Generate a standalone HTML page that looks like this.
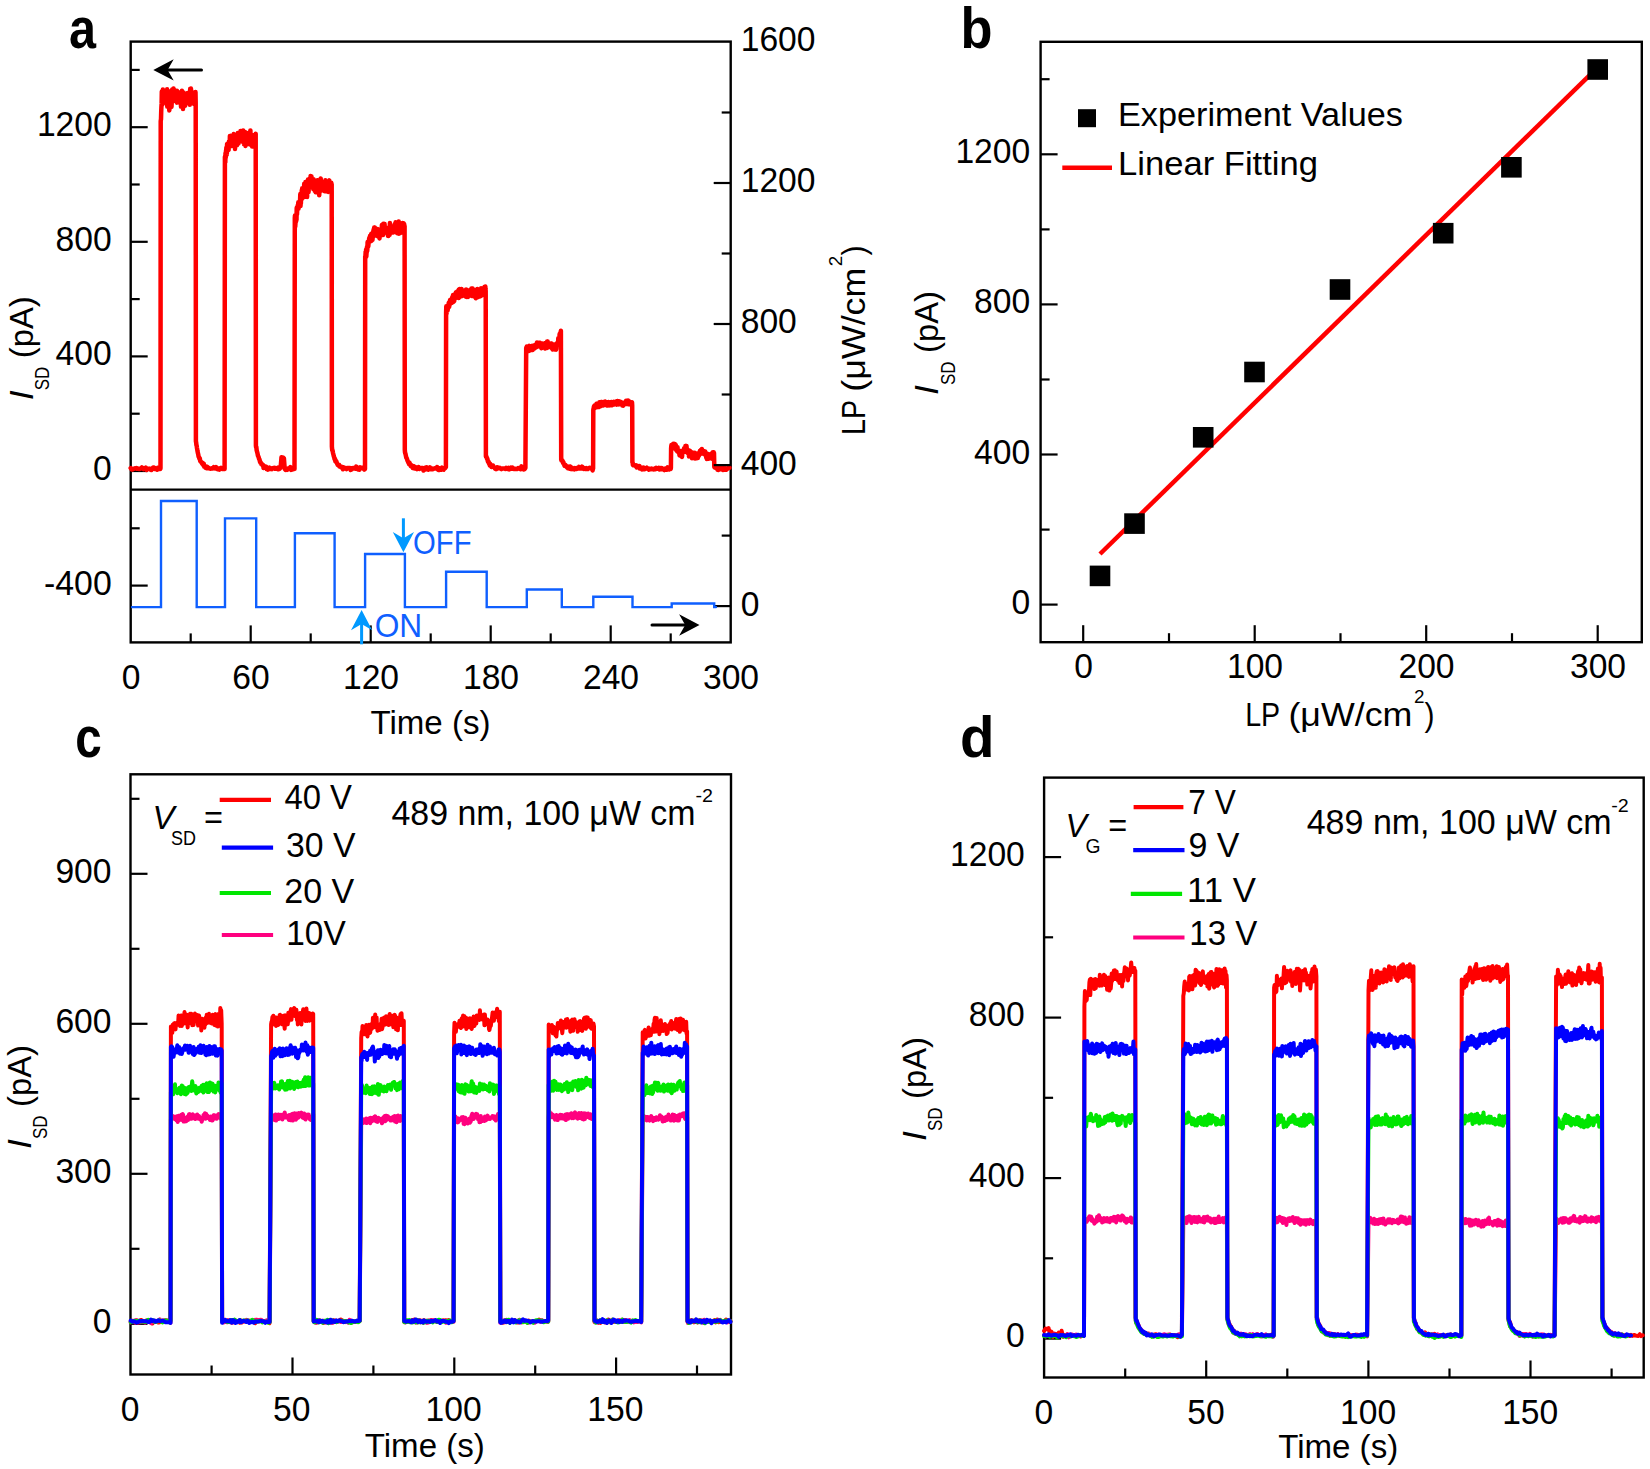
<!DOCTYPE html>
<html><head><meta charset="utf-8"><title>Figure</title>
<style>html,body{margin:0;padding:0;background:#fff}body{width:1650px;height:1469px;overflow:hidden}text{font-family:"Liberation Sans", sans-serif}</style>
</head><body>
<svg width="1650" height="1469" viewBox="0 0 1650 1469" font-family='"Liberation Sans", sans-serif' style="display:block">
<rect x="130.7" y="41.6" width="600.0" height="600.8" fill="none" stroke="#000" stroke-width="2.4"/>
<line x1="130.7" y1="489.6" x2="730.7" y2="489.6" stroke="#000" stroke-width="2.4" stroke-linecap="butt"/>
<line x1="130.7" y1="585.6" x2="147.7" y2="585.6" stroke="#000" stroke-width="2.2" stroke-linecap="butt"/>
<text x="111.7" y="594.6" font-size="35.5" text-anchor="end" textLength="67.7" lengthAdjust="spacingAndGlyphs">-400</text>
<line x1="130.7" y1="528.3" x2="139.7" y2="528.3" stroke="#000" stroke-width="2.2" stroke-linecap="butt"/>
<line x1="130.7" y1="471.0" x2="147.7" y2="471.0" stroke="#000" stroke-width="2.2" stroke-linecap="butt"/>
<text x="111.7" y="480.0" font-size="35.5" text-anchor="end" textLength="18.7" lengthAdjust="spacingAndGlyphs">0</text>
<line x1="130.7" y1="413.7" x2="139.7" y2="413.7" stroke="#000" stroke-width="2.2" stroke-linecap="butt"/>
<line x1="130.7" y1="356.4" x2="147.7" y2="356.4" stroke="#000" stroke-width="2.2" stroke-linecap="butt"/>
<text x="111.7" y="365.4" font-size="35.5" text-anchor="end" textLength="56.1" lengthAdjust="spacingAndGlyphs">400</text>
<line x1="130.7" y1="299.1" x2="139.7" y2="299.1" stroke="#000" stroke-width="2.2" stroke-linecap="butt"/>
<line x1="130.7" y1="241.8" x2="147.7" y2="241.8" stroke="#000" stroke-width="2.2" stroke-linecap="butt"/>
<text x="111.7" y="250.8" font-size="35.5" text-anchor="end" textLength="56.1" lengthAdjust="spacingAndGlyphs">800</text>
<line x1="130.7" y1="184.5" x2="139.7" y2="184.5" stroke="#000" stroke-width="2.2" stroke-linecap="butt"/>
<line x1="130.7" y1="127.2" x2="147.7" y2="127.2" stroke="#000" stroke-width="2.2" stroke-linecap="butt"/>
<text x="111.7" y="136.2" font-size="35.5" text-anchor="end" textLength="74.8" lengthAdjust="spacingAndGlyphs">1200</text>
<line x1="130.7" y1="69.9" x2="139.7" y2="69.9" stroke="#000" stroke-width="2.2" stroke-linecap="butt"/>
<line x1="730.7" y1="606.1" x2="713.7" y2="606.1" stroke="#000" stroke-width="2.2" stroke-linecap="butt"/>
<line x1="730.7" y1="535.6" x2="721.7" y2="535.6" stroke="#000" stroke-width="2.2" stroke-linecap="butt"/>
<line x1="730.7" y1="465.1" x2="713.7" y2="465.1" stroke="#000" stroke-width="2.2" stroke-linecap="butt"/>
<line x1="730.7" y1="394.5" x2="721.7" y2="394.5" stroke="#000" stroke-width="2.2" stroke-linecap="butt"/>
<line x1="730.7" y1="324.0" x2="713.7" y2="324.0" stroke="#000" stroke-width="2.2" stroke-linecap="butt"/>
<line x1="730.7" y1="253.5" x2="721.7" y2="253.5" stroke="#000" stroke-width="2.2" stroke-linecap="butt"/>
<line x1="730.7" y1="183.0" x2="713.7" y2="183.0" stroke="#000" stroke-width="2.2" stroke-linecap="butt"/>
<line x1="730.7" y1="112.5" x2="721.7" y2="112.5" stroke="#000" stroke-width="2.2" stroke-linecap="butt"/>
<text x="740.7" y="615.5" font-size="35.5" textLength="18.7" lengthAdjust="spacingAndGlyphs">0</text>
<text x="740.7" y="474.5" font-size="35.5" textLength="56.1" lengthAdjust="spacingAndGlyphs">400</text>
<text x="740.7" y="333.4" font-size="35.5" textLength="56.1" lengthAdjust="spacingAndGlyphs">800</text>
<text x="740.7" y="192.4" font-size="35.5" textLength="74.8" lengthAdjust="spacingAndGlyphs">1200</text>
<text x="740.7" y="51.3" font-size="35.5" textLength="74.8" lengthAdjust="spacingAndGlyphs">1600</text>
<text x="131.0" y="689" font-size="35.5" text-anchor="middle" textLength="18.7" lengthAdjust="spacingAndGlyphs">0</text>
<line x1="190.7" y1="642.4" x2="190.7" y2="633.4" stroke="#000" stroke-width="2.2" stroke-linecap="butt"/>
<line x1="250.7" y1="642.4" x2="250.7" y2="625.4" stroke="#000" stroke-width="2.2" stroke-linecap="butt"/>
<text x="251.0" y="689" font-size="35.5" text-anchor="middle" textLength="37.4" lengthAdjust="spacingAndGlyphs">60</text>
<line x1="310.7" y1="642.4" x2="310.7" y2="633.4" stroke="#000" stroke-width="2.2" stroke-linecap="butt"/>
<line x1="370.7" y1="642.4" x2="370.7" y2="625.4" stroke="#000" stroke-width="2.2" stroke-linecap="butt"/>
<text x="371.0" y="689" font-size="35.5" text-anchor="middle" textLength="56.1" lengthAdjust="spacingAndGlyphs">120</text>
<line x1="430.7" y1="642.4" x2="430.7" y2="633.4" stroke="#000" stroke-width="2.2" stroke-linecap="butt"/>
<line x1="490.7" y1="642.4" x2="490.7" y2="625.4" stroke="#000" stroke-width="2.2" stroke-linecap="butt"/>
<text x="491.0" y="689" font-size="35.5" text-anchor="middle" textLength="56.1" lengthAdjust="spacingAndGlyphs">180</text>
<line x1="550.7" y1="642.4" x2="550.7" y2="633.4" stroke="#000" stroke-width="2.2" stroke-linecap="butt"/>
<line x1="610.7" y1="642.4" x2="610.7" y2="625.4" stroke="#000" stroke-width="2.2" stroke-linecap="butt"/>
<text x="611.0" y="689" font-size="35.5" text-anchor="middle" textLength="56.1" lengthAdjust="spacingAndGlyphs">240</text>
<line x1="670.7" y1="642.4" x2="670.7" y2="633.4" stroke="#000" stroke-width="2.2" stroke-linecap="butt"/>
<text x="731.0" y="689" font-size="35.5" text-anchor="middle" textLength="56.1" lengthAdjust="spacingAndGlyphs">300</text>
<text x="370.5" y="733.5" font-size="33.5" textLength="120" lengthAdjust="spacingAndGlyphs">Time (s)</text>
<g transform="translate(33 399.3) rotate(-90)">
<text x="-1" y="0" font-size="33.5" textLength="10" lengthAdjust="spacingAndGlyphs" font-style="italic">I</text>
<text x="9" y="16.2" font-size="20" textLength="23.5" lengthAdjust="spacingAndGlyphs">SD</text>
<text x="41" y="0" font-size="33.5" textLength="62" lengthAdjust="spacingAndGlyphs">(pA)</text>
</g>
<g transform="translate(865 432.5) rotate(-90)">
<text x="-2.4" y="0" font-size="33.5" textLength="35" lengthAdjust="spacingAndGlyphs">LP</text>
<text x="40.8" y="0" font-size="33.5" textLength="124" lengthAdjust="spacingAndGlyphs">(μW/cm</text>
<text x="166.3" y="-22.7" font-size="18.5" textLength="10.5" lengthAdjust="spacingAndGlyphs">2</text>
<text x="177" y="0" font-size="33.5" textLength="10" lengthAdjust="spacingAndGlyphs">)</text>
</g>
<text x="69" y="48" font-size="57" textLength="27" lengthAdjust="spacingAndGlyphs" font-weight="bold">a</text>
<path d="M130.7,468.1 131.5,469.3 132.3,469.6 133.1,469.1 133.9,468.7 134.7,468.5 135.5,468.3 136.3,468.0 137.1,468.8 137.9,468.4 138.7,468.8 139.5,469.1 140.3,468.4 141.1,468.4 141.9,467.4 142.7,468.2 143.5,469.2 144.3,468.3 145.1,468.9 145.9,467.6 146.7,469.9 147.5,469.1 148.3,469.1 149.1,468.6 149.9,468.8 150.7,469.8 151.5,470.0 152.3,468.5 153.1,467.6 153.9,467.6 154.7,469.0 155.5,468.3 156.3,469.3 157.1,469.7 157.9,467.8 158.7,468.2 159.5,468.9 160.3,468.9 160.5,468.0 160.7,121.2 161.0,119.1 161.2,111.8 161.4,107.0 161.6,103.9 161.8,91.5 162.1,95.8 162.3,102.0 162.5,104.5 162.7,100.6 162.9,89.5 163.2,100.5 163.4,93.6 163.6,102.6 163.8,99.2 164.0,94.1 164.3,92.0 164.5,98.9 164.7,97.0 164.9,102.4 165.1,100.4 165.4,101.0 165.6,91.0 165.8,94.8 166.0,101.8 166.2,93.5 166.5,101.2 166.7,103.7 166.9,95.6 167.1,89.2 167.3,106.6 167.6,96.6 167.8,103.2 168.0,102.1 168.2,104.7 168.4,100.7 168.7,94.9 168.9,102.2 169.1,95.9 169.3,110.4 169.5,105.9 169.8,104.8 170.0,97.5 170.2,98.3 170.4,105.2 170.6,100.7 170.9,100.3 171.1,91.0 171.3,102.8 171.5,106.9 171.7,102.8 172.0,100.3 172.2,89.4 172.4,95.0 172.6,95.4 172.8,93.5 173.1,92.4 173.3,91.7 173.5,88.5 173.7,99.2 173.9,94.1 174.2,100.2 174.4,93.8 174.6,94.2 174.8,92.8 175.0,92.3 175.3,100.8 175.5,99.1 175.7,100.6 175.9,90.7 176.1,100.9 176.4,102.0 176.6,98.0 176.8,102.7 177.0,90.8 177.2,92.4 177.5,99.8 177.7,97.6 177.9,101.1 178.1,97.6 178.3,98.5 178.6,98.1 178.8,100.8 179.0,94.6 179.2,94.4 179.4,97.8 179.7,95.6 179.9,98.1 180.1,103.1 180.3,100.9 180.5,98.9 180.8,91.9 181.0,106.6 181.2,100.7 181.4,97.3 181.6,94.7 181.9,90.8 182.1,95.8 182.3,104.7 182.5,93.0 182.7,97.6 183.0,109.0 183.2,99.4 183.4,104.9 183.6,92.6 183.8,96.9 184.1,94.8 184.3,94.3 184.5,102.8 184.7,95.0 184.9,102.1 185.2,105.8 185.4,97.7 185.6,100.4 185.8,101.9 186.0,97.8 186.3,98.5 186.5,101.7 186.7,95.3 186.9,98.4 187.1,94.4 187.4,102.7 187.6,93.0 187.8,102.4 188.0,97.5 188.2,94.6 188.5,96.5 188.7,102.9 188.9,92.6 189.1,99.8 189.3,99.9 189.6,98.2 189.8,104.8 190.0,100.5 190.2,88.8 190.4,90.7 190.7,90.5 190.9,88.4 191.1,90.3 191.3,96.4 191.5,93.9 191.8,97.4 192.0,92.8 192.2,98.8 192.4,100.2 192.6,92.4 192.9,93.9 193.1,94.8 193.3,96.5 193.5,94.2 193.7,96.6 194.0,96.7 194.2,104.1 194.4,94.3 194.6,98.4 194.8,97.0 195.1,98.5 195.3,98.4 195.5,92.1 195.7,103.1 195.9,441.2 196.2,442.9 196.4,445.0 196.6,445.3 197.0,448.1 197.4,450.5 197.8,452.6 198.2,454.2 198.6,456.6 199.0,457.1 199.4,458.8 199.8,458.3 200.2,460.9 200.6,461.5 201.0,461.9 201.4,462.1 201.8,463.0 202.2,463.8 202.6,462.8 203.0,464.8 203.4,465.0 203.8,463.7 204.2,466.6 204.6,465.5 205.0,466.2 205.4,467.6 205.8,467.4 206.2,466.5 206.6,468.3 207.0,467.6 207.4,466.9 207.8,467.9 208.2,467.6 209.0,468.4 209.8,468.6 210.6,468.7 211.4,468.6 212.2,468.0 213.0,468.4 213.8,467.1 214.6,468.3 215.4,468.5 216.2,467.1 217.0,468.8 217.8,469.3 218.6,468.6 219.4,469.5 220.2,468.3 221.0,467.7 221.8,468.3 222.6,469.0 223.4,468.8 224.2,468.4 224.4,467.9 224.6,469.0 224.9,156.7 225.1,159.3 225.3,162.5 225.5,153.0 225.7,158.0 226.0,150.8 226.2,150.0 226.4,147.4 226.6,149.6 226.8,154.7 227.1,144.1 227.3,144.0 227.5,144.0 227.7,144.1 227.9,147.5 228.2,147.4 228.4,149.6 228.6,149.9 228.8,141.8 229.0,145.7 229.3,141.6 229.5,144.7 229.7,143.2 229.9,135.9 230.1,146.2 230.4,140.2 230.6,145.0 230.8,135.8 231.0,140.0 231.2,144.4 231.5,146.0 231.7,139.4 231.9,141.5 232.1,143.2 232.3,144.7 232.6,141.7 232.8,139.3 233.0,140.7 233.2,136.3 233.4,136.3 233.7,134.1 233.9,137.6 234.1,141.2 234.3,140.0 234.5,142.4 234.8,142.0 235.0,148.9 235.2,136.6 235.4,144.0 235.6,145.9 235.9,140.3 236.1,140.1 236.3,137.2 236.5,140.8 236.7,137.0 237.0,145.2 237.2,143.3 237.4,136.5 237.6,137.9 237.8,132.9 238.1,136.4 238.3,134.0 238.5,143.5 238.7,140.0 238.9,134.7 239.2,139.6 239.4,138.0 239.6,140.2 239.8,137.7 240.0,137.5 240.3,135.8 240.5,131.1 240.7,137.2 240.9,140.4 241.1,135.2 241.4,141.2 241.6,136.6 241.8,137.2 242.0,136.3 242.2,141.3 242.5,135.3 242.7,135.9 242.9,134.6 243.1,130.6 243.3,142.1 243.6,135.6 243.8,134.5 244.0,144.3 244.2,132.1 244.4,138.5 244.7,133.6 244.9,133.2 245.1,132.0 245.3,144.3 245.5,146.0 245.8,143.8 246.0,138.1 246.2,136.2 246.4,138.4 246.6,137.0 246.9,133.7 247.1,141.3 247.3,134.6 247.5,144.1 247.7,137.4 248.0,137.8 248.2,132.9 248.4,138.7 248.6,139.6 248.8,133.9 249.1,140.3 249.3,142.7 249.5,140.7 249.7,144.5 249.9,132.7 250.2,142.9 250.4,130.4 250.6,141.4 250.8,141.3 251.0,136.7 251.3,139.6 251.5,141.5 251.7,144.1 251.9,138.6 252.1,146.5 252.4,144.2 252.6,135.0 252.8,144.5 253.0,146.6 253.2,141.0 253.5,136.1 253.7,142.8 253.9,141.7 254.1,137.7 254.3,138.7 254.6,137.9 254.8,142.0 255.0,144.2 255.2,134.9 255.4,137.0 255.7,133.7 255.9,445.4 256.1,447.3 256.3,446.8 256.7,450.5 257.1,451.9 257.5,453.4 257.9,455.5 258.3,456.4 258.7,457.4 259.1,459.1 259.5,459.3 259.9,461.4 260.3,462.5 260.7,462.4 261.1,463.8 261.5,463.5 261.9,464.3 262.3,465.1 262.7,464.7 263.1,465.1 263.5,468.0 263.9,466.4 264.3,466.3 264.7,466.3 265.1,467.3 265.5,467.9 265.9,467.2 266.3,466.9 266.7,469.0 267.1,468.7 267.5,468.2 267.9,469.7 268.7,468.5 269.5,467.6 270.3,469.0 271.1,468.3 271.9,469.1 272.7,468.2 273.5,468.1 274.3,467.8 275.1,468.7 275.9,468.0 276.7,468.4 277.5,469.0 278.3,467.7 279.1,469.1 279.9,468.6 280.7,467.0 281.5,457.2 282.3,458.4 283.1,457.6 283.9,458.2 284.7,468.8 285.5,469.8 286.3,468.6 287.1,469.8 287.9,468.4 288.7,468.4 289.5,468.1 290.3,467.1 291.1,469.9 291.9,469.6 292.7,469.4 293.5,469.1 294.3,468.1 294.5,468.9 294.8,218.0 295.0,215.5 295.2,226.9 295.4,224.0 295.6,220.4 295.9,220.7 296.1,221.3 296.3,216.9 296.5,219.9 296.7,207.7 297.0,214.5 297.2,209.4 297.4,208.4 297.6,206.1 297.8,205.1 298.1,208.2 298.3,202.3 298.5,208.8 298.7,206.9 298.9,205.9 299.2,203.8 299.4,203.4 299.6,202.4 299.8,201.8 300.0,202.0 300.3,194.1 300.5,206.1 300.7,202.4 300.9,203.5 301.1,195.3 301.4,193.3 301.6,194.4 301.8,190.0 302.0,198.7 302.2,188.2 302.5,195.5 302.7,191.6 302.9,189.7 303.1,191.0 303.3,197.0 303.6,191.2 303.8,197.3 304.0,192.0 304.2,183.8 304.4,186.4 304.7,189.2 304.9,186.8 305.1,185.1 305.3,190.7 305.5,181.9 305.8,187.1 306.0,193.7 306.2,188.8 306.4,185.1 306.6,184.8 306.9,186.0 307.1,197.0 307.3,188.1 307.5,183.2 307.7,187.1 308.0,179.5 308.2,187.0 308.4,182.7 308.6,191.9 308.8,182.5 309.1,186.8 309.3,181.1 309.5,186.6 309.7,181.7 309.9,178.8 310.2,178.8 310.4,182.6 310.6,175.9 310.8,186.1 311.0,184.3 311.3,181.8 311.5,176.6 311.7,181.6 311.9,184.6 312.1,187.3 312.4,185.0 312.6,184.6 312.8,184.5 313.0,182.1 313.2,188.9 313.5,179.2 313.7,188.1 313.9,187.3 314.1,185.3 314.3,181.2 314.6,190.7 314.8,185.2 315.0,180.4 315.2,187.4 315.4,183.2 315.7,192.3 315.9,181.3 316.1,189.3 316.3,192.2 316.5,182.9 316.8,181.4 317.0,183.4 317.2,183.0 317.4,182.6 317.6,180.3 317.9,187.1 318.1,190.5 318.3,184.9 318.5,187.3 318.7,190.8 319.0,186.2 319.2,195.3 319.4,191.9 319.6,187.8 319.8,184.2 320.1,181.4 320.3,182.0 320.5,179.9 320.7,178.4 320.9,185.8 321.2,184.0 321.4,185.4 321.6,190.5 321.8,190.4 322.0,185.8 322.3,188.1 322.5,182.3 322.7,187.1 322.9,189.7 323.1,185.0 323.4,184.4 323.6,189.5 323.8,188.5 324.0,185.9 324.2,185.9 324.5,183.5 324.7,191.3 324.9,186.6 325.1,183.1 325.3,180.3 325.6,187.2 325.8,189.7 326.0,188.5 326.2,187.9 326.4,190.3 326.7,190.3 326.9,189.4 327.1,191.6 327.3,187.8 327.5,182.3 327.8,187.3 328.0,189.1 328.2,191.9 328.4,188.7 328.6,187.8 328.9,185.1 329.1,181.4 329.3,180.4 329.5,188.6 329.7,191.0 330.0,188.5 330.2,188.2 330.4,185.9 330.6,184.5 330.8,191.0 331.1,188.9 331.3,182.7 331.5,184.1 331.7,184.4 331.9,446.6 332.2,450.3 332.4,450.6 332.6,450.5 333.0,452.9 333.4,454.6 333.8,456.2 334.2,457.4 334.6,459.3 335.0,458.8 335.4,461.4 335.8,461.6 336.2,461.1 336.6,462.1 337.0,463.5 337.4,464.1 337.8,465.0 338.2,465.3 338.6,465.5 339.0,464.8 339.4,466.4 339.8,465.9 340.2,466.3 340.6,466.5 341.0,467.2 341.4,466.6 341.8,467.2 342.2,467.4 342.6,467.9 343.0,469.3 343.4,467.3 343.8,467.4 344.2,468.4 345.0,468.3 345.8,468.0 346.6,469.0 347.4,467.9 348.2,468.0 349.0,467.9 349.8,467.9 350.6,470.0 351.4,468.3 352.2,469.0 353.0,467.9 353.8,467.9 354.6,468.1 355.4,468.7 356.2,466.7 357.0,468.7 357.8,469.4 358.6,468.0 359.4,469.7 360.2,467.3 361.0,468.0 361.8,467.7 362.6,467.9 363.4,468.4 364.2,469.6 365.0,469.1 365.2,256.2 365.4,256.4 365.7,251.2 365.9,256.1 366.1,249.6 366.3,256.7 366.5,253.3 366.8,251.7 367.0,246.8 367.2,251.2 367.4,248.2 367.6,242.1 367.9,246.2 368.1,244.9 368.3,246.2 368.5,243.7 368.7,242.5 369.0,240.3 369.2,238.1 369.4,240.4 369.6,241.5 369.8,240.3 370.1,235.7 370.3,236.0 370.5,236.8 370.7,241.2 370.9,239.3 371.2,234.0 371.4,240.9 371.6,234.5 371.8,235.2 372.0,237.7 372.3,236.0 372.5,239.9 372.7,232.2 372.9,234.7 373.1,237.2 373.4,235.2 373.6,229.6 373.8,234.0 374.0,232.2 374.2,227.6 374.5,231.4 374.7,234.6 374.9,227.5 375.1,228.1 375.3,228.4 375.6,233.1 375.8,230.3 376.0,231.7 376.2,233.6 376.4,230.4 376.7,235.1 376.9,235.7 377.1,233.6 377.3,231.0 377.5,230.5 377.8,230.0 378.0,229.1 378.2,236.5 378.4,235.2 378.6,236.2 378.9,234.1 379.1,235.7 379.3,236.1 379.5,238.4 379.7,235.0 380.0,230.3 380.2,233.9 380.4,231.7 380.6,234.6 380.8,231.3 381.1,231.4 381.3,234.6 381.5,230.7 381.7,230.3 381.9,224.9 382.2,233.2 382.4,225.3 382.6,226.6 382.8,226.3 383.0,235.1 383.3,223.8 383.5,231.4 383.7,227.9 383.9,229.1 384.1,225.6 384.4,226.7 384.6,224.0 384.8,232.2 385.0,228.0 385.2,228.5 385.5,229.4 385.7,231.2 385.9,230.4 386.1,231.9 386.3,227.8 386.6,232.9 386.8,231.7 387.0,228.7 387.2,233.5 387.4,229.5 387.7,229.9 387.9,235.7 388.1,231.6 388.3,236.1 388.5,230.7 388.8,234.4 389.0,231.9 389.2,233.2 389.4,231.3 389.6,235.0 389.9,223.1 390.1,229.3 390.3,228.2 390.5,231.3 390.7,226.5 391.0,228.4 391.2,230.2 391.4,226.8 391.6,227.2 391.8,229.4 392.1,227.0 392.3,229.4 392.5,230.6 392.7,232.6 392.9,231.4 393.2,226.4 393.4,232.5 393.6,228.9 393.8,230.5 394.0,230.3 394.3,230.8 394.5,227.9 394.7,224.2 394.9,226.3 395.1,231.7 395.4,229.2 395.6,222.3 395.8,231.9 396.0,226.1 396.2,230.3 396.5,226.2 396.7,229.0 396.9,229.6 397.1,227.4 397.3,233.2 397.6,225.1 397.8,224.2 398.0,229.7 398.2,228.8 398.4,226.2 398.7,221.5 398.9,233.8 399.1,232.0 399.3,228.4 399.5,227.0 399.8,223.3 400.0,230.1 400.2,233.1 400.4,229.4 400.6,230.5 400.9,232.1 401.1,227.6 401.3,230.6 401.5,228.4 401.7,230.8 402.0,229.4 402.2,232.6 402.4,230.7 402.6,223.1 402.8,230.3 403.1,231.6 403.3,229.9 403.5,223.3 403.7,225.5 403.9,226.1 404.2,224.1 404.4,226.8 404.6,225.9 404.8,449.8 405.0,452.2 405.3,453.4 405.5,453.9 405.9,455.9 406.3,457.7 406.7,458.2 407.1,459.3 407.5,460.7 407.9,461.4 408.3,462.6 408.7,462.6 409.1,464.3 409.5,462.7 409.9,464.4 410.3,464.2 410.7,466.1 411.1,465.4 411.5,466.0 411.9,465.5 412.3,465.9 412.7,467.9 413.1,466.1 413.5,468.2 413.9,466.3 414.3,467.5 414.7,468.4 415.1,467.2 415.5,467.8 415.9,468.6 416.3,468.5 416.7,467.7 417.1,469.1 417.9,468.9 418.7,467.0 419.5,469.0 420.3,468.2 421.1,468.2 421.9,467.9 422.7,468.0 423.5,470.5 424.3,469.1 425.1,467.9 425.9,469.3 426.7,467.4 427.5,468.5 428.3,469.6 429.1,468.3 429.9,467.3 430.7,469.2 431.5,468.3 432.3,469.3 433.1,469.1 433.9,468.6 434.7,468.3 435.5,468.5 436.3,468.6 437.1,467.0 437.9,469.5 438.7,470.0 439.5,468.3 440.3,468.6 441.1,469.7 441.9,467.5 442.7,469.2 443.5,469.7 444.3,468.4 445.1,468.2 445.9,467.0 446.1,312.8 446.3,306.3 446.5,313.9 446.8,309.8 447.0,309.8 447.2,306.2 447.4,306.3 447.6,310.6 447.9,307.7 448.1,306.4 448.3,306.3 448.5,305.4 448.7,303.2 449.0,302.5 449.2,306.9 449.4,303.7 449.6,301.9 449.8,304.5 450.1,300.0 450.3,300.9 450.5,301.2 450.7,301.3 450.9,299.8 451.2,299.4 451.4,299.9 451.6,303.0 451.8,299.7 452.0,297.8 452.3,301.1 452.5,296.7 452.7,298.2 452.9,297.9 453.1,295.0 453.4,301.9 453.6,295.4 453.8,297.5 454.0,301.2 454.2,300.9 454.5,298.5 454.7,296.8 454.9,297.2 455.1,298.3 455.3,294.0 455.6,296.7 455.8,292.6 456.0,297.7 456.2,293.2 456.4,295.8 456.7,293.0 456.9,291.8 457.1,294.2 457.3,296.6 457.5,292.9 457.8,294.8 458.0,291.8 458.2,290.6 458.4,295.4 458.6,298.1 458.9,289.4 459.1,289.9 459.3,291.4 459.5,295.3 459.7,289.1 460.0,295.6 460.2,296.7 460.4,292.2 460.6,292.1 460.8,290.9 461.1,295.7 461.3,293.6 461.5,288.9 461.7,294.6 461.9,294.9 462.2,291.7 462.4,291.0 462.6,296.0 462.8,290.5 463.0,293.4 463.3,293.4 463.5,294.6 463.7,292.2 463.9,292.4 464.1,295.5 464.4,292.8 464.6,294.8 464.8,292.4 465.0,291.3 465.2,293.2 465.5,290.3 465.7,295.8 465.9,296.7 466.1,289.6 466.3,295.9 466.6,296.9 466.8,295.0 467.0,294.6 467.2,294.3 467.4,291.2 467.7,294.2 467.9,296.9 468.1,295.4 468.3,290.5 468.5,294.5 468.8,293.0 469.0,291.2 469.2,290.6 469.4,292.7 469.6,291.4 469.9,293.9 470.1,293.0 470.3,291.1 470.5,295.3 470.7,294.2 471.0,293.0 471.2,294.2 471.4,288.6 471.6,288.6 471.8,296.0 472.1,292.0 472.3,289.6 472.5,288.4 472.7,289.8 472.9,289.8 473.2,293.9 473.4,289.6 473.6,290.4 473.8,292.8 474.0,296.5 474.3,294.9 474.5,292.7 474.7,291.9 474.9,296.9 475.1,293.4 475.4,290.6 475.6,297.4 475.8,298.2 476.0,297.8 476.2,293.4 476.5,295.7 476.7,292.1 476.9,295.1 477.1,294.9 477.3,289.1 477.6,297.2 477.8,295.1 478.0,293.6 478.2,296.6 478.4,295.1 478.7,293.9 478.9,293.1 479.1,293.7 479.3,290.7 479.5,292.6 479.8,296.6 480.0,291.5 480.2,292.2 480.4,294.4 480.6,293.8 480.9,295.9 481.1,288.3 481.3,294.7 481.5,295.3 481.7,290.8 482.0,290.7 482.2,289.4 482.4,289.9 482.6,293.2 482.8,291.4 483.1,291.5 483.3,289.4 483.5,288.8 483.7,292.5 483.9,288.1 484.2,295.3 484.4,292.5 484.6,286.8 484.8,292.7 485.0,290.4 485.3,286.4 485.5,289.1 485.7,290.9 485.9,456.4 486.1,456.3 486.4,456.6 486.6,457.0 487.0,458.6 487.4,458.9 487.8,461.2 488.2,462.1 488.6,461.5 489.0,463.6 489.4,463.7 489.8,465.4 490.2,463.8 490.6,464.5 491.0,466.0 491.4,467.0 491.8,465.9 492.2,466.1 492.6,465.7 493.0,465.5 493.4,466.8 493.8,467.3 494.2,467.5 494.6,467.7 495.0,468.6 495.4,468.4 495.8,467.9 496.2,469.1 496.6,469.0 497.0,467.2 497.4,468.6 497.8,467.6 498.2,467.5 499.0,468.3 499.8,467.8 500.6,468.6 501.4,469.1 502.2,468.6 503.0,468.5 503.8,468.5 504.6,468.6 505.4,469.0 506.2,467.9 507.0,468.8 507.8,469.0 508.6,468.0 509.4,469.4 510.2,468.7 511.0,467.6 511.8,468.6 512.6,467.7 513.4,468.9 514.2,469.1 515.0,468.8 515.8,469.1 516.6,468.9 517.4,469.0 518.2,468.1 519.0,468.4 519.8,468.8 520.6,469.2 521.4,466.4 522.2,468.8 523.0,467.7 523.8,469.5 524.6,469.2 525.4,467.8 526.2,348.2 526.4,347.4 526.6,348.8 526.8,346.5 527.1,350.3 527.3,350.1 527.5,349.0 527.7,349.2 527.9,346.4 528.2,347.6 528.4,350.2 528.6,348.6 528.8,351.1 529.0,347.3 529.3,345.9 529.5,350.4 529.7,349.0 529.9,349.7 530.1,349.2 530.4,346.2 530.6,346.4 530.8,348.7 531.0,348.0 531.2,348.7 531.5,349.7 531.7,347.8 531.9,350.1 532.1,346.8 532.3,345.9 532.6,349.9 532.8,348.0 533.0,349.5 533.2,345.8 533.4,347.7 533.7,346.5 533.9,346.5 534.1,346.7 534.3,348.5 534.5,345.6 534.8,347.8 535.0,345.0 535.2,346.6 535.4,346.7 535.6,345.8 535.9,347.5 536.1,345.2 536.3,345.7 536.5,343.8 536.7,344.6 537.0,342.4 537.2,346.4 537.4,346.6 537.6,343.7 537.8,345.2 538.1,346.1 538.3,344.1 538.5,346.2 538.7,342.8 538.9,344.5 539.2,344.4 539.4,346.4 539.6,343.6 539.8,342.7 540.0,343.9 540.3,343.4 540.5,346.6 540.7,343.6 540.9,343.7 541.1,346.3 541.4,348.2 541.6,345.3 541.8,346.6 542.0,346.8 542.2,343.6 542.5,344.0 542.7,345.4 542.9,344.5 543.1,345.2 543.3,346.8 543.6,347.3 543.8,347.0 544.0,345.2 544.2,345.9 544.4,346.9 544.7,347.6 544.9,348.0 545.1,348.4 545.3,343.1 545.5,347.2 545.8,347.4 546.0,345.9 546.2,347.6 546.4,345.8 546.6,344.2 546.9,348.1 547.1,341.6 547.3,345.2 547.5,347.5 547.7,341.6 548.0,346.3 548.2,343.1 548.4,344.1 548.6,345.9 548.8,345.2 549.1,346.5 549.3,346.6 549.5,346.5 549.7,345.8 549.9,345.4 550.2,344.9 550.4,346.6 550.6,346.9 550.8,343.6 551.0,347.7 551.3,345.0 551.5,345.3 551.7,343.6 551.9,348.4 552.1,344.3 552.4,348.6 552.6,349.5 552.8,346.0 553.0,348.8 553.2,346.6 553.5,346.7 553.7,349.1 553.9,345.5 554.1,348.2 554.3,344.6 554.6,349.4 554.8,349.0 555.0,347.0 555.2,349.0 555.4,347.5 555.7,345.4 555.9,346.2 556.1,349.7 556.3,348.5 556.5,344.6 556.8,343.4 557.0,344.1 557.2,343.6 557.4,344.8 557.6,344.4 557.9,344.0 558.1,343.1 558.3,338.2 558.5,340.2 558.7,341.8 559.0,338.1 559.2,338.5 559.4,339.6 559.6,334.1 559.8,334.2 560.1,335.9 560.3,332.8 560.5,333.4 560.7,332.2 560.9,330.7 561.2,459.4 561.4,460.4 561.6,459.3 561.8,460.4 562.2,460.6 562.6,460.8 563.0,462.8 563.4,462.3 563.8,464.0 564.2,464.3 564.6,465.8 565.0,465.4 565.4,464.8 565.8,465.8 566.2,466.7 566.6,466.6 567.0,467.4 567.4,467.5 567.8,468.2 568.2,466.6 568.6,466.7 569.0,467.7 569.4,468.7 569.8,468.0 570.2,466.5 570.6,468.9 571.0,468.4 571.4,468.5 571.8,467.6 572.2,469.1 572.6,468.1 573.0,468.9 573.4,468.6 574.2,469.3 575.0,468.1 575.8,468.8 576.6,469.0 577.4,467.8 578.2,468.3 579.0,466.9 579.8,468.3 580.6,468.6 581.4,468.6 582.2,466.7 583.0,467.7 583.8,468.9 584.6,468.4 585.4,469.0 586.2,468.2 587.0,469.0 587.8,469.0 588.6,468.3 589.4,467.7 590.2,468.0 591.0,468.1 591.8,468.6 592.6,470.4 592.8,468.8 593.1,468.8 593.3,410.1 593.5,408.7 593.7,408.5 593.9,406.7 594.2,406.1 594.4,408.3 594.6,405.6 594.8,407.0 595.0,407.6 595.3,406.3 595.5,406.5 595.7,405.9 595.9,407.1 596.1,404.8 596.4,403.8 596.6,407.3 596.8,407.2 597.0,404.8 597.2,406.7 597.5,405.4 597.7,403.4 597.9,405.4 598.1,404.0 598.3,404.3 598.6,406.9 598.8,406.1 599.0,407.0 599.2,405.1 599.4,402.3 599.7,405.8 599.9,406.3 600.1,406.1 600.3,405.4 600.5,406.2 600.8,403.0 601.0,403.1 601.2,402.1 601.4,403.8 601.6,401.9 601.9,402.4 602.1,404.2 602.3,403.7 602.5,404.4 602.7,403.7 603.0,402.8 603.2,405.6 603.4,403.9 603.6,401.9 603.8,403.9 604.1,404.1 604.3,403.8 604.5,404.3 604.7,402.0 604.9,403.4 605.2,401.4 605.4,403.8 605.6,402.2 605.8,401.9 606.0,404.8 606.3,402.7 606.5,404.9 606.7,405.4 606.9,403.6 607.1,405.6 607.4,404.1 607.6,403.5 607.8,403.1 608.0,402.3 608.2,405.4 608.5,402.1 608.7,404.8 608.9,403.4 609.1,403.9 609.3,403.2 609.6,404.9 609.8,405.3 610.0,402.7 610.2,403.7 610.4,404.4 610.7,405.2 610.9,405.0 611.1,403.1 611.3,401.9 611.5,403.2 611.8,403.4 612.0,403.5 612.2,405.2 612.4,403.9 612.6,404.0 612.9,402.5 613.1,403.9 613.3,403.0 613.5,402.2 613.7,402.4 614.0,401.8 614.2,404.5 614.4,402.5 614.6,403.8 614.8,404.2 615.1,403.2 615.3,401.9 615.5,402.1 615.7,404.1 615.9,403.9 616.2,401.5 616.4,401.3 616.6,404.7 616.8,404.7 617.0,401.9 617.3,402.7 617.5,401.1 617.7,403.8 617.9,403.2 618.1,402.9 618.4,403.9 618.6,402.4 618.8,404.4 619.0,401.3 619.2,402.9 619.5,402.8 619.7,402.8 619.9,402.1 620.1,402.0 620.3,403.4 620.6,402.2 620.8,403.3 621.0,402.0 621.2,402.8 621.4,402.5 621.7,402.5 621.9,403.7 622.1,403.6 622.3,405.5 622.5,403.7 622.8,405.3 623.0,404.4 623.2,405.8 623.4,404.3 623.6,402.8 623.9,403.9 624.1,402.7 624.3,404.4 624.5,402.7 624.7,402.9 625.0,403.1 625.2,404.1 625.4,403.7 625.6,402.6 625.8,404.1 626.1,400.7 626.3,403.6 626.5,403.8 626.7,403.2 626.9,404.0 627.2,401.4 627.4,401.1 627.6,401.5 627.8,402.9 628.0,400.5 628.3,404.3 628.5,402.9 628.7,404.0 628.9,404.2 629.1,401.3 629.4,402.5 629.6,402.7 629.8,403.7 630.0,402.6 630.2,403.3 630.5,403.6 630.7,402.5 630.9,404.8 631.1,404.4 631.3,403.1 631.6,404.8 631.8,403.5 632.0,402.2 632.2,405.2 632.4,462.5 632.7,462.6 632.9,465.1 633.1,465.2 633.5,464.9 633.9,464.9 634.3,465.4 634.7,465.6 635.1,465.6 635.5,465.7 635.9,465.4 636.3,466.8 636.7,467.5 637.1,467.3 637.5,465.8 637.9,466.9 638.3,467.1 638.7,466.7 639.1,466.9 639.5,466.1 639.9,468.6 640.3,467.9 640.7,467.5 641.1,467.5 641.5,468.5 641.9,469.4 642.3,468.5 642.7,468.8 643.1,468.4 643.5,467.6 643.9,467.9 644.3,469.3 645.1,469.0 645.9,468.3 646.7,467.7 647.5,468.6 648.3,468.4 649.1,469.7 649.9,468.9 650.7,469.2 651.5,468.5 652.3,468.8 653.1,469.3 653.9,469.4 654.7,468.5 655.5,469.1 656.3,467.8 657.1,468.5 657.9,468.8 658.7,468.0 659.5,469.5 660.3,468.0 661.1,469.2 661.9,468.1 662.7,469.2 663.5,469.4 664.3,470.0 665.1,468.6 665.9,468.3 666.7,469.7 667.5,467.4 668.3,468.7 669.1,469.5 669.9,467.2 670.7,469.0 670.9,467.6 671.1,448.4 671.4,445.1 671.6,447.4 671.8,449.3 672.0,445.1 672.2,444.9 672.5,447.0 672.7,444.7 672.9,445.7 673.1,446.2 673.3,443.7 673.6,444.5 673.8,447.3 674.0,445.9 674.2,444.0 674.4,445.3 674.7,444.0 674.9,444.0 675.1,445.8 675.3,447.2 675.5,447.1 675.8,445.1 676.0,446.6 676.2,450.0 676.4,450.5 676.6,449.2 676.9,447.4 677.1,451.2 677.3,451.5 677.5,447.2 677.7,451.7 678.0,451.1 678.2,451.9 678.4,452.3 678.6,450.5 678.8,451.7 679.1,452.8 679.3,453.2 679.5,455.4 679.7,450.7 679.9,454.9 680.2,453.8 680.4,452.2 680.6,454.9 680.8,452.9 681.0,453.4 681.3,452.6 681.5,454.4 681.7,453.3 681.9,457.0 682.1,456.1 682.4,452.4 682.6,451.0 682.8,450.7 683.0,450.4 683.2,452.3 683.5,450.8 683.7,451.7 683.9,450.5 684.1,448.2 684.3,451.3 684.6,450.3 684.8,448.5 685.0,451.2 685.2,451.1 685.4,446.1 685.7,452.0 685.9,446.4 686.1,446.1 686.3,449.8 686.5,446.0 686.8,449.9 687.0,448.8 687.2,450.9 687.4,450.8 687.6,451.4 687.9,453.0 688.1,450.4 688.3,452.6 688.5,450.4 688.7,451.9 689.0,456.5 689.2,452.2 689.4,451.4 689.6,450.6 689.8,451.7 690.1,453.8 690.3,451.2 690.5,454.3 690.7,455.1 690.9,454.9 691.2,455.4 691.4,453.1 691.6,456.7 691.8,452.3 692.0,458.2 692.3,454.4 692.5,455.8 692.7,456.6 692.9,457.0 693.1,453.6 693.4,456.7 693.6,455.6 693.8,455.9 694.0,455.5 694.2,458.0 694.5,456.0 694.7,452.8 694.9,458.4 695.1,458.5 695.3,454.2 695.6,455.1 695.8,454.9 696.0,456.5 696.2,453.6 696.4,456.3 696.7,458.2 696.9,456.0 697.1,456.1 697.3,455.8 697.5,453.6 697.8,458.1 698.0,453.6 698.2,453.8 698.4,453.2 698.6,453.7 698.9,455.7 699.1,454.7 699.3,454.9 699.5,453.6 699.7,452.4 700.0,450.7 700.2,454.1 700.4,451.0 700.6,451.0 700.8,450.1 701.1,450.5 701.3,450.1 701.5,449.9 701.7,451.8 701.9,448.9 702.2,450.2 702.4,451.1 702.6,452.3 702.8,453.4 703.0,452.9 703.3,452.7 703.5,453.1 703.7,450.9 703.9,453.6 704.1,454.1 704.4,454.1 704.6,454.5 704.8,453.1 705.0,453.8 705.2,451.4 705.5,453.1 705.7,452.6 705.9,452.7 706.1,455.0 706.3,457.8 706.6,457.4 706.8,458.9 707.0,454.0 707.2,457.3 707.4,453.8 707.7,456.7 707.9,455.4 708.1,454.7 708.3,457.9 708.5,458.1 708.8,458.6 709.0,454.2 709.2,456.5 709.4,458.5 709.6,457.7 709.9,458.2 710.1,457.2 710.3,455.4 710.5,455.7 710.7,454.8 711.0,454.4 711.2,456.3 711.4,456.4 711.6,454.1 711.8,458.7 712.1,453.2 712.3,453.0 712.5,452.5 712.7,456.1 712.9,454.3 713.2,452.5 713.4,454.8 713.6,452.3 713.8,455.4 714.0,452.7 714.3,466.7 714.5,467.3 714.7,466.7 715.1,467.6 715.5,467.4 715.9,467.9 716.3,468.3 716.7,467.8 717.1,467.4 717.5,469.7 717.9,468.9 718.3,469.9 718.7,469.1 719.1,469.3 719.5,468.8 719.9,468.7 720.3,467.8 720.7,467.6 721.1,469.2 721.5,468.9 721.9,468.1 722.3,469.1 722.7,468.9 723.1,470.0 723.5,468.1 723.9,468.5 724.3,469.4 724.7,469.7 725.1,469.5 725.5,468.4 725.9,469.1 726.3,469.6 727.1,469.0 727.9,468.1 728.7,467.8 729.5,467.8" fill="none" stroke="#FF0000" stroke-width="4.5" stroke-linejoin="round" stroke-linecap="round"/>
<line x1="730.7" y1="465.1" x2="713.7" y2="465.1" stroke="#000" stroke-width="2.2" stroke-linecap="butt"/>
<path d="M132.0,607.1 161.0,607.1 161.0,501.0 196.7,501.0 196.7,607.1 225.0,607.1 225.0,518.4 256.2,518.4 256.2,607.1 294.9,607.1 294.9,533.3 334.6,533.3 334.6,607.1 365.1,607.1 365.1,554.0 404.9,554.0 404.9,607.1 446.1,607.1 446.1,571.8 486.7,571.8 486.7,607.1 526.8,607.1 526.8,589.5 561.8,589.5 561.8,607.1 593.3,607.1 593.3,596.7 632.5,596.7 632.5,607.1 671.7,607.1 671.7,603.5 714.2,603.5 714.2,607.1 716.0,607.1" fill="none" stroke="#0F5FFF" stroke-width="2.4" stroke-linejoin="miter" stroke-linecap="round"/>
<line x1="165.3" y1="69.9" x2="201.5" y2="69.9" stroke="#000" stroke-width="3" stroke-linecap="round"/>
<polygon points="153.3,69.9 173.70000000000002,59.2 167.60000000000002,69.9 173.70000000000002,80.60000000000001" fill="#000"/>
<line x1="687.5" y1="625" x2="652" y2="625" stroke="#000" stroke-width="3" stroke-linecap="round"/>
<polygon points="699.5,625 679.1,614.3 685.2,625 679.1,635.7" fill="#000"/>
<line x1="403.4" y1="540.3" x2="403.4" y2="518.3" stroke="#0099FF" stroke-width="3" stroke-linecap="butt"/>
<polygon points="403.4,552.3 392.79999999999995,532.0 403.4,538.3 414.0,532.0" fill="#0099FF"/>
<line x1="361.6" y1="622" x2="361.6" y2="644.3" stroke="#0099FF" stroke-width="3" stroke-linecap="butt"/>
<polygon points="361.6,610 351.0,630.3 361.6,624 372.20000000000005,630.3" fill="#0099FF"/>
<text x="413" y="553.8" font-size="33.5" textLength="58.5" lengthAdjust="spacingAndGlyphs" fill="#0F5FFF">OFF</text>
<text x="374.7" y="637.4" font-size="33.5" textLength="47.5" lengthAdjust="spacingAndGlyphs" fill="#0F5FFF">ON</text>
<rect x="1040.6" y="41.8" width="601.2" height="600.4" fill="none" stroke="#000" stroke-width="2.4"/>
<line x1="1040.6" y1="604.6" x2="1057.6" y2="604.6" stroke="#000" stroke-width="2.2" stroke-linecap="butt"/>
<text x="1030.2" y="613.6" font-size="35.5" text-anchor="end" textLength="18.7" lengthAdjust="spacingAndGlyphs">0</text>
<line x1="1040.6" y1="529.6" x2="1049.6" y2="529.6" stroke="#000" stroke-width="2.2" stroke-linecap="butt"/>
<line x1="1040.6" y1="454.5" x2="1057.6" y2="454.5" stroke="#000" stroke-width="2.2" stroke-linecap="butt"/>
<text x="1030.2" y="463.5" font-size="35.5" text-anchor="end" textLength="56.1" lengthAdjust="spacingAndGlyphs">400</text>
<line x1="1040.6" y1="379.5" x2="1049.6" y2="379.5" stroke="#000" stroke-width="2.2" stroke-linecap="butt"/>
<line x1="1040.6" y1="304.4" x2="1057.6" y2="304.4" stroke="#000" stroke-width="2.2" stroke-linecap="butt"/>
<text x="1030.2" y="313.4" font-size="35.5" text-anchor="end" textLength="56.1" lengthAdjust="spacingAndGlyphs">800</text>
<line x1="1040.6" y1="229.4" x2="1049.6" y2="229.4" stroke="#000" stroke-width="2.2" stroke-linecap="butt"/>
<line x1="1040.6" y1="154.3" x2="1057.6" y2="154.3" stroke="#000" stroke-width="2.2" stroke-linecap="butt"/>
<text x="1030.2" y="163.3" font-size="35.5" text-anchor="end" textLength="74.8" lengthAdjust="spacingAndGlyphs">1200</text>
<line x1="1040.6" y1="79.2" x2="1049.6" y2="79.2" stroke="#000" stroke-width="2.2" stroke-linecap="butt"/>
<line x1="1083.2" y1="642.2" x2="1083.2" y2="625.2" stroke="#000" stroke-width="2.2" stroke-linecap="butt"/>
<text x="1083.5" y="678.3" font-size="35.5" text-anchor="middle" textLength="18.7" lengthAdjust="spacingAndGlyphs">0</text>
<line x1="1169.0" y1="642.2" x2="1169.0" y2="633.2" stroke="#000" stroke-width="2.2" stroke-linecap="butt"/>
<line x1="1254.7" y1="642.2" x2="1254.7" y2="625.2" stroke="#000" stroke-width="2.2" stroke-linecap="butt"/>
<text x="1255.0" y="678.3" font-size="35.5" text-anchor="middle" textLength="56.1" lengthAdjust="spacingAndGlyphs">100</text>
<line x1="1340.5" y1="642.2" x2="1340.5" y2="633.2" stroke="#000" stroke-width="2.2" stroke-linecap="butt"/>
<line x1="1426.2" y1="642.2" x2="1426.2" y2="625.2" stroke="#000" stroke-width="2.2" stroke-linecap="butt"/>
<text x="1426.5" y="678.3" font-size="35.5" text-anchor="middle" textLength="56.1" lengthAdjust="spacingAndGlyphs">200</text>
<line x1="1512.0" y1="642.2" x2="1512.0" y2="633.2" stroke="#000" stroke-width="2.2" stroke-linecap="butt"/>
<line x1="1597.7" y1="642.2" x2="1597.7" y2="625.2" stroke="#000" stroke-width="2.2" stroke-linecap="butt"/>
<text x="1598.0" y="678.3" font-size="35.5" text-anchor="middle" textLength="56.1" lengthAdjust="spacingAndGlyphs">300</text>
<g transform="translate(1247.6 725.6)">
<text x="-2.4" y="0" font-size="33.5" textLength="35" lengthAdjust="spacingAndGlyphs">LP</text>
<text x="40.8" y="0" font-size="33.5" textLength="124" lengthAdjust="spacingAndGlyphs">(μW/cm</text>
<text x="166.3" y="-22.7" font-size="18.5" textLength="10.5" lengthAdjust="spacingAndGlyphs">2</text>
<text x="177" y="0" font-size="33.5" textLength="10" lengthAdjust="spacingAndGlyphs">)</text>
</g>
<g transform="translate(938.3 394) rotate(-90)">
<text x="-1" y="0" font-size="33.5" textLength="10" lengthAdjust="spacingAndGlyphs" font-style="italic">I</text>
<text x="9" y="16.2" font-size="20" textLength="23.5" lengthAdjust="spacingAndGlyphs">SD</text>
<text x="41" y="0" font-size="33.5" textLength="62" lengthAdjust="spacingAndGlyphs">(pA)</text>
</g>
<text x="960.5" y="48" font-size="58" textLength="32" lengthAdjust="spacingAndGlyphs" font-weight="bold">b</text>
<line x1="1100" y1="554" x2="1597.7" y2="67.3" stroke="#FF0000" stroke-width="4.5" stroke-linecap="butt"/>
<rect x="1089.7" y="565.6" width="20.6" height="20.6" fill="#000"/>
<rect x="1124.2" y="513.3000000000001" width="20.6" height="20.6" fill="#000"/>
<rect x="1192.9" y="427.0" width="20.6" height="20.6" fill="#000"/>
<rect x="1244.2" y="361.7" width="20.6" height="20.6" fill="#000"/>
<rect x="1329.7" y="279.2" width="20.6" height="20.6" fill="#000"/>
<rect x="1432.9" y="222.89999999999998" width="20.6" height="20.6" fill="#000"/>
<rect x="1501.1000000000001" y="157.0" width="20.6" height="20.6" fill="#000"/>
<rect x="1587.4" y="59.2" width="20.6" height="20.6" fill="#000"/>
<rect x="1078" y="109.2" width="18" height="18" fill="#000"/>
<line x1="1062.3" y1="167.7" x2="1112" y2="167.7" stroke="#FF0000" stroke-width="4.5" stroke-linecap="butt"/>
<text x="1118" y="126" font-size="33.5" textLength="285" lengthAdjust="spacingAndGlyphs">Experiment Values</text>
<text x="1118" y="175.3" font-size="33.5" textLength="200" lengthAdjust="spacingAndGlyphs">Linear Fitting</text>
<rect x="130.5" y="774.3" width="600.5" height="600.2" fill="none" stroke="#000" stroke-width="2.4"/>
<line x1="130.5" y1="1323.8" x2="147.5" y2="1323.8" stroke="#000" stroke-width="2.2" stroke-linecap="butt"/>
<text x="111.5" y="1332.6" font-size="35.5" text-anchor="end" textLength="18.7" lengthAdjust="spacingAndGlyphs">0</text>
<line x1="130.5" y1="1248.8" x2="139.5" y2="1248.8" stroke="#000" stroke-width="2.2" stroke-linecap="butt"/>
<line x1="130.5" y1="1173.8" x2="147.5" y2="1173.8" stroke="#000" stroke-width="2.2" stroke-linecap="butt"/>
<text x="111.5" y="1182.6" font-size="35.5" text-anchor="end" textLength="56.1" lengthAdjust="spacingAndGlyphs">300</text>
<line x1="130.5" y1="1098.8" x2="139.5" y2="1098.8" stroke="#000" stroke-width="2.2" stroke-linecap="butt"/>
<line x1="130.5" y1="1023.8" x2="147.5" y2="1023.8" stroke="#000" stroke-width="2.2" stroke-linecap="butt"/>
<text x="111.5" y="1032.6" font-size="35.5" text-anchor="end" textLength="56.1" lengthAdjust="spacingAndGlyphs">600</text>
<line x1="130.5" y1="948.8" x2="139.5" y2="948.8" stroke="#000" stroke-width="2.2" stroke-linecap="butt"/>
<line x1="130.5" y1="873.8" x2="147.5" y2="873.8" stroke="#000" stroke-width="2.2" stroke-linecap="butt"/>
<text x="111.5" y="882.6" font-size="35.5" text-anchor="end" textLength="56.1" lengthAdjust="spacingAndGlyphs">900</text>
<line x1="130.5" y1="798.8" x2="139.5" y2="798.8" stroke="#000" stroke-width="2.2" stroke-linecap="butt"/>
<text x="130.0" y="1420.5" font-size="35.5" text-anchor="middle" textLength="18.7" lengthAdjust="spacingAndGlyphs">0</text>
<line x1="211.6" y1="1374.5" x2="211.6" y2="1365.5" stroke="#000" stroke-width="2.2" stroke-linecap="butt"/>
<line x1="292.5" y1="1374.5" x2="292.5" y2="1357.5" stroke="#000" stroke-width="2.2" stroke-linecap="butt"/>
<text x="291.8" y="1420.5" font-size="35.5" text-anchor="middle" textLength="37.4" lengthAdjust="spacingAndGlyphs">50</text>
<line x1="373.4" y1="1374.5" x2="373.4" y2="1365.5" stroke="#000" stroke-width="2.2" stroke-linecap="butt"/>
<line x1="454.3" y1="1374.5" x2="454.3" y2="1357.5" stroke="#000" stroke-width="2.2" stroke-linecap="butt"/>
<text x="453.6" y="1420.5" font-size="35.5" text-anchor="middle" textLength="56.1" lengthAdjust="spacingAndGlyphs">100</text>
<line x1="535.2" y1="1374.5" x2="535.2" y2="1365.5" stroke="#000" stroke-width="2.2" stroke-linecap="butt"/>
<line x1="616.1" y1="1374.5" x2="616.1" y2="1357.5" stroke="#000" stroke-width="2.2" stroke-linecap="butt"/>
<text x="615.4" y="1420.5" font-size="35.5" text-anchor="middle" textLength="56.1" lengthAdjust="spacingAndGlyphs">150</text>
<line x1="697.0" y1="1374.5" x2="697.0" y2="1365.5" stroke="#000" stroke-width="2.2" stroke-linecap="butt"/>
<text x="364.8" y="1456.5" font-size="33.5" textLength="120" lengthAdjust="spacingAndGlyphs">Time (s)</text>
<g transform="translate(31 1148) rotate(-90)">
<text x="-1" y="0" font-size="33.5" textLength="10" lengthAdjust="spacingAndGlyphs" font-style="italic">I</text>
<text x="9" y="16.2" font-size="20" textLength="23.5" lengthAdjust="spacingAndGlyphs">SD</text>
<text x="41" y="0" font-size="33.5" textLength="62" lengthAdjust="spacingAndGlyphs">(pA)</text>
</g>
<text x="75.3" y="757" font-size="58" textLength="26.5" lengthAdjust="spacingAndGlyphs" font-weight="bold">c</text>
<path d="M130.7,1321.4 132.2,1321.5 133.6,1321.3 135.1,1320.6 136.5,1321.9 138.0,1322.7 139.4,1321.0 140.9,1319.9 142.3,1320.5 143.8,1322.2 145.3,1321.0 146.7,1320.5 148.2,1320.7 149.6,1320.0 151.1,1320.7 152.5,1323.5 154.0,1320.9 155.5,1321.9 156.9,1322.0 158.4,1322.6 159.8,1322.3 161.3,1321.6 162.7,1320.5 164.2,1320.5 165.6,1320.8 167.1,1320.4 168.6,1321.6 170.0,1322.0 170.5,1319.9 170.9,1026.4 171.4,1032.0 171.8,1030.1 172.3,1032.9 172.7,1024.8 173.2,1027.6 173.6,1025.2 174.1,1023.4 174.5,1023.2 175.0,1028.6 175.5,1029.4 175.9,1024.9 176.4,1023.8 176.8,1024.9 177.3,1022.5 177.7,1024.8 178.2,1021.8 178.6,1015.4 179.1,1019.0 179.5,1022.2 180.0,1025.9 180.4,1022.0 180.9,1016.7 181.3,1015.5 181.8,1025.9 182.2,1017.2 182.7,1024.3 183.2,1016.5 183.6,1022.7 184.1,1017.5 184.5,1012.1 185.0,1022.3 185.4,1023.3 185.9,1020.0 186.3,1020.0 186.8,1014.7 187.2,1021.9 187.7,1027.5 188.1,1017.0 188.6,1019.1 189.0,1021.4 189.5,1016.7 190.0,1013.8 190.4,1022.5 190.9,1023.2 191.3,1013.7 191.8,1017.8 192.2,1025.2 192.7,1015.9 193.1,1015.7 193.6,1025.1 194.0,1021.7 194.5,1019.1 194.9,1013.6 195.4,1019.0 195.8,1019.5 196.3,1016.0 196.7,1020.2 197.2,1014.9 197.7,1019.4 198.1,1025.5 198.6,1019.0 199.0,1015.4 199.5,1017.7 199.9,1022.1 200.4,1024.2 200.8,1020.1 201.3,1030.4 201.7,1019.6 202.2,1018.8 202.6,1022.1 203.1,1020.8 203.5,1021.0 204.0,1022.7 204.4,1027.7 204.9,1022.7 205.4,1024.4 205.8,1017.6 206.3,1021.6 206.7,1014.8 207.2,1023.0 207.6,1017.7 208.1,1015.8 208.5,1018.1 209.0,1013.8 209.4,1019.9 209.9,1022.7 210.3,1022.4 210.8,1018.9 211.2,1018.0 211.7,1023.6 212.2,1018.5 212.6,1014.7 213.1,1022.7 213.5,1016.0 214.0,1017.8 214.4,1024.9 214.9,1014.7 215.3,1014.2 215.8,1016.7 216.2,1025.7 216.7,1022.5 217.1,1019.9 217.6,1014.3 218.0,1026.6 218.5,1019.7 218.9,1016.2 219.4,1019.5 219.9,1021.9 220.3,1008.0 220.8,1014.2 221.2,1010.3 221.7,1023.7 222.1,1319.7 222.6,1320.0 223.0,1321.2 223.8,1320.9 224.5,1321.1 225.2,1321.0 225.9,1320.5 226.7,1322.0 227.4,1322.3 228.1,1320.4 228.8,1321.0 229.6,1321.6 230.3,1321.7 231.0,1322.3 231.8,1321.4 232.5,1322.5 233.2,1321.1 233.9,1321.0 234.7,1321.7 235.4,1320.5 236.1,1320.7 236.9,1321.1 237.6,1321.8 238.3,1321.7 239.0,1322.0 239.8,1322.7 240.5,1321.2 241.2,1320.7 242.0,1322.4 243.4,1321.0 244.9,1321.5 246.3,1321.2 247.8,1320.7 249.2,1320.6 250.7,1321.8 252.1,1320.7 253.6,1321.6 255.1,1323.2 256.5,1319.7 258.0,1321.3 259.4,1321.5 260.9,1320.3 262.3,1320.9 263.8,1321.7 265.3,1321.1 266.7,1321.0 268.2,1321.4 269.6,1323.1 271.1,1024.3 271.5,1021.9 272.0,1020.9 272.4,1016.9 272.9,1018.0 273.3,1015.7 273.8,1024.3 274.2,1019.8 274.7,1024.7 275.2,1023.1 275.6,1017.5 276.1,1025.9 276.5,1017.7 277.0,1021.2 277.4,1024.3 277.9,1020.8 278.3,1024.9 278.8,1017.2 279.2,1018.8 279.7,1015.0 280.1,1014.8 280.6,1020.5 281.0,1020.4 281.5,1022.0 282.0,1024.2 282.4,1022.7 282.9,1017.9 283.3,1015.7 283.8,1021.4 284.2,1024.5 284.7,1028.7 285.1,1015.2 285.6,1017.4 286.0,1018.2 286.5,1017.3 286.9,1024.5 287.4,1017.5 287.8,1024.2 288.3,1012.8 288.7,1021.3 289.2,1018.0 289.7,1018.7 290.1,1014.6 290.6,1011.4 291.0,1009.1 291.5,1019.7 291.9,1011.9 292.4,1009.3 292.8,1012.8 293.3,1014.5 293.7,1009.1 294.2,1008.0 294.6,1016.0 295.1,1013.4 295.5,1016.3 296.0,1013.5 296.4,1009.8 296.9,1019.9 297.4,1013.0 297.8,1024.4 298.3,1018.8 298.7,1016.7 299.2,1015.7 299.6,1020.7 300.1,1013.1 300.5,1015.0 301.0,1015.1 301.4,1024.5 301.9,1015.4 302.3,1018.3 302.8,1011.7 303.2,1009.2 303.7,1019.5 304.1,1010.5 304.6,1018.9 305.1,1015.6 305.5,1020.9 306.0,1015.9 306.4,1008.4 306.9,1015.1 307.3,1020.9 307.8,1012.7 308.2,1017.3 308.7,1019.4 309.1,1013.1 309.6,1020.7 310.0,1013.6 310.5,1016.1 310.9,1018.6 311.4,1015.5 311.9,1015.5 312.3,1013.6 312.8,1013.5 313.2,1014.0 313.7,1320.7 314.1,1321.9 314.6,1321.8 315.3,1322.4 316.0,1321.8 316.8,1322.6 317.5,1320.6 318.2,1321.4 318.9,1320.6 319.7,1320.3 320.4,1321.0 321.1,1321.1 321.9,1321.2 322.6,1321.6 323.3,1322.9 324.0,1321.2 324.8,1321.8 325.5,1322.1 326.2,1321.7 326.9,1321.3 327.7,1320.8 328.4,1322.1 329.1,1322.3 329.9,1320.5 330.6,1320.9 331.3,1320.7 332.0,1321.5 332.8,1322.4 333.5,1320.3 335.0,1320.4 336.4,1321.8 337.9,1321.0 339.3,1320.5 340.8,1319.5 342.2,1320.4 343.7,1320.9 345.1,1321.5 346.6,1321.6 348.1,1321.4 349.5,1321.8 351.0,1320.8 352.4,1321.2 353.9,1321.5 355.3,1322.1 356.8,1321.2 358.3,1321.5 359.7,1321.0 361.2,1038.1 361.6,1031.8 362.1,1035.0 362.5,1026.0 363.0,1030.9 363.4,1027.7 363.9,1030.9 364.3,1032.6 364.8,1034.3 365.2,1027.2 365.7,1033.6 366.2,1025.0 366.6,1032.0 367.1,1033.6 367.5,1036.4 368.0,1032.5 368.4,1032.3 368.9,1024.8 369.3,1025.7 369.8,1033.1 370.2,1032.6 370.7,1026.8 371.1,1025.1 371.6,1029.1 372.0,1023.4 372.5,1027.3 372.9,1017.8 373.4,1025.2 373.9,1027.4 374.3,1022.8 374.8,1024.1 375.2,1014.5 375.7,1019.5 376.1,1018.0 376.6,1017.5 377.0,1026.4 377.5,1030.8 377.9,1027.6 378.4,1025.7 378.8,1028.5 379.3,1026.9 379.7,1029.9 380.2,1028.5 380.6,1023.7 381.1,1029.2 381.6,1018.7 382.0,1029.3 382.5,1027.3 382.9,1020.0 383.4,1018.3 383.8,1019.4 384.3,1017.5 384.7,1024.8 385.2,1022.9 385.6,1024.5 386.1,1016.3 386.5,1023.8 387.0,1017.2 387.4,1019.3 387.9,1022.0 388.4,1017.8 388.8,1025.1 389.3,1016.2 389.7,1013.9 390.2,1020.0 390.6,1021.7 391.1,1018.9 391.5,1020.7 392.0,1024.8 392.4,1015.8 392.9,1022.0 393.3,1027.2 393.8,1020.8 394.2,1025.6 394.7,1014.7 395.1,1016.1 395.6,1017.2 396.1,1029.3 396.5,1017.4 397.0,1024.1 397.4,1021.0 397.9,1030.3 398.3,1018.8 398.8,1020.7 399.2,1023.6 399.7,1025.1 400.1,1016.6 400.6,1014.0 401.0,1025.1 401.5,1013.2 401.9,1021.5 402.4,1023.6 402.8,1020.2 403.3,1023.0 403.8,1020.8 404.2,1321.6 404.7,1322.2 405.1,1320.3 405.8,1320.6 406.6,1321.2 407.3,1321.2 408.0,1321.2 408.8,1321.3 409.5,1320.8 410.2,1320.9 410.9,1321.4 411.7,1321.9 412.4,1320.1 413.1,1321.6 413.9,1321.8 414.6,1319.6 415.3,1321.2 416.0,1321.4 416.8,1322.3 417.5,1322.1 418.2,1320.3 418.9,1321.5 419.7,1320.4 420.4,1322.1 421.1,1320.7 421.9,1321.2 422.6,1321.6 423.3,1322.6 424.0,1320.3 425.5,1321.1 427.0,1321.3 428.4,1320.6 429.9,1322.0 431.3,1320.2 432.8,1320.6 434.2,1320.8 435.7,1320.8 437.1,1321.7 438.6,1321.3 440.1,1320.9 441.5,1321.6 443.0,1320.2 444.4,1320.6 445.9,1320.2 447.3,1322.3 448.8,1320.1 450.3,1321.6 451.7,1321.8 453.2,1321.4 453.6,1320.2 454.1,1032.2 454.5,1022.7 455.0,1032.4 455.4,1026.0 455.9,1031.8 456.3,1026.0 456.8,1025.5 457.2,1024.5 457.7,1025.0 458.2,1025.4 458.6,1026.6 459.1,1024.1 459.5,1020.7 460.0,1022.6 460.4,1027.3 460.9,1027.9 461.3,1024.8 461.8,1018.2 462.2,1025.1 462.7,1026.7 463.1,1015.4 463.6,1017.1 464.0,1023.1 464.5,1016.2 464.9,1020.3 465.4,1025.7 465.9,1017.7 466.3,1029.0 466.8,1018.2 467.2,1022.7 467.7,1021.4 468.1,1026.1 468.6,1027.3 469.0,1020.3 469.5,1025.0 469.9,1018.2 470.4,1022.8 470.8,1019.8 471.3,1028.1 471.7,1028.9 472.2,1026.4 472.6,1018.6 473.1,1024.9 473.6,1016.5 474.0,1021.3 474.5,1025.9 474.9,1021.8 475.4,1022.9 475.8,1017.3 476.3,1023.6 476.7,1015.6 477.2,1018.8 477.6,1018.2 478.1,1019.0 478.5,1015.4 479.0,1016.7 479.4,1020.0 479.9,1010.3 480.3,1014.4 480.8,1018.9 481.3,1018.3 481.7,1015.0 482.2,1019.5 482.6,1018.3 483.1,1018.1 483.5,1017.1 484.0,1014.4 484.4,1025.3 484.9,1014.6 485.3,1020.3 485.8,1021.0 486.2,1020.0 486.7,1020.7 487.1,1024.4 487.6,1019.4 488.1,1021.5 488.5,1021.3 489.0,1029.2 489.4,1030.0 489.9,1027.7 490.3,1025.0 490.8,1025.9 491.2,1022.9 491.7,1019.9 492.1,1016.8 492.6,1012.5 493.0,1018.7 493.5,1015.8 493.9,1020.8 494.4,1016.2 494.8,1012.4 495.3,1014.2 495.8,1017.1 496.2,1012.7 496.7,1011.7 497.1,1008.8 497.6,1013.1 498.0,1013.4 498.5,1017.7 498.9,1021.3 499.4,1016.2 499.8,1011.7 500.3,1320.6 500.7,1320.6 501.2,1321.7 501.9,1322.3 502.6,1322.7 503.4,1321.6 504.1,1321.5 504.8,1322.3 505.6,1320.5 506.3,1319.9 507.0,1321.9 507.7,1320.8 508.5,1321.4 509.2,1320.9 509.9,1321.2 510.7,1321.4 511.4,1320.6 512.1,1320.8 512.8,1321.6 513.6,1320.9 514.3,1321.7 515.0,1321.3 515.8,1320.8 516.5,1321.0 517.2,1322.4 517.9,1320.9 518.7,1322.2 519.4,1321.1 520.1,1320.8 521.6,1322.4 523.0,1322.1 524.5,1320.7 525.9,1321.1 527.4,1322.8 528.9,1320.6 530.3,1321.7 531.8,1322.2 533.2,1321.1 534.7,1321.8 536.1,1321.3 537.6,1321.1 539.1,1319.5 540.5,1320.6 542.0,1321.1 543.4,1321.2 544.9,1321.0 546.3,1320.9 547.8,1321.8 548.2,1320.9 548.7,1024.6 549.1,1032.2 549.6,1025.8 550.1,1026.3 550.5,1028.8 551.0,1030.5 551.4,1028.5 551.9,1025.0 552.3,1026.7 552.8,1033.3 553.2,1033.4 553.7,1026.7 554.1,1028.3 554.6,1030.4 555.0,1028.6 555.5,1035.3 555.9,1034.2 556.4,1036.5 556.8,1031.2 557.3,1029.4 557.8,1022.9 558.2,1028.8 558.7,1023.5 559.1,1025.8 559.6,1027.3 560.0,1026.5 560.5,1022.9 560.9,1020.4 561.4,1026.0 561.8,1029.0 562.3,1033.2 562.7,1028.6 563.2,1025.4 563.6,1027.8 564.1,1021.7 564.6,1026.3 565.0,1027.0 565.5,1025.8 565.9,1019.6 566.4,1027.7 566.8,1025.3 567.3,1019.1 567.7,1023.0 568.2,1022.7 568.6,1021.8 569.1,1027.4 569.5,1023.6 570.0,1028.0 570.4,1031.8 570.9,1030.6 571.3,1020.4 571.8,1022.0 572.3,1019.6 572.7,1030.4 573.2,1030.7 573.6,1023.3 574.1,1026.0 574.5,1019.2 575.0,1027.1 575.4,1025.7 575.9,1022.1 576.3,1025.9 576.8,1023.2 577.2,1023.9 577.7,1031.8 578.1,1023.4 578.6,1026.6 579.0,1030.3 579.5,1021.4 580.0,1021.0 580.4,1029.1 580.9,1025.3 581.3,1026.8 581.8,1029.7 582.2,1030.9 582.7,1027.3 583.1,1021.7 583.6,1021.7 584.0,1018.6 584.5,1017.8 584.9,1022.1 585.4,1027.4 585.8,1028.8 586.3,1017.2 586.7,1027.4 587.2,1025.8 587.7,1017.5 588.1,1023.4 588.6,1023.3 589.0,1022.9 589.5,1026.5 589.9,1020.0 590.4,1027.7 590.8,1020.3 591.3,1027.2 591.7,1028.8 592.2,1025.1 592.6,1024.0 593.1,1028.5 593.5,1023.5 594.0,1026.4 594.5,1321.4 594.9,1322.2 595.4,1321.1 596.1,1320.7 596.8,1320.6 597.5,1321.7 598.3,1322.0 599.0,1321.5 599.7,1322.1 600.5,1322.9 601.2,1321.1 601.9,1321.0 602.6,1320.8 603.4,1322.0 604.1,1321.4 604.8,1322.2 605.6,1322.4 606.3,1321.0 607.0,1322.7 607.7,1321.6 608.5,1319.6 609.2,1320.4 609.9,1320.8 610.6,1320.9 611.4,1321.5 612.1,1321.8 612.8,1319.8 613.6,1321.5 615.0,1321.8 616.5,1320.8 617.9,1321.4 619.4,1320.4 620.8,1321.8 622.3,1321.9 623.8,1321.6 625.2,1320.1 626.7,1320.6 628.1,1321.1 629.6,1321.2 631.0,1321.1 632.5,1322.0 633.9,1320.9 635.4,1321.7 636.9,1321.1 638.3,1321.3 639.8,1321.1 641.2,1321.6 642.7,1032.2 643.1,1035.9 643.6,1035.0 644.0,1037.1 644.5,1030.6 644.9,1029.9 645.4,1038.6 645.9,1037.5 646.3,1036.2 646.8,1030.7 647.2,1032.2 647.7,1035.0 648.1,1031.7 648.6,1027.5 649.0,1035.8 649.5,1033.1 649.9,1032.0 650.4,1029.4 650.8,1035.3 651.3,1030.7 651.7,1032.3 652.2,1032.1 652.7,1028.4 653.1,1030.2 653.6,1023.7 654.0,1031.8 654.5,1020.1 654.9,1017.8 655.4,1019.6 655.8,1027.7 656.3,1031.4 656.7,1018.1 657.2,1028.5 657.6,1030.7 658.1,1031.1 658.5,1025.0 659.0,1024.2 659.4,1034.2 659.9,1027.5 660.4,1031.7 660.8,1020.2 661.3,1026.9 661.7,1026.3 662.2,1029.5 662.6,1026.2 663.1,1031.0 663.5,1027.9 664.0,1027.1 664.4,1026.6 664.9,1024.0 665.3,1027.2 665.8,1028.6 666.2,1025.3 666.7,1034.1 667.1,1029.1 667.6,1033.1 668.1,1028.3 668.5,1025.5 669.0,1028.8 669.4,1026.5 669.9,1024.0 670.3,1023.1 670.8,1023.6 671.2,1021.0 671.7,1029.4 672.1,1028.7 672.6,1024.9 673.0,1025.0 673.5,1025.7 673.9,1022.9 674.4,1024.6 674.8,1023.1 675.3,1028.7 675.8,1021.7 676.2,1019.0 676.7,1024.2 677.1,1020.6 677.6,1030.0 678.0,1023.7 678.5,1024.8 678.9,1019.1 679.4,1023.4 679.8,1031.8 680.3,1024.7 680.7,1018.6 681.2,1029.9 681.6,1023.7 682.1,1028.7 682.6,1026.3 683.0,1019.7 683.5,1023.4 683.9,1029.5 684.4,1026.4 684.8,1030.6 685.3,1027.4 685.7,1028.5 686.2,1021.8 686.6,1033.8 687.1,1031.2 687.5,1321.0 688.0,1322.8 688.4,1322.3 688.9,1322.0 689.6,1320.6 690.4,1320.6 691.1,1320.2 691.8,1322.0 692.5,1320.7 693.3,1321.1 694.0,1322.3 694.7,1320.9 695.4,1321.3 696.2,1321.8 696.9,1322.1 697.6,1322.5 698.4,1320.9 699.1,1321.0 699.8,1321.5 700.5,1321.6 701.3,1321.8 702.0,1320.7 702.7,1321.2 703.5,1322.6 704.2,1321.2 704.9,1321.0 705.6,1321.8 706.4,1321.7 707.1,1321.8 708.6,1320.8 710.0,1321.6 711.5,1321.3 712.9,1321.2 714.4,1320.2 715.8,1322.4 717.3,1319.6 718.7,1322.2 720.2,1321.5 721.7,1321.9 723.1,1321.2 724.6,1320.9 726.0,1319.6 727.5,1320.4 728.9,1321.8 730.4,1321.1" fill="none" stroke="#FF0000" stroke-width="4.0" stroke-linejoin="round" stroke-linecap="round"/>
<path d="M130.7,1322.4 132.2,1320.8 133.6,1320.7 135.1,1322.6 136.5,1320.0 138.0,1322.2 139.4,1322.2 140.9,1322.0 142.3,1321.4 143.8,1321.4 145.3,1322.6 146.7,1321.3 148.2,1321.0 149.6,1321.9 151.1,1323.1 152.5,1322.2 154.0,1321.9 155.5,1320.8 156.9,1321.7 158.4,1321.0 159.8,1319.3 161.3,1321.4 162.7,1321.5 164.2,1320.7 165.6,1320.4 167.1,1320.4 168.6,1321.3 170.0,1322.3 170.5,1322.8 170.9,1119.5 171.4,1118.5 171.8,1115.9 172.3,1116.4 172.7,1117.2 173.2,1116.2 173.6,1117.5 174.1,1116.6 174.5,1119.0 175.0,1118.6 175.5,1117.2 175.9,1117.9 176.4,1120.3 176.8,1116.3 177.3,1118.6 177.7,1122.1 178.2,1119.6 178.6,1115.7 179.1,1120.2 179.5,1115.8 180.0,1115.8 180.4,1116.9 180.9,1116.5 181.3,1114.8 181.8,1120.0 182.2,1117.7 182.7,1114.0 183.2,1115.2 183.6,1121.5 184.1,1118.6 184.5,1117.7 185.0,1121.6 185.4,1120.6 185.9,1120.2 186.3,1121.2 186.8,1118.8 187.2,1119.1 187.7,1116.4 188.1,1119.9 188.6,1115.6 189.0,1114.2 189.5,1114.1 190.0,1118.7 190.4,1116.6 190.9,1118.7 191.3,1118.8 191.8,1116.7 192.2,1115.4 192.7,1114.4 193.1,1115.0 193.6,1118.3 194.0,1117.0 194.5,1115.3 194.9,1115.5 195.4,1119.1 195.8,1118.6 196.3,1117.5 196.7,1118.3 197.2,1114.5 197.7,1116.9 198.1,1116.4 198.6,1118.8 199.0,1116.0 199.5,1118.4 199.9,1118.3 200.4,1119.4 200.8,1118.5 201.3,1118.0 201.7,1121.7 202.2,1119.8 202.6,1119.3 203.1,1117.5 203.5,1115.0 204.0,1114.9 204.4,1117.2 204.9,1113.2 205.4,1118.8 205.8,1117.5 206.3,1114.1 206.7,1116.9 207.2,1117.9 207.6,1115.8 208.1,1117.6 208.5,1116.6 209.0,1117.7 209.4,1118.3 209.9,1119.9 210.3,1117.5 210.8,1116.5 211.2,1117.6 211.7,1120.4 212.2,1120.4 212.6,1120.4 213.1,1117.4 213.5,1115.3 214.0,1116.2 214.4,1115.3 214.9,1118.5 215.3,1117.9 215.8,1117.0 216.2,1115.8 216.7,1118.8 217.1,1115.3 217.6,1116.4 218.0,1114.8 218.5,1114.1 218.9,1117.5 219.4,1116.6 219.9,1114.4 220.3,1117.4 220.8,1118.9 221.2,1113.4 221.7,1117.5 222.1,1321.8 222.6,1320.3 223.0,1320.6 223.8,1322.5 224.5,1319.8 225.2,1321.1 225.9,1321.9 226.7,1321.1 227.4,1321.2 228.1,1320.7 228.8,1320.7 229.6,1320.4 230.3,1322.2 231.0,1321.1 231.8,1321.8 232.5,1322.5 233.2,1321.9 233.9,1322.1 234.7,1321.0 235.4,1321.5 236.1,1321.0 236.9,1321.4 237.6,1321.2 238.3,1320.9 239.0,1321.9 239.8,1321.4 240.5,1321.4 241.2,1321.7 242.0,1322.1 243.4,1321.1 244.9,1320.8 246.3,1319.9 247.8,1321.2 249.2,1321.1 250.7,1322.1 252.1,1321.4 253.6,1320.4 255.1,1319.8 256.5,1320.9 258.0,1320.1 259.4,1320.0 260.9,1319.7 262.3,1320.7 263.8,1321.7 265.3,1321.1 266.7,1320.4 268.2,1321.7 269.6,1321.3 271.1,1116.3 271.5,1117.8 272.0,1115.4 272.4,1117.7 272.9,1115.6 273.3,1115.3 273.8,1115.5 274.2,1119.9 274.7,1116.0 275.2,1115.8 275.6,1114.5 276.1,1120.6 276.5,1118.3 277.0,1117.3 277.4,1117.2 277.9,1118.0 278.3,1114.4 278.8,1119.0 279.2,1116.4 279.7,1115.1 280.1,1114.7 280.6,1115.0 281.0,1118.5 281.5,1118.7 282.0,1114.7 282.4,1119.4 282.9,1115.2 283.3,1117.9 283.8,1115.0 284.2,1116.6 284.7,1112.4 285.1,1115.0 285.6,1117.6 286.0,1117.0 286.5,1115.7 286.9,1116.4 287.4,1116.5 287.8,1117.6 288.3,1115.7 288.7,1119.9 289.2,1114.9 289.7,1115.8 290.1,1119.0 290.6,1120.1 291.0,1116.1 291.5,1116.8 291.9,1114.0 292.4,1113.8 292.8,1120.6 293.3,1117.7 293.7,1116.3 294.2,1117.5 294.6,1113.2 295.1,1116.2 295.5,1115.5 296.0,1119.7 296.4,1113.5 296.9,1117.6 297.4,1114.7 297.8,1116.6 298.3,1117.6 298.7,1113.0 299.2,1113.3 299.6,1115.8 300.1,1116.0 300.5,1115.4 301.0,1114.5 301.4,1112.6 301.9,1115.0 302.3,1117.4 302.8,1116.9 303.2,1115.8 303.7,1118.2 304.1,1113.5 304.6,1114.5 305.1,1116.1 305.5,1119.6 306.0,1116.4 306.4,1116.9 306.9,1116.6 307.3,1114.6 307.8,1117.0 308.2,1115.7 308.7,1114.5 309.1,1117.7 309.6,1118.9 310.0,1116.6 310.5,1118.3 310.9,1119.9 311.4,1117.1 311.9,1116.5 312.3,1118.1 312.8,1115.9 313.2,1113.9 313.7,1321.2 314.1,1321.5 314.6,1321.9 315.3,1321.4 316.0,1322.6 316.8,1320.2 317.5,1322.1 318.2,1321.1 318.9,1321.0 319.7,1321.4 320.4,1321.3 321.1,1321.9 321.9,1321.6 322.6,1320.7 323.3,1320.8 324.0,1322.3 324.8,1321.4 325.5,1322.6 326.2,1321.4 326.9,1321.3 327.7,1322.3 328.4,1320.2 329.1,1322.3 329.9,1320.4 330.6,1322.6 331.3,1320.8 332.0,1322.8 332.8,1321.7 333.5,1322.3 335.0,1321.1 336.4,1321.9 337.9,1321.5 339.3,1321.2 340.8,1322.1 342.2,1321.8 343.7,1321.2 345.1,1322.1 346.6,1321.0 348.1,1322.7 349.5,1319.8 351.0,1320.5 352.4,1322.4 353.9,1321.9 355.3,1321.6 356.8,1320.9 358.3,1320.8 359.7,1320.5 361.2,1123.3 361.6,1118.2 362.1,1120.5 362.5,1121.5 363.0,1123.1 363.4,1119.4 363.9,1122.3 364.3,1120.3 364.8,1122.4 365.2,1121.7 365.7,1119.2 366.2,1118.5 366.6,1123.1 367.1,1119.5 367.5,1120.6 368.0,1120.1 368.4,1120.4 368.9,1118.8 369.3,1118.3 369.8,1120.3 370.2,1123.3 370.7,1117.7 371.1,1119.4 371.6,1121.4 372.0,1121.2 372.5,1118.6 372.9,1117.9 373.4,1120.5 373.9,1118.6 374.3,1116.8 374.8,1117.3 375.2,1116.3 375.7,1119.9 376.1,1121.4 376.6,1121.5 377.0,1119.2 377.5,1121.9 377.9,1118.9 378.4,1117.8 378.8,1120.7 379.3,1119.3 379.7,1119.3 380.2,1119.6 380.6,1120.9 381.1,1118.9 381.6,1121.0 382.0,1123.3 382.5,1121.9 382.9,1121.3 383.4,1117.3 383.8,1121.3 384.3,1118.0 384.7,1116.1 385.2,1121.2 385.6,1117.2 386.1,1115.7 386.5,1116.7 387.0,1119.7 387.4,1119.2 387.9,1116.1 388.4,1118.9 388.8,1118.7 389.3,1118.0 389.7,1118.6 390.2,1117.9 390.6,1120.6 391.1,1120.6 391.5,1118.9 392.0,1119.8 392.4,1118.7 392.9,1116.9 393.3,1116.8 393.8,1120.4 394.2,1117.3 394.7,1116.1 395.1,1121.6 395.6,1116.3 396.1,1119.9 396.5,1122.2 397.0,1118.9 397.4,1115.8 397.9,1115.6 398.3,1119.4 398.8,1120.6 399.2,1119.6 399.7,1117.3 400.1,1120.9 400.6,1115.9 401.0,1119.1 401.5,1116.5 401.9,1117.0 402.4,1116.9 402.8,1119.5 403.3,1116.9 403.8,1120.0 404.2,1320.6 404.7,1322.0 405.1,1321.2 405.8,1322.3 406.6,1320.6 407.3,1320.9 408.0,1321.6 408.8,1322.1 409.5,1321.9 410.2,1321.3 410.9,1321.9 411.7,1322.2 412.4,1321.0 413.1,1321.1 413.9,1320.6 414.6,1320.7 415.3,1322.3 416.0,1321.3 416.8,1322.1 417.5,1322.4 418.2,1321.3 418.9,1321.6 419.7,1321.1 420.4,1321.7 421.1,1320.9 421.9,1321.5 422.6,1321.2 423.3,1320.6 424.0,1320.1 425.5,1321.7 427.0,1322.9 428.4,1322.6 429.9,1320.4 431.3,1320.0 432.8,1320.7 434.2,1320.2 435.7,1321.6 437.1,1321.8 438.6,1320.4 440.1,1320.8 441.5,1320.9 443.0,1320.9 444.4,1321.4 445.9,1322.6 447.3,1320.5 448.8,1321.1 450.3,1321.9 451.7,1321.7 453.2,1320.7 453.6,1321.8 454.1,1119.8 454.5,1118.2 455.0,1119.5 455.4,1116.5 455.9,1122.1 456.3,1120.6 456.8,1117.9 457.2,1120.7 457.7,1122.4 458.2,1122.2 458.6,1118.5 459.1,1121.1 459.5,1119.0 460.0,1119.2 460.4,1119.8 460.9,1119.5 461.3,1119.0 461.8,1117.3 462.2,1118.0 462.7,1120.3 463.1,1117.1 463.6,1123.8 464.0,1122.8 464.5,1124.2 464.9,1122.3 465.4,1117.7 465.9,1118.5 466.3,1120.7 466.8,1122.9 467.2,1122.7 467.7,1123.5 468.1,1121.4 468.6,1121.8 469.0,1121.3 469.5,1118.5 469.9,1122.8 470.4,1122.0 470.8,1121.4 471.3,1116.1 471.7,1116.3 472.2,1113.7 472.6,1114.6 473.1,1115.0 473.6,1119.0 474.0,1114.6 474.5,1117.0 474.9,1115.1 475.4,1116.7 475.8,1115.6 476.3,1113.9 476.7,1117.7 477.2,1114.3 477.6,1115.2 478.1,1119.4 478.5,1117.7 479.0,1116.6 479.4,1122.2 479.9,1121.8 480.3,1122.0 480.8,1115.9 481.3,1120.8 481.7,1120.0 482.2,1118.1 482.6,1121.1 483.1,1120.4 483.5,1119.4 484.0,1119.7 484.4,1121.0 484.9,1116.5 485.3,1117.9 485.8,1120.4 486.2,1117.5 486.7,1118.5 487.1,1116.6 487.6,1115.7 488.1,1118.9 488.5,1116.9 489.0,1118.1 489.4,1118.9 489.9,1119.0 490.3,1117.5 490.8,1117.6 491.2,1117.6 491.7,1117.2 492.1,1117.7 492.6,1116.1 493.0,1116.9 493.5,1116.3 493.9,1116.5 494.4,1119.0 494.8,1116.4 495.3,1119.1 495.8,1120.5 496.2,1118.3 496.7,1116.7 497.1,1116.9 497.6,1116.5 498.0,1114.1 498.5,1116.6 498.9,1113.8 499.4,1117.8 499.8,1114.9 500.3,1322.8 500.7,1321.8 501.2,1321.6 501.9,1321.6 502.6,1321.0 503.4,1320.5 504.1,1321.9 504.8,1320.4 505.6,1321.7 506.3,1322.1 507.0,1320.8 507.7,1320.7 508.5,1320.8 509.2,1322.1 509.9,1320.3 510.7,1321.0 511.4,1321.9 512.1,1321.3 512.8,1321.2 513.6,1321.3 514.3,1321.7 515.0,1320.1 515.8,1321.7 516.5,1321.0 517.2,1321.4 517.9,1321.1 518.7,1322.5 519.4,1319.8 520.1,1320.2 521.6,1321.3 523.0,1320.5 524.5,1321.2 525.9,1320.7 527.4,1321.4 528.9,1322.5 530.3,1321.7 531.8,1321.7 533.2,1321.8 534.7,1322.8 536.1,1321.5 537.6,1320.9 539.1,1321.0 540.5,1321.9 542.0,1320.1 543.4,1321.5 544.9,1321.0 546.3,1321.5 547.8,1321.9 548.2,1321.2 548.7,1117.5 549.1,1112.6 549.6,1111.9 550.1,1116.9 550.5,1114.1 551.0,1113.2 551.4,1115.6 551.9,1117.2 552.3,1117.1 552.8,1114.8 553.2,1117.3 553.7,1115.8 554.1,1116.9 554.6,1118.3 555.0,1119.7 555.5,1115.5 555.9,1118.3 556.4,1115.0 556.8,1115.5 557.3,1120.0 557.8,1120.1 558.2,1118.5 558.7,1115.4 559.1,1118.2 559.6,1117.6 560.0,1116.6 560.5,1114.9 560.9,1118.5 561.4,1114.9 561.8,1115.0 562.3,1116.2 562.7,1118.4 563.2,1115.5 563.6,1118.7 564.1,1116.0 564.6,1118.0 565.0,1117.3 565.5,1114.5 565.9,1120.1 566.4,1117.4 566.8,1116.0 567.3,1114.1 567.7,1115.1 568.2,1118.7 568.6,1115.7 569.1,1114.2 569.5,1116.6 570.0,1114.7 570.4,1116.7 570.9,1115.9 571.3,1113.2 571.8,1118.3 572.3,1114.2 572.7,1116.6 573.2,1116.2 573.6,1118.1 574.1,1115.6 574.5,1113.0 575.0,1112.4 575.4,1114.6 575.9,1113.8 576.3,1117.8 576.8,1115.7 577.2,1117.1 577.7,1118.6 578.1,1118.0 578.6,1116.9 579.0,1112.9 579.5,1114.4 580.0,1117.9 580.4,1115.7 580.9,1116.2 581.3,1113.1 581.8,1116.4 582.2,1118.9 582.7,1117.2 583.1,1114.2 583.6,1119.5 584.0,1113.3 584.5,1116.1 584.9,1119.1 585.4,1113.5 585.8,1114.3 586.3,1117.1 586.7,1116.8 587.2,1116.4 587.7,1116.8 588.1,1113.5 588.6,1114.3 589.0,1116.3 589.5,1118.0 589.9,1117.0 590.4,1114.3 590.8,1118.5 591.3,1115.5 591.7,1119.1 592.2,1116.3 592.6,1116.9 593.1,1117.2 593.5,1115.2 594.0,1114.6 594.5,1322.0 594.9,1321.0 595.4,1321.9 596.1,1321.6 596.8,1320.5 597.5,1320.8 598.3,1322.9 599.0,1322.1 599.7,1320.8 600.5,1322.0 601.2,1320.7 601.9,1320.5 602.6,1320.5 603.4,1320.0 604.1,1322.2 604.8,1322.0 605.6,1321.7 606.3,1321.6 607.0,1320.6 607.7,1321.0 608.5,1321.9 609.2,1321.6 609.9,1322.2 610.6,1321.6 611.4,1322.3 612.1,1319.9 612.8,1320.7 613.6,1321.5 615.0,1321.4 616.5,1320.7 617.9,1321.3 619.4,1320.4 620.8,1321.2 622.3,1319.6 623.8,1320.8 625.2,1322.1 626.7,1322.0 628.1,1321.7 629.6,1320.0 631.0,1321.5 632.5,1320.6 633.9,1322.3 635.4,1320.9 636.9,1322.1 638.3,1321.6 639.8,1321.3 641.2,1322.3 642.7,1119.9 643.1,1116.6 643.6,1115.8 644.0,1117.7 644.5,1116.6 644.9,1117.4 645.4,1119.7 645.9,1118.5 646.3,1117.0 646.8,1120.4 647.2,1120.3 647.7,1117.0 648.1,1120.0 648.6,1118.7 649.0,1120.1 649.5,1120.6 649.9,1117.1 650.4,1118.2 650.8,1117.7 651.3,1116.1 651.7,1119.5 652.2,1117.6 652.7,1119.9 653.1,1121.2 653.6,1117.9 654.0,1120.2 654.5,1119.8 654.9,1118.7 655.4,1117.8 655.8,1120.1 656.3,1117.2 656.7,1118.5 657.2,1118.0 657.6,1119.0 658.1,1117.5 658.5,1119.7 659.0,1119.2 659.4,1117.3 659.9,1115.3 660.4,1118.3 660.8,1117.1 661.3,1116.4 661.7,1118.3 662.2,1117.9 662.6,1121.4 663.1,1121.4 663.5,1119.9 664.0,1121.0 664.4,1117.6 664.9,1121.0 665.3,1117.9 665.8,1118.9 666.2,1119.9 666.7,1116.5 667.1,1120.0 667.6,1116.2 668.1,1117.9 668.5,1114.6 669.0,1116.7 669.4,1119.2 669.9,1117.8 670.3,1117.2 670.8,1120.6 671.2,1119.5 671.7,1120.2 672.1,1119.9 672.6,1114.6 673.0,1119.4 673.5,1116.6 673.9,1120.8 674.4,1115.1 674.8,1115.7 675.3,1118.2 675.8,1119.9 676.2,1117.9 676.7,1116.1 677.1,1118.7 677.6,1120.5 678.0,1118.6 678.5,1115.3 678.9,1120.4 679.4,1117.0 679.8,1114.6 680.3,1115.5 680.7,1115.7 681.2,1115.8 681.6,1114.3 682.1,1116.1 682.6,1114.7 683.0,1113.5 683.5,1115.3 683.9,1113.2 684.4,1113.4 684.8,1117.7 685.3,1119.0 685.7,1117.1 686.2,1116.7 686.6,1117.8 687.1,1117.1 687.5,1321.4 688.0,1322.8 688.4,1321.3 688.9,1320.2 689.6,1321.2 690.4,1321.7 691.1,1321.2 691.8,1321.7 692.5,1320.9 693.3,1321.1 694.0,1321.5 694.7,1320.7 695.4,1320.0 696.2,1321.0 696.9,1320.3 697.6,1320.7 698.4,1321.4 699.1,1321.2 699.8,1320.2 700.5,1321.0 701.3,1320.6 702.0,1322.4 702.7,1320.7 703.5,1322.5 704.2,1319.8 704.9,1321.0 705.6,1320.6 706.4,1321.8 707.1,1321.3 708.6,1322.1 710.0,1322.0 711.5,1321.1 712.9,1321.5 714.4,1321.5 715.8,1321.4 717.3,1320.3 718.7,1320.5 720.2,1319.9 721.7,1321.4 723.1,1321.7 724.6,1321.1 726.0,1320.7 727.5,1322.3 728.9,1320.8 730.4,1321.5" fill="none" stroke="#FF007F" stroke-width="4.0" stroke-linejoin="round" stroke-linecap="round"/>
<path d="M130.7,1322.1 132.2,1321.7 133.6,1321.1 135.1,1320.8 136.5,1321.3 138.0,1320.8 139.4,1320.7 140.9,1321.6 142.3,1321.2 143.8,1321.6 145.3,1322.1 146.7,1320.5 148.2,1319.9 149.6,1321.4 151.1,1319.9 152.5,1320.0 154.0,1321.7 155.5,1321.5 156.9,1321.7 158.4,1320.5 159.8,1320.2 161.3,1321.6 162.7,1322.4 164.2,1321.2 165.6,1320.3 167.1,1320.9 168.6,1321.2 170.0,1322.5 170.5,1320.8 170.9,1092.4 171.4,1090.9 171.8,1087.7 172.3,1088.8 172.7,1090.2 173.2,1094.3 173.6,1089.9 174.1,1090.2 174.5,1090.7 175.0,1084.3 175.5,1091.6 175.9,1088.6 176.4,1090.2 176.8,1090.2 177.3,1093.3 177.7,1090.2 178.2,1089.9 178.6,1090.8 179.1,1091.2 179.5,1087.7 180.0,1092.3 180.4,1091.2 180.9,1094.2 181.3,1092.7 181.8,1085.6 182.2,1087.8 182.7,1086.2 183.2,1090.4 183.6,1089.6 184.1,1088.4 184.5,1093.9 185.0,1088.1 185.4,1089.6 185.9,1094.5 186.3,1088.5 186.8,1089.3 187.2,1093.2 187.7,1092.6 188.1,1087.4 188.6,1087.1 189.0,1088.2 189.5,1087.1 190.0,1086.6 190.4,1089.0 190.9,1087.3 191.3,1091.0 191.8,1085.1 192.2,1081.3 192.7,1085.0 193.1,1089.3 193.6,1087.4 194.0,1090.5 194.5,1089.5 194.9,1086.4 195.4,1086.0 195.8,1089.9 196.3,1093.6 196.7,1091.6 197.2,1091.1 197.7,1091.6 198.1,1092.2 198.6,1087.9 199.0,1089.1 199.5,1087.7 199.9,1090.8 200.4,1090.1 200.8,1087.4 201.3,1089.6 201.7,1085.8 202.2,1091.4 202.6,1088.8 203.1,1084.8 203.5,1092.6 204.0,1090.7 204.4,1089.9 204.9,1087.0 205.4,1084.4 205.8,1087.6 206.3,1089.3 206.7,1083.2 207.2,1090.8 207.6,1092.0 208.1,1090.2 208.5,1091.4 209.0,1092.0 209.4,1083.2 209.9,1082.5 210.3,1086.6 210.8,1086.9 211.2,1090.0 211.7,1084.8 212.2,1086.0 212.6,1083.6 213.1,1085.7 213.5,1091.5 214.0,1086.2 214.4,1088.4 214.9,1087.8 215.3,1092.4 215.8,1085.7 216.2,1086.1 216.7,1088.5 217.1,1087.0 217.6,1087.8 218.0,1089.1 218.5,1082.5 218.9,1085.0 219.4,1090.7 219.9,1086.6 220.3,1090.1 220.8,1092.8 221.2,1091.0 221.7,1083.4 222.1,1320.9 222.6,1321.4 223.0,1321.1 223.8,1320.8 224.5,1320.9 225.2,1321.1 225.9,1320.7 226.7,1321.7 227.4,1322.0 228.1,1322.0 228.8,1321.3 229.6,1321.9 230.3,1321.2 231.0,1321.4 231.8,1320.2 232.5,1322.0 233.2,1320.4 233.9,1320.8 234.7,1319.6 235.4,1321.8 236.1,1320.9 236.9,1321.7 237.6,1321.6 238.3,1321.1 239.0,1320.6 239.8,1320.2 240.5,1321.5 241.2,1321.8 242.0,1321.2 243.4,1320.4 244.9,1320.8 246.3,1320.8 247.8,1320.6 249.2,1321.2 250.7,1320.8 252.1,1319.7 253.6,1320.8 255.1,1321.7 256.5,1321.5 258.0,1321.4 259.4,1321.0 260.9,1320.8 262.3,1322.4 263.8,1321.8 265.3,1321.6 266.7,1322.0 268.2,1322.8 269.6,1322.2 271.1,1090.0 271.5,1085.3 272.0,1085.4 272.4,1085.7 272.9,1083.1 273.3,1088.4 273.8,1087.1 274.2,1082.8 274.7,1085.0 275.2,1088.4 275.6,1087.0 276.1,1086.2 276.5,1087.3 277.0,1087.9 277.4,1087.6 277.9,1085.3 278.3,1085.6 278.8,1087.1 279.2,1089.5 279.7,1084.9 280.1,1087.0 280.6,1086.9 281.0,1081.6 281.5,1081.9 282.0,1081.4 282.4,1087.4 282.9,1085.9 283.3,1083.7 283.8,1085.5 284.2,1086.7 284.7,1086.2 285.1,1089.7 285.6,1083.9 286.0,1083.8 286.5,1086.7 286.9,1089.4 287.4,1084.1 287.8,1080.9 288.3,1081.3 288.7,1083.6 289.2,1084.3 289.7,1080.7 290.1,1088.5 290.6,1087.9 291.0,1082.5 291.5,1081.5 291.9,1083.3 292.4,1085.4 292.8,1086.9 293.3,1082.3 293.7,1084.8 294.2,1088.9 294.6,1083.2 295.1,1083.1 295.5,1083.1 296.0,1082.0 296.4,1083.8 296.9,1086.8 297.4,1081.6 297.8,1085.5 298.3,1087.3 298.7,1083.5 299.2,1082.8 299.6,1083.0 300.1,1086.2 300.5,1085.8 301.0,1086.6 301.4,1083.1 301.9,1085.7 302.3,1082.3 302.8,1084.1 303.2,1086.1 303.7,1079.8 304.1,1084.5 304.6,1080.3 305.1,1077.3 305.5,1086.1 306.0,1085.1 306.4,1082.1 306.9,1079.6 307.3,1080.6 307.8,1082.6 308.2,1077.2 308.7,1085.6 309.1,1081.0 309.6,1080.2 310.0,1085.6 310.5,1077.7 310.9,1083.0 311.4,1084.7 311.9,1082.9 312.3,1081.6 312.8,1084.8 313.2,1083.6 313.7,1321.4 314.1,1322.1 314.6,1321.6 315.3,1322.2 316.0,1320.9 316.8,1319.8 317.5,1321.0 318.2,1321.4 318.9,1322.3 319.7,1321.8 320.4,1320.8 321.1,1321.2 321.9,1321.5 322.6,1322.7 323.3,1322.2 324.0,1321.0 324.8,1322.1 325.5,1320.7 326.2,1321.2 326.9,1322.1 327.7,1319.9 328.4,1323.2 329.1,1321.6 329.9,1322.4 330.6,1321.6 331.3,1320.9 332.0,1320.3 332.8,1321.0 333.5,1321.5 335.0,1321.1 336.4,1322.2 337.9,1321.4 339.3,1320.7 340.8,1321.1 342.2,1320.8 343.7,1321.7 345.1,1320.9 346.6,1321.4 348.1,1322.0 349.5,1322.5 351.0,1323.1 352.4,1322.0 353.9,1321.7 355.3,1321.2 356.8,1321.9 358.3,1322.2 359.7,1321.1 361.2,1088.1 361.6,1084.4 362.1,1085.7 362.5,1088.5 363.0,1091.7 363.4,1092.7 363.9,1089.8 364.3,1091.7 364.8,1088.2 365.2,1088.7 365.7,1093.2 366.2,1091.0 366.6,1085.4 367.1,1089.9 367.5,1088.4 368.0,1089.5 368.4,1087.8 368.9,1092.1 369.3,1088.5 369.8,1094.0 370.2,1088.0 370.7,1088.0 371.1,1091.1 371.6,1088.3 372.0,1094.2 372.5,1086.4 372.9,1090.2 373.4,1090.0 373.9,1093.0 374.3,1086.3 374.8,1090.0 375.2,1092.3 375.7,1092.5 376.1,1088.4 376.6,1093.4 377.0,1089.7 377.5,1092.9 377.9,1083.9 378.4,1089.4 378.8,1094.8 379.3,1086.9 379.7,1090.5 380.2,1087.5 380.6,1085.1 381.1,1090.8 381.6,1087.8 382.0,1088.5 382.5,1088.2 382.9,1090.0 383.4,1087.6 383.8,1091.5 384.3,1086.6 384.7,1088.0 385.2,1091.0 385.6,1088.2 386.1,1088.1 386.5,1091.2 387.0,1088.4 387.4,1089.0 387.9,1084.9 388.4,1085.4 388.8,1087.7 389.3,1087.5 389.7,1087.8 390.2,1084.6 390.6,1087.3 391.1,1089.8 391.5,1084.4 392.0,1086.2 392.4,1086.0 392.9,1082.6 393.3,1082.3 393.8,1083.2 394.2,1082.0 394.7,1083.6 395.1,1083.6 395.6,1088.5 396.1,1085.7 396.5,1087.9 397.0,1090.1 397.4,1088.4 397.9,1086.6 398.3,1083.7 398.8,1089.3 399.2,1088.2 399.7,1087.9 400.1,1082.6 400.6,1087.8 401.0,1086.5 401.5,1087.3 401.9,1083.6 402.4,1088.5 402.8,1080.9 403.3,1082.3 403.8,1085.5 404.2,1322.0 404.7,1321.0 405.1,1322.3 405.8,1320.2 406.6,1321.3 407.3,1321.9 408.0,1320.2 408.8,1320.6 409.5,1320.2 410.2,1322.3 410.9,1321.8 411.7,1321.4 412.4,1322.5 413.1,1321.2 413.9,1321.2 414.6,1321.5 415.3,1321.4 416.0,1322.4 416.8,1320.8 417.5,1320.2 418.2,1322.3 418.9,1322.2 419.7,1321.3 420.4,1322.2 421.1,1322.0 421.9,1321.6 422.6,1322.3 423.3,1322.6 424.0,1320.6 425.5,1322.1 427.0,1320.7 428.4,1321.9 429.9,1320.8 431.3,1321.7 432.8,1322.4 434.2,1320.9 435.7,1321.4 437.1,1321.9 438.6,1319.7 440.1,1320.0 441.5,1322.2 443.0,1321.4 444.4,1321.6 445.9,1322.0 447.3,1320.9 448.8,1320.7 450.3,1320.5 451.7,1322.2 453.2,1320.9 453.6,1320.4 454.1,1091.2 454.5,1086.3 455.0,1086.9 455.4,1088.1 455.9,1085.4 456.3,1084.3 456.8,1088.8 457.2,1086.6 457.7,1084.6 458.2,1084.7 458.6,1091.1 459.1,1087.1 459.5,1088.6 460.0,1092.2 460.4,1087.8 460.9,1090.2 461.3,1092.6 461.8,1085.1 462.2,1087.4 462.7,1092.7 463.1,1089.2 463.6,1089.4 464.0,1088.4 464.5,1093.8 464.9,1091.4 465.4,1084.3 465.9,1086.4 466.3,1088.3 466.8,1084.9 467.2,1089.2 467.7,1088.5 468.1,1087.6 468.6,1091.6 469.0,1088.9 469.5,1086.0 469.9,1087.8 470.4,1089.7 470.8,1091.2 471.3,1083.8 471.7,1081.2 472.2,1089.6 472.6,1087.0 473.1,1083.6 473.6,1086.3 474.0,1092.4 474.5,1092.4 474.9,1087.2 475.4,1087.6 475.8,1087.1 476.3,1092.9 476.7,1090.3 477.2,1087.6 477.6,1089.6 478.1,1089.2 478.5,1087.6 479.0,1089.6 479.4,1090.9 479.9,1083.6 480.3,1084.0 480.8,1086.8 481.3,1088.7 481.7,1085.1 482.2,1084.4 482.6,1085.9 483.1,1089.5 483.5,1087.3 484.0,1084.5 484.4,1086.2 484.9,1089.1 485.3,1085.8 485.8,1085.7 486.2,1086.7 486.7,1089.2 487.1,1088.0 487.6,1090.1 488.1,1086.8 488.5,1086.3 489.0,1088.9 489.4,1091.5 489.9,1083.2 490.3,1086.6 490.8,1088.9 491.2,1088.4 491.7,1084.4 492.1,1086.0 492.6,1086.3 493.0,1084.6 493.5,1084.8 493.9,1093.9 494.4,1092.1 494.8,1089.1 495.3,1087.0 495.8,1087.1 496.2,1085.4 496.7,1085.5 497.1,1085.7 497.6,1088.6 498.0,1091.6 498.5,1085.8 498.9,1094.0 499.4,1085.5 499.8,1086.5 500.3,1321.3 500.7,1320.6 501.2,1321.4 501.9,1321.6 502.6,1321.1 503.4,1321.1 504.1,1321.1 504.8,1321.0 505.6,1320.5 506.3,1320.2 507.0,1322.1 507.7,1321.9 508.5,1319.7 509.2,1321.6 509.9,1322.9 510.7,1321.4 511.4,1321.0 512.1,1320.4 512.8,1321.0 513.6,1320.9 514.3,1321.1 515.0,1320.5 515.8,1322.5 516.5,1321.3 517.2,1321.1 517.9,1321.1 518.7,1320.4 519.4,1322.2 520.1,1320.3 521.6,1320.7 523.0,1322.2 524.5,1321.4 525.9,1321.3 527.4,1322.9 528.9,1321.3 530.3,1321.7 531.8,1321.7 533.2,1322.8 534.7,1321.1 536.1,1320.3 537.6,1320.3 539.1,1320.4 540.5,1321.0 542.0,1320.6 543.4,1322.3 544.9,1321.7 546.3,1321.4 547.8,1321.3 548.2,1321.7 548.7,1084.8 549.1,1091.6 549.6,1087.9 550.1,1091.3 550.5,1088.3 551.0,1088.3 551.4,1084.8 551.9,1081.7 552.3,1084.8 552.8,1083.8 553.2,1090.7 553.7,1086.6 554.1,1080.8 554.6,1087.6 555.0,1085.0 555.5,1081.8 555.9,1084.9 556.4,1089.3 556.8,1089.8 557.3,1088.7 557.8,1086.7 558.2,1084.2 558.7,1087.5 559.1,1089.9 559.6,1089.2 560.0,1084.4 560.5,1084.6 560.9,1086.4 561.4,1090.1 561.8,1091.1 562.3,1090.4 562.7,1088.1 563.2,1088.6 563.6,1089.6 564.1,1085.1 564.6,1084.0 565.0,1086.7 565.5,1084.4 565.9,1087.6 566.4,1084.1 566.8,1082.2 567.3,1089.8 567.7,1084.3 568.2,1092.0 568.6,1091.0 569.1,1085.4 569.5,1086.7 570.0,1088.0 570.4,1083.6 570.9,1084.0 571.3,1087.5 571.8,1088.0 572.3,1090.1 572.7,1085.7 573.2,1081.5 573.6,1082.7 574.1,1085.1 574.5,1081.5 575.0,1084.8 575.4,1081.0 575.9,1085.0 576.3,1086.7 576.8,1082.9 577.2,1083.1 577.7,1084.4 578.1,1090.3 578.6,1080.1 579.0,1086.1 579.5,1086.0 580.0,1085.5 580.4,1082.8 580.9,1081.9 581.3,1088.7 581.8,1079.7 582.2,1083.5 582.7,1087.2 583.1,1080.7 583.6,1087.7 584.0,1080.8 584.5,1082.7 584.9,1085.0 585.4,1083.3 585.8,1085.3 586.3,1077.7 586.7,1084.5 587.2,1083.8 587.7,1079.6 588.1,1081.5 588.6,1080.1 589.0,1081.6 589.5,1080.1 589.9,1083.6 590.4,1085.9 590.8,1080.2 591.3,1084.5 591.7,1082.1 592.2,1082.8 592.6,1087.1 593.1,1084.2 593.5,1083.3 594.0,1084.2 594.5,1320.8 594.9,1321.5 595.4,1320.9 596.1,1322.7 596.8,1321.3 597.5,1320.7 598.3,1321.3 599.0,1322.1 599.7,1321.2 600.5,1320.1 601.2,1320.6 601.9,1320.4 602.6,1322.0 603.4,1321.3 604.1,1321.7 604.8,1321.4 605.6,1322.0 606.3,1321.8 607.0,1320.3 607.7,1322.2 608.5,1320.8 609.2,1321.4 609.9,1321.7 610.6,1320.8 611.4,1321.2 612.1,1320.3 612.8,1319.7 613.6,1320.8 615.0,1321.6 616.5,1321.7 617.9,1322.5 619.4,1321.2 620.8,1321.8 622.3,1319.7 623.8,1321.7 625.2,1321.8 626.7,1322.0 628.1,1321.4 629.6,1321.7 631.0,1322.6 632.5,1320.5 633.9,1320.9 635.4,1320.1 636.9,1320.8 638.3,1321.3 639.8,1320.6 641.2,1321.3 642.7,1092.1 643.1,1096.0 643.6,1091.7 644.0,1094.9 644.5,1095.0 644.9,1086.9 645.4,1092.5 645.9,1091.7 646.3,1085.2 646.8,1088.2 647.2,1093.1 647.7,1092.0 648.1,1088.9 648.6,1093.0 649.0,1087.9 649.5,1089.0 649.9,1093.4 650.4,1093.1 650.8,1086.4 651.3,1089.0 651.7,1088.9 652.2,1094.1 652.7,1085.8 653.1,1092.7 653.6,1085.9 654.0,1085.8 654.5,1088.9 654.9,1082.6 655.4,1087.5 655.8,1089.1 656.3,1082.7 656.7,1086.7 657.2,1087.1 657.6,1090.8 658.1,1082.8 658.5,1084.1 659.0,1090.5 659.4,1087.4 659.9,1087.8 660.4,1088.3 660.8,1090.7 661.3,1088.2 661.7,1089.8 662.2,1086.3 662.6,1087.3 663.1,1090.0 663.5,1084.5 664.0,1091.5 664.4,1090.4 664.9,1087.7 665.3,1087.9 665.8,1086.7 666.2,1089.6 666.7,1088.5 667.1,1085.2 667.6,1090.7 668.1,1084.4 668.5,1085.4 669.0,1085.8 669.4,1087.1 669.9,1089.1 670.3,1091.8 670.8,1088.0 671.2,1084.4 671.7,1093.2 672.1,1091.6 672.6,1090.9 673.0,1087.5 673.5,1084.8 673.9,1084.9 674.4,1090.8 674.8,1086.2 675.3,1089.3 675.8,1087.7 676.2,1086.8 676.7,1089.6 677.1,1086.8 677.6,1086.1 678.0,1083.2 678.5,1082.3 678.9,1085.6 679.4,1082.7 679.8,1081.0 680.3,1086.5 680.7,1085.3 681.2,1085.4 681.6,1089.2 682.1,1086.3 682.6,1085.2 683.0,1091.1 683.5,1089.6 683.9,1085.7 684.4,1082.4 684.8,1087.0 685.3,1088.9 685.7,1090.8 686.2,1085.6 686.6,1091.9 687.1,1085.2 687.5,1320.0 688.0,1321.7 688.4,1321.9 688.9,1323.0 689.6,1320.7 690.4,1321.0 691.1,1322.2 691.8,1320.9 692.5,1321.5 693.3,1321.2 694.0,1320.6 694.7,1320.9 695.4,1321.4 696.2,1321.6 696.9,1320.6 697.6,1322.1 698.4,1321.1 699.1,1320.6 699.8,1320.3 700.5,1322.4 701.3,1320.9 702.0,1321.5 702.7,1321.5 703.5,1320.7 704.2,1321.1 704.9,1323.3 705.6,1320.8 706.4,1322.1 707.1,1320.9 708.6,1321.7 710.0,1321.9 711.5,1321.3 712.9,1320.9 714.4,1322.0 715.8,1320.4 717.3,1321.7 718.7,1321.0 720.2,1320.0 721.7,1321.6 723.1,1321.1 724.6,1320.8 726.0,1320.7 727.5,1320.6 728.9,1321.2 730.4,1321.3" fill="none" stroke="#00E600" stroke-width="4.0" stroke-linejoin="round" stroke-linecap="round"/>
<path d="M130.7,1320.6 132.2,1321.8 133.6,1321.2 135.1,1321.7 136.5,1322.5 138.0,1322.3 139.4,1321.1 140.9,1321.3 142.3,1320.9 143.8,1321.2 145.3,1321.2 146.7,1321.1 148.2,1322.1 149.6,1321.9 151.1,1319.6 152.5,1321.0 154.0,1320.3 155.5,1321.7 156.9,1321.2 158.4,1320.2 159.8,1321.0 161.3,1320.9 162.7,1320.6 164.2,1321.3 165.6,1322.2 167.1,1322.3 168.6,1322.3 170.0,1322.4 170.5,1322.9 170.9,1047.0 171.4,1046.4 171.8,1052.5 172.3,1047.1 172.7,1050.8 173.2,1052.9 173.6,1056.8 174.1,1053.0 174.5,1052.6 175.0,1051.4 175.5,1049.2 175.9,1052.6 176.4,1050.3 176.8,1048.9 177.3,1045.3 177.7,1046.5 178.2,1048.9 178.6,1052.7 179.1,1047.0 179.5,1051.2 180.0,1053.7 180.4,1053.3 180.9,1052.2 181.3,1050.1 181.8,1053.9 182.2,1052.7 182.7,1049.8 183.2,1048.2 183.6,1048.8 184.1,1049.5 184.5,1049.7 185.0,1045.4 185.4,1049.7 185.9,1048.0 186.3,1046.4 186.8,1047.9 187.2,1045.7 187.7,1048.9 188.1,1048.5 188.6,1052.8 189.0,1052.4 189.5,1050.8 190.0,1045.7 190.4,1051.2 190.9,1047.3 191.3,1047.3 191.8,1047.8 192.2,1049.2 192.7,1054.1 193.1,1053.3 193.6,1047.1 194.0,1055.0 194.5,1054.5 194.9,1049.3 195.4,1049.6 195.8,1053.0 196.3,1048.9 196.7,1050.5 197.2,1050.3 197.7,1050.1 198.1,1051.5 198.6,1046.8 199.0,1047.9 199.5,1052.8 199.9,1049.7 200.4,1045.3 200.8,1051.1 201.3,1053.0 201.7,1051.2 202.2,1049.6 202.6,1046.5 203.1,1047.7 203.5,1045.7 204.0,1048.7 204.4,1051.9 204.9,1047.5 205.4,1054.6 205.8,1054.1 206.3,1055.1 206.7,1047.0 207.2,1052.1 207.6,1051.8 208.1,1047.5 208.5,1054.6 209.0,1051.5 209.4,1046.0 209.9,1054.3 210.3,1048.4 210.8,1046.8 211.2,1048.1 211.7,1051.6 212.2,1049.7 212.6,1053.8 213.1,1050.7 213.5,1051.3 214.0,1046.3 214.4,1053.2 214.9,1046.2 215.3,1051.1 215.8,1055.4 216.2,1052.5 216.7,1049.1 217.1,1053.9 217.6,1055.6 218.0,1051.6 218.5,1051.4 218.9,1052.9 219.4,1048.9 219.9,1049.5 220.3,1052.4 220.8,1050.8 221.2,1049.4 221.7,1050.7 222.1,1322.8 222.6,1322.3 223.0,1321.6 223.8,1321.2 224.5,1320.6 225.2,1319.8 225.9,1321.3 226.7,1321.3 227.4,1320.7 228.1,1321.1 228.8,1321.6 229.6,1321.2 230.3,1320.1 231.0,1321.4 231.8,1322.6 232.5,1320.1 233.2,1321.4 233.9,1320.4 234.7,1321.7 235.4,1322.9 236.1,1321.8 236.9,1322.4 237.6,1321.2 238.3,1321.2 239.0,1321.6 239.8,1320.0 240.5,1322.2 241.2,1322.3 242.0,1321.2 243.4,1320.8 244.9,1321.2 246.3,1321.9 247.8,1320.6 249.2,1322.9 250.7,1322.3 252.1,1321.6 253.6,1322.7 255.1,1321.4 256.5,1321.7 258.0,1321.5 259.4,1321.3 260.9,1320.9 262.3,1321.2 263.8,1321.3 265.3,1322.8 266.7,1321.6 268.2,1322.1 269.6,1321.9 271.1,1055.8 271.5,1056.6 272.0,1051.7 272.4,1056.7 272.9,1050.6 273.3,1057.7 273.8,1052.7 274.2,1054.4 274.7,1048.7 275.2,1055.8 275.6,1054.7 276.1,1053.3 276.5,1054.3 277.0,1053.7 277.4,1053.1 277.9,1052.0 278.3,1049.4 278.8,1052.4 279.2,1049.4 279.7,1048.4 280.1,1053.3 280.6,1056.3 281.0,1048.9 281.5,1052.6 282.0,1054.9 282.4,1056.2 282.9,1048.6 283.3,1050.8 283.8,1053.1 284.2,1052.5 284.7,1055.2 285.1,1051.3 285.6,1051.1 286.0,1053.4 286.5,1048.2 286.9,1052.2 287.4,1050.5 287.8,1055.0 288.3,1048.4 288.7,1054.0 289.2,1054.7 289.7,1048.2 290.1,1048.4 290.6,1045.3 291.0,1052.0 291.5,1052.7 291.9,1047.2 292.4,1053.7 292.8,1048.8 293.3,1048.0 293.7,1051.6 294.2,1052.9 294.6,1049.2 295.1,1047.7 295.5,1049.4 296.0,1056.9 296.4,1054.5 296.9,1051.0 297.4,1050.5 297.8,1058.3 298.3,1057.4 298.7,1053.1 299.2,1053.0 299.6,1051.8 300.1,1049.8 300.5,1049.9 301.0,1049.5 301.4,1050.7 301.9,1044.5 302.3,1046.7 302.8,1048.1 303.2,1050.5 303.7,1047.7 304.1,1048.5 304.6,1049.8 305.1,1047.8 305.5,1042.5 306.0,1045.8 306.4,1051.5 306.9,1048.2 307.3,1045.3 307.8,1054.7 308.2,1053.1 308.7,1048.8 309.1,1047.5 309.6,1051.0 310.0,1048.7 310.5,1052.0 310.9,1051.6 311.4,1050.0 311.9,1047.4 312.3,1049.6 312.8,1049.3 313.2,1047.8 313.7,1321.5 314.1,1320.9 314.6,1320.4 315.3,1320.7 316.0,1320.7 316.8,1321.6 317.5,1321.1 318.2,1320.5 318.9,1322.1 319.7,1320.6 320.4,1321.1 321.1,1321.7 321.9,1320.8 322.6,1320.9 323.3,1321.7 324.0,1321.4 324.8,1321.9 325.5,1321.5 326.2,1322.1 326.9,1322.4 327.7,1320.7 328.4,1322.5 329.1,1322.3 329.9,1322.0 330.6,1319.7 331.3,1322.4 332.0,1321.6 332.8,1321.8 333.5,1320.7 335.0,1321.9 336.4,1320.4 337.9,1321.3 339.3,1320.3 340.8,1321.1 342.2,1321.3 343.7,1322.2 345.1,1321.7 346.6,1321.4 348.1,1321.5 349.5,1320.9 351.0,1321.3 352.4,1320.7 353.9,1321.4 355.3,1321.5 356.8,1320.6 358.3,1321.1 359.7,1320.7 361.2,1057.2 361.6,1060.8 362.1,1054.4 362.5,1053.9 363.0,1057.2 363.4,1053.3 363.9,1055.8 364.3,1051.8 364.8,1052.2 365.2,1056.9 365.7,1054.1 366.2,1056.7 366.6,1055.0 367.1,1059.9 367.5,1053.0 368.0,1053.3 368.4,1053.5 368.9,1055.2 369.3,1054.3 369.8,1052.7 370.2,1050.4 370.7,1054.7 371.1,1050.2 371.6,1052.6 372.0,1047.9 372.5,1052.4 372.9,1046.5 373.4,1049.5 373.9,1052.6 374.3,1051.4 374.8,1061.6 375.2,1055.7 375.7,1057.7 376.1,1056.9 376.6,1055.2 377.0,1055.8 377.5,1054.5 377.9,1050.2 378.4,1058.1 378.8,1053.3 379.3,1056.7 379.7,1050.3 380.2,1054.7 380.6,1049.8 381.1,1053.1 381.6,1053.3 382.0,1052.7 382.5,1053.9 382.9,1052.1 383.4,1051.2 383.8,1053.0 384.3,1045.1 384.7,1049.6 385.2,1053.2 385.6,1050.3 386.1,1051.4 386.5,1045.7 387.0,1047.9 387.4,1053.5 387.9,1050.5 388.4,1052.6 388.8,1048.3 389.3,1046.0 389.7,1056.4 390.2,1056.0 390.6,1051.4 391.1,1057.3 391.5,1050.3 392.0,1050.2 392.4,1052.4 392.9,1050.1 393.3,1049.3 393.8,1053.7 394.2,1049.7 394.7,1049.4 395.1,1052.0 395.6,1050.8 396.1,1051.0 396.5,1054.7 397.0,1058.8 397.4,1053.3 397.9,1055.4 398.3,1055.6 398.8,1054.2 399.2,1054.1 399.7,1048.7 400.1,1048.4 400.6,1053.8 401.0,1048.3 401.5,1047.9 401.9,1049.3 402.4,1049.2 402.8,1048.3 403.3,1047.5 403.8,1045.7 404.2,1321.1 404.7,1321.0 405.1,1320.9 405.8,1321.7 406.6,1321.2 407.3,1321.2 408.0,1321.2 408.8,1321.1 409.5,1321.3 410.2,1321.2 410.9,1322.3 411.7,1322.0 412.4,1320.4 413.1,1321.3 413.9,1321.7 414.6,1320.6 415.3,1319.5 416.0,1319.5 416.8,1321.3 417.5,1321.0 418.2,1321.9 418.9,1320.6 419.7,1320.5 420.4,1321.6 421.1,1322.3 421.9,1321.9 422.6,1321.1 423.3,1322.4 424.0,1320.6 425.5,1321.3 427.0,1321.7 428.4,1321.3 429.9,1321.9 431.3,1320.7 432.8,1321.5 434.2,1320.8 435.7,1320.1 437.1,1321.5 438.6,1321.2 440.1,1323.0 441.5,1320.8 443.0,1320.9 444.4,1320.9 445.9,1321.7 447.3,1321.7 448.8,1323.2 450.3,1321.3 451.7,1321.8 453.2,1321.2 453.6,1321.2 454.1,1048.5 454.5,1047.7 455.0,1046.4 455.4,1049.7 455.9,1048.6 456.3,1045.4 456.8,1053.3 457.2,1051.5 457.7,1047.5 458.2,1050.2 458.6,1045.0 459.1,1046.5 459.5,1049.5 460.0,1048.3 460.4,1049.7 460.9,1044.8 461.3,1054.4 461.8,1050.1 462.2,1050.3 462.7,1048.3 463.1,1052.3 463.6,1052.9 464.0,1045.5 464.5,1049.6 464.9,1053.1 465.4,1046.6 465.9,1051.8 466.3,1053.7 466.8,1055.2 467.2,1047.1 467.7,1048.9 468.1,1053.3 468.6,1046.7 469.0,1046.4 469.5,1047.5 469.9,1046.7 470.4,1053.9 470.8,1054.0 471.3,1050.7 471.7,1051.8 472.2,1047.7 472.6,1051.9 473.1,1052.3 473.6,1050.7 474.0,1053.9 474.5,1054.2 474.9,1053.5 475.4,1054.9 475.8,1054.9 476.3,1049.4 476.7,1051.6 477.2,1050.0 477.6,1050.0 478.1,1049.4 478.5,1052.5 479.0,1053.0 479.4,1049.9 479.9,1050.9 480.3,1044.2 480.8,1052.8 481.3,1045.7 481.7,1052.8 482.2,1050.5 482.6,1055.8 483.1,1046.4 483.5,1054.1 484.0,1046.6 484.4,1047.7 484.9,1050.0 485.3,1052.2 485.8,1048.3 486.2,1053.7 486.7,1053.2 487.1,1054.2 487.6,1044.8 488.1,1050.9 488.5,1045.9 489.0,1053.5 489.4,1050.2 489.9,1046.6 490.3,1049.1 490.8,1048.3 491.2,1051.0 491.7,1052.7 492.1,1051.5 492.6,1051.6 493.0,1050.5 493.5,1052.7 493.9,1047.7 494.4,1052.1 494.8,1054.1 495.3,1052.0 495.8,1052.0 496.2,1054.2 496.7,1055.0 497.1,1055.3 497.6,1052.2 498.0,1054.5 498.5,1049.4 498.9,1052.3 499.4,1049.5 499.8,1051.9 500.3,1322.3 500.7,1320.7 501.2,1322.9 501.9,1321.6 502.6,1322.3 503.4,1321.3 504.1,1321.6 504.8,1320.5 505.6,1321.1 506.3,1322.0 507.0,1320.8 507.7,1321.7 508.5,1320.9 509.2,1321.7 509.9,1322.8 510.7,1320.8 511.4,1321.6 512.1,1319.6 512.8,1321.2 513.6,1322.4 514.3,1321.7 515.0,1320.2 515.8,1321.4 516.5,1321.8 517.2,1321.5 517.9,1321.3 518.7,1321.7 519.4,1322.2 520.1,1322.4 521.6,1320.6 523.0,1319.3 524.5,1321.0 525.9,1320.3 527.4,1320.8 528.9,1321.1 530.3,1322.4 531.8,1321.3 533.2,1321.1 534.7,1321.4 536.1,1321.6 537.6,1321.2 539.1,1321.3 540.5,1321.5 542.0,1321.7 543.4,1321.4 544.9,1321.1 546.3,1321.1 547.8,1321.0 548.2,1320.5 548.7,1049.5 549.1,1057.1 549.6,1052.7 550.1,1051.0 550.5,1053.4 551.0,1049.4 551.4,1054.6 551.9,1050.3 552.3,1049.6 552.8,1049.6 553.2,1048.4 553.7,1048.8 554.1,1049.0 554.6,1047.1 555.0,1051.3 555.5,1051.1 555.9,1048.3 556.4,1053.5 556.8,1052.7 557.3,1046.5 557.8,1053.3 558.2,1050.1 558.7,1046.1 559.1,1049.7 559.6,1047.5 560.0,1053.0 560.5,1051.1 560.9,1049.7 561.4,1054.3 561.8,1048.7 562.3,1054.8 562.7,1049.7 563.2,1053.3 563.6,1051.6 564.1,1053.0 564.6,1049.6 565.0,1045.4 565.5,1045.8 565.9,1050.1 566.4,1046.4 566.8,1053.5 567.3,1047.2 567.7,1047.8 568.2,1043.8 568.6,1049.7 569.1,1047.4 569.5,1047.2 570.0,1046.2 570.4,1047.7 570.9,1053.0 571.3,1051.4 571.8,1047.4 572.3,1052.7 572.7,1053.1 573.2,1050.6 573.6,1050.7 574.1,1050.4 574.5,1053.8 575.0,1054.8 575.4,1049.4 575.9,1057.2 576.3,1056.7 576.8,1054.6 577.2,1050.3 577.7,1057.3 578.1,1051.0 578.6,1056.3 579.0,1054.7 579.5,1049.8 580.0,1049.7 580.4,1050.0 580.9,1052.5 581.3,1050.8 581.8,1051.6 582.2,1049.3 582.7,1046.4 583.1,1052.9 583.6,1049.8 584.0,1054.5 584.5,1049.9 584.9,1051.9 585.4,1053.2 585.8,1053.9 586.3,1052.6 586.7,1051.4 587.2,1049.4 587.7,1054.7 588.1,1052.1 588.6,1055.5 589.0,1053.5 589.5,1059.1 589.9,1056.3 590.4,1054.4 590.8,1051.1 591.3,1052.3 591.7,1050.5 592.2,1053.0 592.6,1048.8 593.1,1053.9 593.5,1054.8 594.0,1055.6 594.5,1320.0 594.9,1321.1 595.4,1321.2 596.1,1320.9 596.8,1321.9 597.5,1321.8 598.3,1321.8 599.0,1321.4 599.7,1320.6 600.5,1320.8 601.2,1322.0 601.9,1320.5 602.6,1319.2 603.4,1321.9 604.1,1320.2 604.8,1322.3 605.6,1321.7 606.3,1321.2 607.0,1323.0 607.7,1321.5 608.5,1321.0 609.2,1320.4 609.9,1321.0 610.6,1321.0 611.4,1322.9 612.1,1321.3 612.8,1321.5 613.6,1319.5 615.0,1320.3 616.5,1321.9 617.9,1320.4 619.4,1322.1 620.8,1320.9 622.3,1322.0 623.8,1320.3 625.2,1320.9 626.7,1320.3 628.1,1320.7 629.6,1321.3 631.0,1321.8 632.5,1321.5 633.9,1321.2 635.4,1320.9 636.9,1320.9 638.3,1321.3 639.8,1320.8 641.2,1322.0 642.7,1052.9 643.1,1052.3 643.6,1046.6 644.0,1049.3 644.5,1052.8 644.9,1048.9 645.4,1053.6 645.9,1052.3 646.3,1049.9 646.8,1047.3 647.2,1047.6 647.7,1051.6 648.1,1055.6 648.6,1052.7 649.0,1047.8 649.5,1045.7 649.9,1053.7 650.4,1053.8 650.8,1050.7 651.3,1042.7 651.7,1048.2 652.2,1053.6 652.7,1048.1 653.1,1047.2 653.6,1051.1 654.0,1048.7 654.5,1046.2 654.9,1054.1 655.4,1046.6 655.8,1051.0 656.3,1052.1 656.7,1051.2 657.2,1046.2 657.6,1045.7 658.1,1045.2 658.5,1053.3 659.0,1048.8 659.4,1047.4 659.9,1052.6 660.4,1046.4 660.8,1044.0 661.3,1054.0 661.7,1054.3 662.2,1053.6 662.6,1050.1 663.1,1050.5 663.5,1049.6 664.0,1054.2 664.4,1053.3 664.9,1049.8 665.3,1051.0 665.8,1050.8 666.2,1054.4 666.7,1048.5 667.1,1050.5 667.6,1053.4 668.1,1054.2 668.5,1052.1 669.0,1047.3 669.4,1055.2 669.9,1046.8 670.3,1050.2 670.8,1052.5 671.2,1048.8 671.7,1050.1 672.1,1050.5 672.6,1053.2 673.0,1052.3 673.5,1049.5 673.9,1048.9 674.4,1048.8 674.8,1051.4 675.3,1052.5 675.8,1050.3 676.2,1046.5 676.7,1053.0 677.1,1049.0 677.6,1052.4 678.0,1052.6 678.5,1050.9 678.9,1055.0 679.4,1049.7 679.8,1048.8 680.3,1054.6 680.7,1052.6 681.2,1056.8 681.6,1052.9 682.1,1054.9 682.6,1052.8 683.0,1048.9 683.5,1049.0 683.9,1050.1 684.4,1050.8 684.8,1042.8 685.3,1053.0 685.7,1047.3 686.2,1044.4 686.6,1050.0 687.1,1046.4 687.5,1321.3 688.0,1320.9 688.4,1320.8 688.9,1321.8 689.6,1321.1 690.4,1322.5 691.1,1320.9 691.8,1320.4 692.5,1320.7 693.3,1321.2 694.0,1321.0 694.7,1320.8 695.4,1321.4 696.2,1319.4 696.9,1321.1 697.6,1321.1 698.4,1321.7 699.1,1320.7 699.8,1321.3 700.5,1320.7 701.3,1320.9 702.0,1322.3 702.7,1321.2 703.5,1320.7 704.2,1320.6 704.9,1321.2 705.6,1322.5 706.4,1322.0 707.1,1319.8 708.6,1320.8 710.0,1320.4 711.5,1323.2 712.9,1321.2 714.4,1320.9 715.8,1321.2 717.3,1320.7 718.7,1320.4 720.2,1320.7 721.7,1322.1 723.1,1322.5 724.6,1321.4 726.0,1322.5 727.5,1321.3 728.9,1320.1 730.4,1321.9" fill="none" stroke="#0000FF" stroke-width="4.0" stroke-linejoin="round" stroke-linecap="round"/>
<line x1="219.7" y1="799.8" x2="271" y2="799.8" stroke="#FF0000" stroke-width="4.2" stroke-linecap="butt"/>
<text x="284.5" y="809" font-size="35" textLength="67.5" lengthAdjust="spacingAndGlyphs">40 V</text>
<line x1="221.8" y1="847.6" x2="273.1" y2="847.6" stroke="#0000FF" stroke-width="4.2" stroke-linecap="butt"/>
<text x="286" y="856.7" font-size="35" textLength="69.5" lengthAdjust="spacingAndGlyphs">30 V</text>
<line x1="219.7" y1="893" x2="271" y2="893" stroke="#00E600" stroke-width="4.2" stroke-linecap="butt"/>
<text x="284.3" y="902.7" font-size="35" textLength="70" lengthAdjust="spacingAndGlyphs">20 V</text>
<line x1="221.8" y1="935" x2="273.1" y2="935" stroke="#FF007F" stroke-width="4.2" stroke-linecap="butt"/>
<text x="286.2" y="944.5" font-size="35" textLength="59.5" lengthAdjust="spacingAndGlyphs">10V</text>
<text x="152.5" y="829" font-size="33.5" textLength="22" lengthAdjust="spacingAndGlyphs" font-style="italic">V</text>
<text x="171" y="845.2" font-size="20" textLength="25" lengthAdjust="spacingAndGlyphs">SD</text>
<text x="204" y="829.3" font-size="33.5" textLength="19" lengthAdjust="spacingAndGlyphs">=</text>
<text x="391.5" y="825" font-size="35" textLength="304" lengthAdjust="spacingAndGlyphs">489 nm, 100 μW cm</text>
<text x="695.5" y="802.3" font-size="18.5" textLength="17.5" lengthAdjust="spacingAndGlyphs">-2</text>
<rect x="1044.1" y="777.6" width="599.6" height="599.9" fill="none" stroke="#000" stroke-width="2.4"/>
<line x1="1044.1" y1="1338.6" x2="1061.1" y2="1338.6" stroke="#000" stroke-width="2.2" stroke-linecap="butt"/>
<text x="1024.8" y="1347.3" font-size="35.5" text-anchor="end" textLength="18.7" lengthAdjust="spacingAndGlyphs">0</text>
<line x1="1044.1" y1="1258.3" x2="1053.1" y2="1258.3" stroke="#000" stroke-width="2.2" stroke-linecap="butt"/>
<line x1="1044.1" y1="1178.1" x2="1061.1" y2="1178.1" stroke="#000" stroke-width="2.2" stroke-linecap="butt"/>
<text x="1024.8" y="1186.8" font-size="35.5" text-anchor="end" textLength="56.1" lengthAdjust="spacingAndGlyphs">400</text>
<line x1="1044.1" y1="1097.8" x2="1053.1" y2="1097.8" stroke="#000" stroke-width="2.2" stroke-linecap="butt"/>
<line x1="1044.1" y1="1017.6" x2="1061.1" y2="1017.6" stroke="#000" stroke-width="2.2" stroke-linecap="butt"/>
<text x="1024.8" y="1026.3" font-size="35.5" text-anchor="end" textLength="56.1" lengthAdjust="spacingAndGlyphs">800</text>
<line x1="1044.1" y1="937.3" x2="1053.1" y2="937.3" stroke="#000" stroke-width="2.2" stroke-linecap="butt"/>
<line x1="1044.1" y1="857.1" x2="1061.1" y2="857.1" stroke="#000" stroke-width="2.2" stroke-linecap="butt"/>
<text x="1024.8" y="865.8" font-size="35.5" text-anchor="end" textLength="74.8" lengthAdjust="spacingAndGlyphs">1200</text>
<text x="1043.8" y="1424.2" font-size="35.5" text-anchor="middle" textLength="18.7" lengthAdjust="spacingAndGlyphs">0</text>
<line x1="1125.2" y1="1377.5" x2="1125.2" y2="1368.5" stroke="#000" stroke-width="2.2" stroke-linecap="butt"/>
<line x1="1206.2" y1="1377.5" x2="1206.2" y2="1360.5" stroke="#000" stroke-width="2.2" stroke-linecap="butt"/>
<text x="1205.9" y="1424.2" font-size="35.5" text-anchor="middle" textLength="37.4" lengthAdjust="spacingAndGlyphs">50</text>
<line x1="1287.3" y1="1377.5" x2="1287.3" y2="1368.5" stroke="#000" stroke-width="2.2" stroke-linecap="butt"/>
<line x1="1368.4" y1="1377.5" x2="1368.4" y2="1360.5" stroke="#000" stroke-width="2.2" stroke-linecap="butt"/>
<text x="1368.1" y="1424.2" font-size="35.5" text-anchor="middle" textLength="56.1" lengthAdjust="spacingAndGlyphs">100</text>
<line x1="1449.5" y1="1377.5" x2="1449.5" y2="1368.5" stroke="#000" stroke-width="2.2" stroke-linecap="butt"/>
<line x1="1530.5" y1="1377.5" x2="1530.5" y2="1360.5" stroke="#000" stroke-width="2.2" stroke-linecap="butt"/>
<text x="1530.2" y="1424.2" font-size="35.5" text-anchor="middle" textLength="56.1" lengthAdjust="spacingAndGlyphs">150</text>
<line x1="1611.6" y1="1377.5" x2="1611.6" y2="1368.5" stroke="#000" stroke-width="2.2" stroke-linecap="butt"/>
<text x="1278.2" y="1457.5" font-size="33.5" textLength="120" lengthAdjust="spacingAndGlyphs">Time (s)</text>
<g transform="translate(926 1140) rotate(-90)">
<text x="-1" y="0" font-size="33.5" textLength="10" lengthAdjust="spacingAndGlyphs" font-style="italic">I</text>
<text x="9" y="16.2" font-size="20" textLength="23.5" lengthAdjust="spacingAndGlyphs">SD</text>
<text x="41" y="0" font-size="33.5" textLength="62" lengthAdjust="spacingAndGlyphs">(pA)</text>
</g>
<text x="960" y="757.2" font-size="58" textLength="34.5" lengthAdjust="spacingAndGlyphs" font-weight="bold">d</text>
<path d="M1044.1,1330.8 1045.6,1328.6 1047.0,1329.2 1048.5,1328.0 1049.9,1333.6 1051.4,1331.6 1052.9,1337.0 1054.3,1333.6 1055.8,1334.0 1057.2,1335.3 1058.7,1332.6 1060.2,1335.4 1061.6,1330.7 1063.1,1336.8 1064.5,1335.4 1066.0,1334.9 1067.4,1334.5 1068.9,1335.2 1070.4,1335.2 1071.8,1335.2 1073.3,1335.1 1074.7,1335.1 1076.2,1335.6 1077.7,1334.9 1079.1,1335.8 1080.6,1336.5 1082.0,1335.7 1083.5,1335.8 1084.0,1335.2 1084.4,1006.5 1084.9,991.1 1085.3,999.5 1085.8,1001.0 1086.2,996.0 1086.7,1000.0 1087.1,994.4 1087.6,992.9 1088.0,995.2 1088.5,992.0 1089.0,990.2 1089.4,982.4 1089.9,979.4 1090.3,995.1 1090.8,978.8 1091.2,985.9 1091.7,986.4 1092.1,982.1 1092.6,981.3 1093.0,981.1 1093.5,979.9 1093.9,982.4 1094.4,989.1 1094.9,985.0 1095.3,978.9 1095.8,988.2 1096.2,981.9 1096.7,982.2 1097.1,980.0 1097.6,980.2 1098.0,982.5 1098.5,982.2 1098.9,982.6 1099.4,985.7 1099.8,974.7 1100.3,981.4 1100.8,980.8 1101.2,977.3 1101.7,985.6 1102.1,976.4 1102.6,978.7 1103.0,983.2 1103.5,977.6 1103.9,974.7 1104.4,984.7 1104.8,985.0 1105.3,976.0 1105.7,980.1 1106.2,979.8 1106.7,979.4 1107.1,989.7 1107.6,980.9 1108.0,985.7 1108.5,985.5 1108.9,977.5 1109.4,990.6 1109.8,979.7 1110.3,977.5 1110.7,988.8 1111.2,983.5 1111.7,973.4 1112.1,981.0 1112.6,975.1 1113.0,978.9 1113.5,975.6 1113.9,970.5 1114.4,972.8 1114.8,970.3 1115.3,979.1 1115.7,978.3 1116.2,978.6 1116.6,971.5 1117.1,976.9 1117.6,977.4 1118.0,980.8 1118.5,975.1 1118.9,977.7 1119.4,983.0 1119.8,975.0 1120.3,979.0 1120.7,981.7 1121.2,980.9 1121.6,975.1 1122.1,986.5 1122.5,976.1 1123.0,979.6 1123.5,981.0 1123.9,973.9 1124.4,971.4 1124.8,967.3 1125.3,967.8 1125.7,972.5 1126.2,973.6 1126.6,968.4 1127.1,976.3 1127.5,973.8 1128.0,980.4 1128.5,973.7 1128.9,970.6 1129.4,975.1 1129.8,975.3 1130.3,970.2 1130.7,967.9 1131.2,962.4 1131.6,967.0 1132.1,972.1 1132.5,969.0 1133.0,971.9 1133.4,969.4 1133.9,971.4 1134.4,968.0 1134.8,972.4 1135.3,970.6 1135.7,1317.5 1136.2,1319.6 1136.6,1321.7 1137.4,1323.1 1138.1,1325.2 1138.8,1325.7 1139.5,1328.2 1140.3,1328.7 1141.0,1330.2 1141.7,1330.7 1142.5,1331.9 1143.2,1332.3 1143.9,1333.3 1144.6,1333.0 1145.4,1333.2 1146.1,1333.3 1146.8,1333.8 1147.6,1333.5 1148.3,1334.8 1149.0,1334.7 1149.8,1335.0 1150.5,1335.6 1151.2,1335.2 1151.9,1336.1 1152.7,1335.2 1153.4,1334.7 1154.1,1334.9 1154.9,1336.1 1155.6,1334.2 1157.1,1334.8 1158.5,1335.8 1160.0,1336.2 1161.4,1335.2 1162.9,1335.2 1164.4,1335.7 1165.8,1335.6 1167.3,1335.3 1168.7,1335.1 1170.2,1334.5 1171.6,1336.0 1173.1,1335.7 1174.6,1335.3 1176.0,1335.5 1177.5,1337.2 1178.9,1335.2 1180.4,1334.4 1181.9,1334.8 1183.3,995.8 1183.8,993.2 1184.2,986.2 1184.7,981.6 1185.1,988.0 1185.6,989.9 1186.0,988.7 1186.5,983.7 1187.0,986.6 1187.4,988.2 1187.9,985.6 1188.3,983.3 1188.8,990.4 1189.2,976.8 1189.7,976.0 1190.1,979.7 1190.6,988.6 1191.0,980.1 1191.5,987.8 1191.9,976.8 1192.4,989.3 1192.9,975.4 1193.3,982.3 1193.8,981.7 1194.2,974.7 1194.7,983.9 1195.1,985.5 1195.6,969.7 1196.0,978.5 1196.5,970.8 1196.9,980.3 1197.4,973.8 1197.9,972.4 1198.3,974.4 1198.8,973.0 1199.2,982.9 1199.7,973.5 1200.1,982.4 1200.6,984.0 1201.0,984.9 1201.5,976.2 1201.9,973.5 1202.4,973.4 1202.8,971.4 1203.3,977.8 1203.8,975.7 1204.2,979.9 1204.7,982.7 1205.1,977.0 1205.6,981.2 1206.0,981.1 1206.5,983.2 1206.9,981.0 1207.4,986.6 1207.8,975.6 1208.3,976.9 1208.7,974.0 1209.2,988.7 1209.7,980.9 1210.1,984.8 1210.6,972.2 1211.0,980.5 1211.5,972.0 1211.9,979.5 1212.4,980.7 1212.8,974.9 1213.3,973.9 1213.7,986.3 1214.2,987.5 1214.6,976.7 1215.1,974.1 1215.6,975.1 1216.0,975.8 1216.5,968.9 1216.9,973.5 1217.4,985.8 1217.8,976.0 1218.3,984.8 1218.7,981.2 1219.2,969.2 1219.6,981.4 1220.1,977.5 1220.6,969.9 1221.0,980.2 1221.5,983.1 1221.9,980.5 1222.4,982.3 1222.8,970.0 1223.3,983.6 1223.7,975.9 1224.2,978.5 1224.6,968.4 1225.1,983.8 1225.5,970.9 1226.0,987.4 1226.5,974.9 1226.9,980.3 1227.4,1317.8 1227.8,1319.1 1228.3,1320.7 1228.7,1322.1 1229.5,1324.2 1230.2,1325.6 1230.9,1326.3 1231.6,1328.2 1232.4,1329.3 1233.1,1330.3 1233.8,1330.6 1234.6,1332.3 1235.3,1332.7 1236.0,1332.6 1236.8,1333.9 1237.5,1333.0 1238.2,1334.0 1238.9,1334.4 1239.7,1334.7 1240.4,1335.5 1241.1,1335.0 1241.9,1335.7 1242.6,1335.6 1243.3,1335.6 1244.0,1335.0 1244.8,1335.3 1245.5,1334.9 1246.2,1335.9 1247.0,1335.4 1248.4,1335.5 1249.9,1335.2 1251.3,1335.6 1252.8,1335.1 1254.3,1335.8 1255.7,1335.0 1257.2,1334.5 1258.6,1334.9 1260.1,1335.4 1261.6,1335.4 1263.0,1335.1 1264.5,1335.7 1265.9,1335.9 1267.4,1335.7 1268.9,1335.7 1270.3,1335.7 1271.8,1334.5 1273.2,1334.0 1273.7,1335.3 1274.1,987.6 1274.6,984.9 1275.1,992.8 1275.5,988.0 1276.0,992.1 1276.4,991.5 1276.9,975.8 1277.3,982.2 1277.8,981.8 1278.2,985.1 1278.7,983.8 1279.1,981.8 1279.6,982.8 1280.0,980.3 1280.5,979.5 1281.0,981.7 1281.4,978.4 1281.9,988.3 1282.3,979.8 1282.8,984.0 1283.2,982.4 1283.7,973.0 1284.1,967.0 1284.6,972.5 1285.0,983.2 1285.5,971.5 1285.9,973.7 1286.4,982.2 1286.9,979.2 1287.3,970.8 1287.8,972.8 1288.2,974.3 1288.7,975.4 1289.1,976.4 1289.6,979.6 1290.0,971.1 1290.5,970.4 1290.9,981.6 1291.4,974.5 1291.8,974.9 1292.3,985.9 1292.8,975.4 1293.2,983.1 1293.7,973.1 1294.1,982.5 1294.6,972.1 1295.0,975.5 1295.5,976.9 1295.9,983.9 1296.4,980.1 1296.8,968.7 1297.3,982.5 1297.8,980.2 1298.2,968.8 1298.7,982.2 1299.1,980.1 1299.6,970.1 1300.0,990.5 1300.5,982.8 1300.9,979.8 1301.4,976.0 1301.8,973.2 1302.3,978.0 1302.7,980.2 1303.2,970.8 1303.7,972.0 1304.1,980.5 1304.6,974.0 1305.0,969.3 1305.5,977.7 1305.9,972.4 1306.4,980.3 1306.8,978.2 1307.3,984.6 1307.7,984.1 1308.2,982.6 1308.6,980.0 1309.1,983.8 1309.6,975.4 1310.0,980.0 1310.5,988.5 1310.9,984.0 1311.4,972.4 1311.8,974.6 1312.3,969.1 1312.7,975.3 1313.2,981.6 1313.6,975.7 1314.1,980.6 1314.5,966.6 1315.0,977.1 1315.5,976.9 1315.9,969.6 1316.4,976.3 1316.8,1318.1 1317.3,1318.1 1317.7,1321.3 1318.2,1322.3 1318.9,1324.1 1319.6,1324.9 1320.4,1326.6 1321.1,1328.7 1321.8,1330.3 1322.6,1329.8 1323.3,1331.3 1324.0,1332.5 1324.7,1331.7 1325.5,1333.5 1326.2,1333.7 1326.9,1333.0 1327.7,1334.5 1328.4,1333.0 1329.1,1333.3 1329.9,1335.6 1330.6,1334.6 1331.3,1334.1 1332.0,1334.4 1332.8,1334.4 1333.5,1335.8 1334.2,1334.1 1335.0,1335.4 1335.7,1335.4 1336.4,1335.4 1337.9,1334.6 1339.3,1335.6 1340.8,1335.4 1342.3,1336.1 1343.7,1336.2 1345.2,1335.1 1346.6,1336.0 1348.1,1336.1 1349.6,1334.9 1351.0,1335.5 1352.5,1335.3 1353.9,1334.9 1355.4,1335.2 1356.9,1334.7 1358.3,1335.0 1359.8,1335.8 1361.2,1335.5 1362.7,1335.5 1364.2,1335.9 1365.6,1335.3 1367.1,1335.8 1368.5,990.4 1369.0,980.7 1369.4,984.4 1369.9,986.3 1370.3,989.9 1370.8,977.2 1371.3,970.3 1371.7,981.8 1372.2,985.6 1372.6,990.0 1373.1,975.8 1373.5,977.9 1374.0,978.4 1374.4,980.0 1374.9,985.4 1375.3,977.7 1375.8,987.7 1376.2,974.0 1376.7,971.3 1377.2,971.5 1377.6,971.0 1378.1,975.7 1378.5,976.1 1379.0,974.7 1379.4,983.5 1379.9,973.2 1380.3,978.1 1380.8,981.9 1381.2,972.4 1381.7,979.1 1382.2,974.1 1382.6,981.1 1383.1,982.4 1383.5,979.7 1384.0,980.4 1384.4,969.2 1384.9,980.9 1385.3,980.0 1385.8,979.9 1386.2,970.3 1386.7,981.5 1387.1,976.8 1387.6,975.0 1388.1,977.7 1388.5,974.8 1389.0,966.3 1389.4,977.3 1389.9,972.6 1390.3,971.0 1390.8,979.9 1391.2,967.5 1391.7,974.4 1392.1,974.2 1392.6,973.8 1393.0,972.4 1393.5,969.3 1394.0,968.3 1394.4,967.4 1394.9,974.7 1395.3,977.6 1395.8,972.7 1396.2,974.4 1396.7,980.2 1397.1,974.4 1397.6,980.9 1398.0,978.6 1398.5,973.4 1398.9,967.4 1399.4,978.6 1399.9,971.8 1400.3,972.1 1400.8,976.8 1401.2,965.4 1401.7,971.3 1402.1,967.0 1402.6,977.5 1403.0,964.3 1403.5,976.4 1403.9,974.9 1404.4,973.7 1404.9,967.2 1405.3,968.6 1405.8,970.4 1406.2,975.5 1406.7,975.5 1407.1,965.9 1407.6,971.5 1408.0,974.9 1408.5,976.1 1408.9,976.8 1409.4,970.0 1409.8,964.2 1410.3,972.6 1410.8,966.0 1411.2,973.3 1411.7,969.5 1412.1,974.9 1412.6,981.3 1413.0,976.5 1413.5,966.3 1413.9,1317.9 1414.4,1320.4 1414.8,1321.6 1415.6,1323.3 1416.3,1325.3 1417.0,1328.4 1417.8,1328.1 1418.5,1329.6 1419.2,1329.9 1419.9,1331.7 1420.7,1331.7 1421.4,1332.2 1422.1,1332.7 1422.9,1333.8 1423.6,1333.9 1424.3,1333.5 1425.1,1332.3 1425.8,1334.3 1426.5,1333.8 1427.2,1334.3 1428.0,1333.9 1428.7,1336.0 1429.4,1336.2 1430.2,1335.0 1430.9,1335.3 1431.6,1335.5 1432.4,1335.4 1433.1,1334.8 1434.5,1333.9 1436.0,1336.5 1437.5,1335.9 1438.9,1335.2 1440.4,1336.2 1441.8,1335.6 1443.3,1335.8 1444.8,1335.9 1446.2,1335.4 1447.7,1335.9 1449.1,1335.3 1450.6,1334.4 1452.1,1336.0 1453.5,1335.2 1455.0,1335.7 1456.4,1335.9 1457.9,1335.1 1459.3,1335.1 1460.8,1335.6 1461.3,1335.0 1461.7,979.6 1462.2,994.5 1462.6,983.3 1463.1,985.8 1463.5,980.0 1464.0,983.4 1464.4,987.8 1464.9,983.8 1465.3,976.6 1465.8,982.5 1466.3,985.9 1466.7,982.9 1467.2,974.7 1467.6,980.3 1468.1,980.7 1468.5,973.7 1469.0,973.8 1469.4,970.8 1469.9,967.5 1470.3,973.4 1470.8,972.0 1471.3,973.1 1471.7,978.3 1472.2,976.3 1472.6,982.5 1473.1,976.9 1473.5,971.1 1474.0,972.1 1474.4,968.8 1474.9,979.1 1475.3,966.5 1475.8,967.6 1476.2,964.0 1476.7,977.5 1477.2,969.5 1477.6,978.3 1478.1,978.0 1478.5,972.0 1479.0,973.4 1479.4,977.9 1479.9,969.2 1480.3,970.7 1480.8,976.0 1481.2,971.8 1481.7,969.1 1482.1,969.4 1482.6,977.3 1483.1,980.0 1483.5,968.6 1484.0,979.5 1484.4,968.2 1484.9,979.3 1485.3,969.3 1485.8,972.1 1486.2,979.7 1486.7,971.9 1487.1,975.5 1487.6,970.2 1488.1,966.9 1488.5,971.7 1489.0,978.3 1489.4,974.9 1489.9,974.0 1490.3,980.7 1490.8,977.1 1491.2,967.1 1491.7,968.9 1492.1,978.6 1492.6,966.1 1493.0,977.1 1493.5,976.3 1494.0,975.1 1494.4,977.4 1494.9,974.4 1495.3,971.0 1495.8,967.7 1496.2,974.4 1496.7,966.3 1497.1,978.2 1497.6,977.5 1498.0,969.0 1498.5,973.3 1498.9,967.0 1499.4,972.5 1499.9,976.3 1500.3,981.9 1500.8,976.0 1501.2,980.3 1501.7,977.7 1502.1,973.3 1502.6,969.1 1503.0,979.4 1503.5,978.9 1503.9,970.4 1504.4,973.9 1504.8,972.4 1505.3,972.5 1505.8,966.9 1506.2,974.3 1506.7,976.4 1507.1,964.6 1507.6,974.8 1508.0,975.6 1508.5,1318.4 1508.9,1319.7 1509.4,1321.3 1510.1,1322.3 1510.8,1325.5 1511.6,1327.7 1512.3,1328.4 1513.0,1329.8 1513.8,1330.1 1514.5,1331.0 1515.2,1331.9 1516.0,1332.2 1516.7,1332.4 1517.4,1333.6 1518.1,1332.7 1518.9,1334.3 1519.6,1333.7 1520.3,1335.3 1521.1,1334.2 1521.8,1334.2 1522.5,1334.0 1523.3,1335.4 1524.0,1335.0 1524.7,1335.4 1525.4,1334.3 1526.2,1335.3 1526.9,1335.1 1527.6,1335.3 1528.4,1335.6 1529.8,1334.6 1531.3,1335.3 1532.7,1335.6 1534.2,1334.7 1535.7,1335.6 1537.1,1335.3 1538.6,1336.4 1540.0,1335.9 1541.5,1334.7 1543.0,1335.2 1544.4,1335.4 1545.9,1336.0 1547.3,1335.3 1548.8,1335.3 1550.3,1335.3 1551.7,1335.5 1553.2,1335.7 1554.6,1334.8 1556.1,976.6 1556.5,985.6 1557.0,984.5 1557.5,979.6 1557.9,969.8 1558.4,976.8 1558.8,980.5 1559.3,978.7 1559.7,974.6 1560.2,983.6 1560.6,975.9 1561.1,979.7 1561.5,981.1 1562.0,987.1 1562.4,980.3 1562.9,981.1 1563.4,980.1 1563.8,978.6 1564.3,984.0 1564.7,980.5 1565.2,977.8 1565.6,974.6 1566.1,983.7 1566.5,981.5 1567.0,976.3 1567.4,982.1 1567.9,980.4 1568.3,971.3 1568.8,976.8 1569.3,978.6 1569.7,981.6 1570.2,982.5 1570.6,978.4 1571.1,981.8 1571.5,974.7 1572.0,973.2 1572.4,985.6 1572.9,982.0 1573.3,980.2 1573.8,980.4 1574.2,974.9 1574.7,980.5 1575.2,975.4 1575.6,980.0 1576.1,985.1 1576.5,975.6 1577.0,981.9 1577.4,980.4 1577.9,972.3 1578.3,970.7 1578.8,980.1 1579.2,967.6 1579.7,980.9 1580.2,969.2 1580.6,973.9 1581.1,981.6 1581.5,983.2 1582.0,978.9 1582.4,980.2 1582.9,973.3 1583.3,974.4 1583.8,973.1 1584.2,979.0 1584.7,976.9 1585.1,975.1 1585.6,975.5 1586.1,973.3 1586.5,979.7 1587.0,975.4 1587.4,973.1 1587.9,972.3 1588.3,965.1 1588.8,983.5 1589.2,979.7 1589.7,983.5 1590.1,972.2 1590.6,978.2 1591.0,976.5 1591.5,971.6 1592.0,979.8 1592.4,972.6 1592.9,972.4 1593.3,975.1 1593.8,977.8 1594.2,972.3 1594.7,974.1 1595.1,978.5 1595.6,981.7 1596.0,972.1 1596.5,976.0 1597.0,976.1 1597.4,975.7 1597.9,968.6 1598.3,980.0 1598.8,972.4 1599.2,982.3 1599.7,963.7 1600.1,978.3 1600.6,967.8 1601.0,983.1 1601.5,979.0 1601.9,977.5 1602.4,1318.1 1602.9,1319.9 1603.3,1321.4 1604.0,1323.7 1604.8,1324.5 1605.5,1327.2 1606.2,1328.3 1607.0,1328.7 1607.7,1328.8 1608.4,1330.1 1609.1,1332.0 1609.9,1331.8 1610.6,1332.4 1611.3,1332.1 1612.1,1334.3 1612.8,1333.4 1613.5,1334.4 1614.3,1335.5 1615.0,1333.4 1615.7,1334.0 1616.4,1334.4 1617.2,1335.3 1617.9,1334.2 1618.6,1334.7 1619.4,1335.0 1620.1,1335.2 1620.8,1335.4 1621.5,1334.6 1622.3,1334.5 1623.7,1335.7 1625.2,1335.3 1626.7,1336.0 1628.1,1335.3 1629.6,1335.9 1631.0,1334.7 1632.5,1335.9 1634.0,1335.0 1635.4,1335.5 1636.9,1335.8 1638.3,1336.0 1639.8,1334.2 1641.2,1336.1 1642.7,1335.3" fill="none" stroke="#FF0000" stroke-width="4.0" stroke-linejoin="round" stroke-linecap="round"/>
<path d="M1044.1,1335.2 1045.6,1336.4 1047.0,1335.3 1048.5,1335.3 1049.9,1335.5 1051.4,1335.8 1052.9,1334.8 1054.3,1334.6 1055.8,1335.0 1057.2,1335.6 1058.7,1336.3 1060.2,1335.1 1061.6,1335.5 1063.1,1336.0 1064.5,1335.2 1066.0,1336.2 1067.4,1334.2 1068.9,1337.3 1070.4,1335.1 1071.8,1334.4 1073.3,1335.0 1074.7,1335.4 1076.2,1334.5 1077.7,1336.1 1079.1,1336.1 1080.6,1335.6 1082.0,1335.8 1083.5,1335.6 1084.0,1335.4 1084.4,1220.2 1084.9,1218.4 1085.3,1221.0 1085.8,1219.0 1086.2,1220.6 1086.7,1221.8 1087.1,1220.5 1087.6,1220.4 1088.0,1219.2 1088.5,1219.3 1089.0,1217.0 1089.4,1216.4 1089.9,1218.4 1090.3,1218.3 1090.8,1216.6 1091.2,1216.8 1091.7,1220.7 1092.1,1220.5 1092.6,1219.2 1093.0,1221.5 1093.5,1220.1 1093.9,1222.0 1094.4,1223.7 1094.9,1221.2 1095.3,1222.7 1095.8,1221.3 1096.2,1221.9 1096.7,1220.9 1097.1,1216.8 1097.6,1220.3 1098.0,1220.5 1098.5,1218.5 1098.9,1215.2 1099.4,1217.9 1099.8,1218.1 1100.3,1217.7 1100.8,1219.1 1101.2,1220.8 1101.7,1219.7 1102.1,1222.5 1102.6,1219.0 1103.0,1219.2 1103.5,1221.7 1103.9,1218.0 1104.4,1219.4 1104.8,1221.4 1105.3,1220.7 1105.7,1218.6 1106.2,1221.3 1106.7,1220.4 1107.1,1218.0 1107.6,1221.6 1108.0,1221.0 1108.5,1221.1 1108.9,1220.0 1109.4,1219.9 1109.8,1222.2 1110.3,1220.8 1110.7,1218.1 1111.2,1218.3 1111.7,1218.0 1112.1,1220.2 1112.6,1219.2 1113.0,1218.8 1113.5,1220.8 1113.9,1216.8 1114.4,1218.1 1114.8,1220.4 1115.3,1218.7 1115.7,1218.8 1116.2,1222.4 1116.6,1216.8 1117.1,1217.3 1117.6,1220.0 1118.0,1216.0 1118.5,1219.8 1118.9,1219.2 1119.4,1216.9 1119.8,1220.1 1120.3,1217.9 1120.7,1220.6 1121.2,1217.3 1121.6,1217.0 1122.1,1215.5 1122.5,1217.1 1123.0,1216.1 1123.5,1216.8 1123.9,1217.4 1124.4,1219.1 1124.8,1221.3 1125.3,1219.4 1125.7,1219.4 1126.2,1222.7 1126.6,1218.9 1127.1,1218.8 1127.5,1220.4 1128.0,1219.2 1128.5,1219.5 1128.9,1221.1 1129.4,1220.6 1129.8,1219.5 1130.3,1218.8 1130.7,1217.5 1131.2,1218.8 1131.6,1222.6 1132.1,1218.7 1132.5,1222.6 1133.0,1218.5 1133.4,1221.4 1133.9,1219.1 1134.4,1221.5 1134.8,1221.7 1135.3,1222.7 1135.7,1320.1 1136.2,1323.1 1136.6,1323.3 1137.4,1324.5 1138.1,1325.5 1138.8,1327.0 1139.5,1329.2 1140.3,1328.5 1141.0,1330.7 1141.7,1330.6 1142.5,1332.2 1143.2,1331.5 1143.9,1332.5 1144.6,1333.3 1145.4,1333.3 1146.1,1334.6 1146.8,1333.8 1147.6,1334.8 1148.3,1334.6 1149.0,1333.7 1149.8,1334.7 1150.5,1335.3 1151.2,1335.6 1151.9,1334.8 1152.7,1335.8 1153.4,1335.6 1154.1,1334.9 1154.9,1335.3 1155.6,1334.9 1157.1,1335.0 1158.5,1334.6 1160.0,1335.4 1161.4,1335.6 1162.9,1334.6 1164.4,1334.3 1165.8,1335.0 1167.3,1334.7 1168.7,1334.6 1170.2,1334.8 1171.6,1334.9 1173.1,1334.9 1174.6,1335.6 1176.0,1335.7 1177.5,1334.9 1178.9,1334.2 1180.4,1334.7 1181.9,1335.3 1183.3,1221.0 1183.8,1218.2 1184.2,1221.7 1184.7,1220.1 1185.1,1221.3 1185.6,1217.8 1186.0,1221.8 1186.5,1223.0 1187.0,1220.5 1187.4,1216.9 1187.9,1217.4 1188.3,1217.1 1188.8,1220.0 1189.2,1216.3 1189.7,1220.8 1190.1,1216.5 1190.6,1221.2 1191.0,1217.8 1191.5,1223.0 1191.9,1219.7 1192.4,1221.9 1192.9,1217.2 1193.3,1220.8 1193.8,1219.1 1194.2,1217.0 1194.7,1217.1 1195.1,1221.9 1195.6,1219.8 1196.0,1221.3 1196.5,1217.2 1196.9,1222.0 1197.4,1222.3 1197.9,1219.5 1198.3,1218.0 1198.8,1216.9 1199.2,1218.9 1199.7,1218.5 1200.1,1221.4 1200.6,1220.6 1201.0,1221.0 1201.5,1221.4 1201.9,1221.6 1202.4,1221.9 1202.8,1218.3 1203.3,1221.4 1203.8,1216.9 1204.2,1222.4 1204.7,1218.3 1205.1,1218.1 1205.6,1220.8 1206.0,1217.0 1206.5,1219.4 1206.9,1216.8 1207.4,1216.6 1207.8,1218.9 1208.3,1218.5 1208.7,1220.8 1209.2,1218.2 1209.7,1220.7 1210.1,1218.3 1210.6,1219.2 1211.0,1222.6 1211.5,1221.9 1211.9,1219.5 1212.4,1221.2 1212.8,1221.0 1213.3,1220.6 1213.7,1218.7 1214.2,1219.3 1214.6,1223.0 1215.1,1218.7 1215.6,1222.9 1216.0,1222.2 1216.5,1218.8 1216.9,1220.9 1217.4,1222.3 1217.8,1220.3 1218.3,1219.5 1218.7,1216.6 1219.2,1221.1 1219.6,1219.9 1220.1,1222.0 1220.6,1221.1 1221.0,1221.2 1221.5,1219.0 1221.9,1220.0 1222.4,1221.1 1222.8,1217.9 1223.3,1220.5 1223.7,1222.4 1224.2,1221.3 1224.6,1220.9 1225.1,1218.2 1225.5,1217.6 1226.0,1218.3 1226.5,1221.6 1226.9,1222.3 1227.4,1319.2 1227.8,1320.3 1228.3,1322.4 1228.7,1324.4 1229.5,1325.4 1230.2,1326.8 1230.9,1328.0 1231.6,1328.8 1232.4,1330.9 1233.1,1332.3 1233.8,1330.8 1234.6,1333.4 1235.3,1332.4 1236.0,1332.8 1236.8,1333.5 1237.5,1334.0 1238.2,1334.1 1238.9,1334.2 1239.7,1334.7 1240.4,1334.6 1241.1,1333.7 1241.9,1334.8 1242.6,1334.1 1243.3,1334.5 1244.0,1334.2 1244.8,1334.6 1245.5,1334.2 1246.2,1334.6 1247.0,1335.4 1248.4,1335.2 1249.9,1334.1 1251.3,1335.6 1252.8,1334.2 1254.3,1335.7 1255.7,1335.1 1257.2,1334.0 1258.6,1334.9 1260.1,1335.6 1261.6,1336.5 1263.0,1334.9 1264.5,1335.3 1265.9,1334.4 1267.4,1335.7 1268.9,1335.3 1270.3,1335.1 1271.8,1334.8 1273.2,1336.7 1273.7,1334.8 1274.1,1218.1 1274.6,1217.1 1275.1,1219.2 1275.5,1221.4 1276.0,1222.5 1276.4,1222.3 1276.9,1218.0 1277.3,1222.2 1277.8,1218.7 1278.2,1220.0 1278.7,1217.5 1279.1,1220.1 1279.6,1216.8 1280.0,1218.5 1280.5,1218.1 1281.0,1221.0 1281.4,1219.7 1281.9,1217.9 1282.3,1220.2 1282.8,1223.0 1283.2,1218.3 1283.7,1221.9 1284.1,1221.5 1284.6,1218.6 1285.0,1220.9 1285.5,1219.9 1285.9,1220.3 1286.4,1225.1 1286.9,1220.9 1287.3,1219.6 1287.8,1220.3 1288.2,1218.5 1288.7,1219.8 1289.1,1218.2 1289.6,1221.0 1290.0,1218.2 1290.5,1219.1 1290.9,1220.6 1291.4,1219.6 1291.8,1218.0 1292.3,1220.7 1292.8,1216.9 1293.2,1220.0 1293.7,1218.8 1294.1,1220.3 1294.6,1223.1 1295.0,1218.5 1295.5,1221.9 1295.9,1217.9 1296.4,1220.9 1296.8,1219.1 1297.3,1220.1 1297.8,1218.3 1298.2,1222.6 1298.7,1223.1 1299.1,1219.2 1299.6,1222.8 1300.0,1223.8 1300.5,1224.7 1300.9,1222.6 1301.4,1220.1 1301.8,1222.2 1302.3,1222.9 1302.7,1220.5 1303.2,1223.8 1303.7,1221.9 1304.1,1220.3 1304.6,1222.7 1305.0,1223.8 1305.5,1220.3 1305.9,1224.7 1306.4,1222.7 1306.8,1222.8 1307.3,1220.1 1307.7,1223.0 1308.2,1220.4 1308.6,1223.4 1309.1,1223.8 1309.6,1219.8 1310.0,1219.5 1310.5,1219.6 1310.9,1222.5 1311.4,1223.1 1311.8,1223.0 1312.3,1223.5 1312.7,1222.1 1313.2,1224.1 1313.6,1220.9 1314.1,1223.1 1314.5,1222.9 1315.0,1221.2 1315.5,1224.3 1315.9,1224.7 1316.4,1224.5 1316.8,1319.2 1317.3,1320.3 1317.7,1321.8 1318.2,1324.8 1318.9,1325.2 1319.6,1326.7 1320.4,1327.5 1321.1,1328.6 1321.8,1331.1 1322.6,1331.2 1323.3,1332.5 1324.0,1331.5 1324.7,1331.6 1325.5,1333.4 1326.2,1333.1 1326.9,1334.4 1327.7,1335.1 1328.4,1333.0 1329.1,1334.5 1329.9,1333.3 1330.6,1333.5 1331.3,1335.1 1332.0,1334.6 1332.8,1335.3 1333.5,1334.5 1334.2,1334.9 1335.0,1335.1 1335.7,1334.9 1336.4,1335.1 1337.9,1334.1 1339.3,1335.6 1340.8,1335.8 1342.3,1335.0 1343.7,1336.0 1345.2,1335.2 1346.6,1335.2 1348.1,1335.1 1349.6,1334.5 1351.0,1335.7 1352.5,1335.8 1353.9,1335.5 1355.4,1334.6 1356.9,1335.3 1358.3,1335.5 1359.8,1335.8 1361.2,1335.2 1362.7,1335.2 1364.2,1335.1 1365.6,1334.9 1367.1,1336.4 1368.5,1222.0 1369.0,1219.8 1369.4,1222.8 1369.9,1219.0 1370.3,1217.8 1370.8,1220.7 1371.3,1220.3 1371.7,1219.9 1372.2,1219.3 1372.6,1222.2 1373.1,1223.5 1373.5,1220.9 1374.0,1218.8 1374.4,1222.9 1374.9,1224.0 1375.3,1223.6 1375.8,1222.5 1376.2,1219.9 1376.7,1221.9 1377.2,1223.8 1377.6,1220.1 1378.1,1224.1 1378.5,1220.8 1379.0,1221.0 1379.4,1219.4 1379.9,1222.0 1380.3,1222.9 1380.8,1219.7 1381.2,1219.0 1381.7,1220.7 1382.2,1219.3 1382.6,1218.8 1383.1,1223.6 1383.5,1218.6 1384.0,1221.4 1384.4,1221.0 1384.9,1222.9 1385.3,1224.5 1385.8,1222.0 1386.2,1222.1 1386.7,1221.4 1387.1,1222.8 1387.6,1222.5 1388.1,1219.3 1388.5,1221.0 1389.0,1222.4 1389.4,1221.6 1389.9,1219.2 1390.3,1222.4 1390.8,1222.3 1391.2,1220.8 1391.7,1221.2 1392.1,1223.2 1392.6,1221.8 1393.0,1219.9 1393.5,1222.0 1394.0,1220.1 1394.4,1221.3 1394.9,1222.1 1395.3,1221.5 1395.8,1222.0 1396.2,1221.5 1396.7,1221.5 1397.1,1222.5 1397.6,1219.5 1398.0,1220.8 1398.5,1223.4 1398.9,1219.8 1399.4,1220.2 1399.9,1222.2 1400.3,1218.4 1400.8,1216.5 1401.2,1217.2 1401.7,1218.2 1402.1,1217.5 1402.6,1216.8 1403.0,1221.8 1403.5,1219.1 1403.9,1222.2 1404.4,1219.3 1404.9,1217.5 1405.3,1222.1 1405.8,1220.0 1406.2,1223.8 1406.7,1220.0 1407.1,1220.8 1407.6,1223.2 1408.0,1220.1 1408.5,1220.5 1408.9,1221.7 1409.4,1217.3 1409.8,1220.6 1410.3,1222.8 1410.8,1219.9 1411.2,1222.0 1411.7,1219.9 1412.1,1223.3 1412.6,1217.6 1413.0,1218.9 1413.5,1220.7 1413.9,1321.2 1414.4,1321.1 1414.8,1322.7 1415.6,1325.5 1416.3,1325.5 1417.0,1328.1 1417.8,1329.5 1418.5,1330.4 1419.2,1330.1 1419.9,1331.1 1420.7,1332.1 1421.4,1332.5 1422.1,1333.3 1422.9,1332.5 1423.6,1333.3 1424.3,1334.4 1425.1,1333.8 1425.8,1333.8 1426.5,1334.1 1427.2,1334.3 1428.0,1334.3 1428.7,1335.4 1429.4,1335.4 1430.2,1335.3 1430.9,1334.8 1431.6,1334.0 1432.4,1335.5 1433.1,1334.3 1434.5,1335.1 1436.0,1335.9 1437.5,1334.3 1438.9,1335.6 1440.4,1335.1 1441.8,1336.1 1443.3,1335.6 1444.8,1335.4 1446.2,1335.4 1447.7,1335.0 1449.1,1335.7 1450.6,1335.0 1452.1,1336.2 1453.5,1335.0 1455.0,1335.1 1456.4,1334.9 1457.9,1335.1 1459.3,1334.9 1460.8,1335.7 1461.3,1335.8 1461.7,1220.3 1462.2,1218.3 1462.6,1221.0 1463.1,1221.9 1463.5,1220.6 1464.0,1219.8 1464.4,1220.7 1464.9,1223.2 1465.3,1218.9 1465.8,1219.1 1466.3,1223.1 1466.7,1221.3 1467.2,1220.5 1467.6,1222.6 1468.1,1221.0 1468.5,1220.6 1469.0,1219.6 1469.4,1222.5 1469.9,1225.8 1470.3,1219.7 1470.8,1221.3 1471.3,1221.9 1471.7,1225.4 1472.2,1221.4 1472.6,1221.7 1473.1,1220.5 1473.5,1223.8 1474.0,1224.5 1474.4,1221.0 1474.9,1221.3 1475.3,1223.8 1475.8,1219.8 1476.2,1223.7 1476.7,1222.0 1477.2,1221.2 1477.6,1224.4 1478.1,1225.3 1478.5,1220.3 1479.0,1221.1 1479.4,1225.1 1479.9,1223.3 1480.3,1224.2 1480.8,1223.3 1481.2,1226.8 1481.7,1222.6 1482.1,1226.0 1482.6,1221.1 1483.1,1224.7 1483.5,1226.4 1484.0,1220.9 1484.4,1224.4 1484.9,1220.5 1485.3,1221.9 1485.8,1224.4 1486.2,1223.6 1486.7,1223.5 1487.1,1223.6 1487.6,1223.7 1488.1,1218.4 1488.5,1218.4 1489.0,1217.7 1489.4,1223.9 1489.9,1223.6 1490.3,1221.4 1490.8,1222.4 1491.2,1222.5 1491.7,1223.6 1492.1,1224.0 1492.6,1222.4 1493.0,1225.4 1493.5,1222.8 1494.0,1223.0 1494.4,1220.9 1494.9,1224.0 1495.3,1224.2 1495.8,1224.4 1496.2,1220.8 1496.7,1224.5 1497.1,1225.6 1497.6,1221.7 1498.0,1219.7 1498.5,1225.3 1498.9,1221.0 1499.4,1225.3 1499.9,1220.8 1500.3,1224.0 1500.8,1223.1 1501.2,1221.5 1501.7,1223.8 1502.1,1225.9 1502.6,1226.1 1503.0,1222.5 1503.5,1222.6 1503.9,1223.7 1504.4,1223.1 1504.8,1222.1 1505.3,1226.1 1505.8,1220.5 1506.2,1224.3 1506.7,1224.9 1507.1,1224.4 1507.6,1222.1 1508.0,1225.8 1508.5,1320.6 1508.9,1321.1 1509.4,1323.1 1510.1,1326.2 1510.8,1326.4 1511.6,1328.3 1512.3,1328.8 1513.0,1329.9 1513.8,1331.0 1514.5,1330.9 1515.2,1332.2 1516.0,1333.3 1516.7,1333.2 1517.4,1332.4 1518.1,1333.8 1518.9,1334.3 1519.6,1335.9 1520.3,1334.8 1521.1,1334.8 1521.8,1334.3 1522.5,1335.5 1523.3,1334.6 1524.0,1334.2 1524.7,1335.6 1525.4,1335.1 1526.2,1334.1 1526.9,1334.9 1527.6,1335.7 1528.4,1335.4 1529.8,1333.8 1531.3,1335.6 1532.7,1336.7 1534.2,1335.6 1535.7,1335.7 1537.1,1335.7 1538.6,1335.2 1540.0,1334.5 1541.5,1334.4 1543.0,1334.4 1544.4,1335.1 1545.9,1335.7 1547.3,1335.8 1548.8,1336.1 1550.3,1334.8 1551.7,1335.7 1553.2,1334.9 1554.6,1335.1 1556.1,1218.5 1556.5,1218.7 1557.0,1222.3 1557.5,1220.8 1557.9,1221.8 1558.4,1222.9 1558.8,1221.7 1559.3,1221.5 1559.7,1219.9 1560.2,1219.5 1560.6,1220.6 1561.1,1218.5 1561.5,1219.0 1562.0,1219.3 1562.4,1222.8 1562.9,1219.4 1563.4,1218.1 1563.8,1221.3 1564.3,1222.3 1564.7,1221.2 1565.2,1218.1 1565.6,1218.3 1566.1,1219.0 1566.5,1221.0 1567.0,1221.1 1567.4,1220.4 1567.9,1222.1 1568.3,1222.6 1568.8,1221.9 1569.3,1219.2 1569.7,1222.7 1570.2,1222.0 1570.6,1218.2 1571.1,1221.0 1571.5,1219.7 1572.0,1218.8 1572.4,1220.8 1572.9,1217.5 1573.3,1216.6 1573.8,1215.9 1574.2,1216.2 1574.7,1221.0 1575.2,1219.3 1575.6,1219.5 1576.1,1219.0 1576.5,1219.4 1577.0,1221.4 1577.4,1220.2 1577.9,1220.7 1578.3,1221.4 1578.8,1218.9 1579.2,1220.3 1579.7,1222.7 1580.2,1217.0 1580.6,1217.4 1581.1,1218.4 1581.5,1220.7 1582.0,1221.1 1582.4,1219.6 1582.9,1217.9 1583.3,1221.1 1583.8,1220.2 1584.2,1218.1 1584.7,1218.6 1585.1,1216.1 1585.6,1216.5 1586.1,1220.9 1586.5,1218.9 1587.0,1218.7 1587.4,1221.7 1587.9,1221.6 1588.3,1218.4 1588.8,1220.4 1589.2,1220.8 1589.7,1219.5 1590.1,1219.8 1590.6,1221.2 1591.0,1221.6 1591.5,1217.2 1592.0,1220.1 1592.4,1218.5 1592.9,1218.9 1593.3,1218.0 1593.8,1219.0 1594.2,1221.1 1594.7,1220.3 1595.1,1218.9 1595.6,1218.9 1596.0,1222.2 1596.5,1217.6 1597.0,1220.6 1597.4,1217.2 1597.9,1217.4 1598.3,1217.4 1598.8,1216.9 1599.2,1220.8 1599.7,1220.2 1600.1,1217.6 1600.6,1221.2 1601.0,1221.3 1601.5,1222.3 1601.9,1216.4 1602.4,1318.8 1602.9,1321.2 1603.3,1322.6 1604.0,1324.4 1604.8,1325.6 1605.5,1327.9 1606.2,1328.3 1607.0,1329.1 1607.7,1330.3 1608.4,1331.9 1609.1,1331.2 1609.9,1331.1 1610.6,1331.9 1611.3,1333.5 1612.1,1333.8 1612.8,1333.7 1613.5,1334.1 1614.3,1333.8 1615.0,1333.4 1615.7,1333.9 1616.4,1334.0 1617.2,1334.4 1617.9,1335.4 1618.6,1335.5 1619.4,1334.7 1620.1,1334.7 1620.8,1335.0 1621.5,1334.8 1622.3,1335.3 1623.7,1335.6 1625.2,1334.9 1626.7,1335.3" fill="none" stroke="#FF007F" stroke-width="4.0" stroke-linejoin="round" stroke-linecap="round"/>
<path d="M1044.1,1336.1 1045.6,1336.4 1047.0,1335.8 1048.5,1335.5 1049.9,1336.7 1051.4,1335.8 1052.9,1336.3 1054.3,1335.6 1055.8,1335.4 1057.2,1337.6 1058.7,1335.6 1060.2,1336.0 1061.6,1336.1 1063.1,1336.4 1064.5,1335.6 1066.0,1337.2 1067.4,1335.5 1068.9,1335.5 1070.4,1336.3 1071.8,1335.7 1073.3,1336.0 1074.7,1336.3 1076.2,1337.0 1077.7,1336.6 1079.1,1335.3 1080.6,1335.3 1082.0,1335.8 1083.5,1335.9 1084.0,1335.6 1084.4,1116.7 1084.9,1120.9 1085.3,1122.6 1085.8,1121.3 1086.2,1126.6 1086.7,1119.9 1087.1,1121.0 1087.6,1117.5 1088.0,1119.6 1088.5,1117.7 1089.0,1119.2 1089.4,1116.5 1089.9,1120.2 1090.3,1119.9 1090.8,1113.7 1091.2,1115.4 1091.7,1119.5 1092.1,1117.7 1092.6,1117.9 1093.0,1121.2 1093.5,1119.6 1093.9,1118.5 1094.4,1119.1 1094.9,1118.9 1095.3,1120.4 1095.8,1120.3 1096.2,1115.0 1096.7,1117.8 1097.1,1119.6 1097.6,1118.1 1098.0,1126.0 1098.5,1122.3 1098.9,1121.0 1099.4,1116.6 1099.8,1125.4 1100.3,1118.9 1100.8,1122.5 1101.2,1123.2 1101.7,1123.9 1102.1,1124.0 1102.6,1121.5 1103.0,1120.5 1103.5,1121.7 1103.9,1123.5 1104.4,1120.9 1104.8,1116.9 1105.3,1122.2 1105.7,1121.1 1106.2,1116.8 1106.7,1116.4 1107.1,1120.1 1107.6,1119.2 1108.0,1115.4 1108.5,1118.2 1108.9,1120.6 1109.4,1118.3 1109.8,1117.7 1110.3,1117.2 1110.7,1114.5 1111.2,1119.0 1111.7,1117.7 1112.1,1120.8 1112.6,1113.6 1113.0,1115.6 1113.5,1119.5 1113.9,1117.9 1114.4,1120.0 1114.8,1116.0 1115.3,1117.9 1115.7,1116.1 1116.2,1119.9 1116.6,1116.0 1117.1,1122.9 1117.6,1125.2 1118.0,1120.5 1118.5,1121.6 1118.9,1117.1 1119.4,1124.8 1119.8,1118.6 1120.3,1123.7 1120.7,1123.5 1121.2,1116.8 1121.6,1118.4 1122.1,1115.9 1122.5,1116.2 1123.0,1119.3 1123.5,1119.1 1123.9,1119.0 1124.4,1117.6 1124.8,1120.1 1125.3,1122.4 1125.7,1126.0 1126.2,1120.6 1126.6,1117.2 1127.1,1120.2 1127.5,1121.6 1128.0,1119.4 1128.5,1118.9 1128.9,1115.1 1129.4,1117.8 1129.8,1120.9 1130.3,1123.0 1130.7,1120.8 1131.2,1120.4 1131.6,1118.3 1132.1,1115.1 1132.5,1117.4 1133.0,1115.7 1133.4,1117.7 1133.9,1119.4 1134.4,1119.8 1134.8,1121.2 1135.3,1123.2 1135.7,1320.3 1136.2,1323.0 1136.6,1322.8 1137.4,1325.5 1138.1,1327.2 1138.8,1327.5 1139.5,1329.2 1140.3,1330.5 1141.0,1331.5 1141.7,1332.4 1142.5,1332.4 1143.2,1333.1 1143.9,1333.8 1144.6,1333.7 1145.4,1334.2 1146.1,1334.2 1146.8,1334.9 1147.6,1334.4 1148.3,1334.3 1149.0,1334.9 1149.8,1335.3 1150.5,1335.6 1151.2,1335.5 1151.9,1336.8 1152.7,1335.5 1153.4,1336.7 1154.1,1335.7 1154.9,1335.0 1155.6,1335.6 1157.1,1336.9 1158.5,1337.1 1160.0,1336.3 1161.4,1336.1 1162.9,1336.6 1164.4,1336.0 1165.8,1336.1 1167.3,1336.5 1168.7,1335.0 1170.2,1336.3 1171.6,1336.2 1173.1,1336.5 1174.6,1335.7 1176.0,1336.2 1177.5,1335.9 1178.9,1336.3 1180.4,1336.7 1181.9,1336.4 1183.3,1118.7 1183.8,1124.3 1184.2,1113.9 1184.7,1123.0 1185.1,1119.2 1185.6,1123.1 1186.0,1115.4 1186.5,1118.9 1187.0,1121.4 1187.4,1122.4 1187.9,1117.8 1188.3,1112.6 1188.8,1116.1 1189.2,1119.6 1189.7,1119.3 1190.1,1121.5 1190.6,1119.3 1191.0,1117.6 1191.5,1120.8 1191.9,1124.2 1192.4,1120.0 1192.9,1121.7 1193.3,1118.8 1193.8,1119.9 1194.2,1120.0 1194.7,1123.5 1195.1,1125.4 1195.6,1123.2 1196.0,1121.8 1196.5,1122.2 1196.9,1125.5 1197.4,1119.5 1197.9,1120.2 1198.3,1118.0 1198.8,1120.5 1199.2,1122.2 1199.7,1119.9 1200.1,1123.3 1200.6,1117.1 1201.0,1122.6 1201.5,1124.3 1201.9,1124.5 1202.4,1121.0 1202.8,1121.1 1203.3,1119.9 1203.8,1125.0 1204.2,1119.7 1204.7,1116.8 1205.1,1118.3 1205.6,1119.0 1206.0,1122.0 1206.5,1119.2 1206.9,1125.2 1207.4,1115.9 1207.8,1119.4 1208.3,1121.7 1208.7,1114.4 1209.2,1123.5 1209.7,1115.0 1210.1,1120.7 1210.6,1119.6 1211.0,1123.5 1211.5,1115.7 1211.9,1117.5 1212.4,1115.5 1212.8,1118.2 1213.3,1117.6 1213.7,1120.5 1214.2,1121.7 1214.6,1120.7 1215.1,1121.1 1215.6,1118.1 1216.0,1124.7 1216.5,1121.9 1216.9,1124.2 1217.4,1119.0 1217.8,1119.9 1218.3,1121.5 1218.7,1123.8 1219.2,1123.6 1219.6,1121.0 1220.1,1121.2 1220.6,1124.3 1221.0,1123.1 1221.5,1124.2 1221.9,1120.2 1222.4,1118.5 1222.8,1116.0 1223.3,1119.6 1223.7,1119.7 1224.2,1123.1 1224.6,1119.4 1225.1,1123.8 1225.5,1120.6 1226.0,1117.4 1226.5,1125.8 1226.9,1120.7 1227.4,1319.6 1227.8,1321.5 1228.3,1322.6 1228.7,1324.4 1229.5,1326.7 1230.2,1328.3 1230.9,1327.9 1231.6,1330.1 1232.4,1330.7 1233.1,1332.4 1233.8,1332.2 1234.6,1332.9 1235.3,1333.7 1236.0,1333.9 1236.8,1332.8 1237.5,1333.6 1238.2,1335.3 1238.9,1335.3 1239.7,1336.4 1240.4,1335.3 1241.1,1335.6 1241.9,1336.3 1242.6,1335.1 1243.3,1335.0 1244.0,1336.1 1244.8,1336.4 1245.5,1335.9 1246.2,1335.5 1247.0,1336.3 1248.4,1335.2 1249.9,1336.3 1251.3,1335.0 1252.8,1336.4 1254.3,1336.3 1255.7,1336.1 1257.2,1335.7 1258.6,1335.5 1260.1,1336.2 1261.6,1335.3 1263.0,1336.2 1264.5,1336.3 1265.9,1336.8 1267.4,1335.3 1268.9,1336.2 1270.3,1336.1 1271.8,1336.5 1273.2,1336.1 1273.7,1335.4 1274.1,1125.2 1274.6,1124.7 1275.1,1123.5 1275.5,1122.9 1276.0,1116.6 1276.4,1125.5 1276.9,1117.1 1277.3,1125.0 1277.8,1124.3 1278.2,1121.5 1278.7,1115.0 1279.1,1118.6 1279.6,1121.6 1280.0,1122.2 1280.5,1115.7 1281.0,1115.3 1281.4,1117.6 1281.9,1117.6 1282.3,1118.9 1282.8,1121.6 1283.2,1118.4 1283.7,1127.2 1284.1,1122.4 1284.6,1123.5 1285.0,1125.7 1285.5,1123.4 1285.9,1122.7 1286.4,1126.4 1286.9,1122.5 1287.3,1123.0 1287.8,1124.7 1288.2,1123.8 1288.7,1119.5 1289.1,1118.7 1289.6,1119.0 1290.0,1120.5 1290.5,1122.1 1290.9,1117.2 1291.4,1119.1 1291.8,1117.8 1292.3,1120.2 1292.8,1121.8 1293.2,1115.0 1293.7,1117.8 1294.1,1116.0 1294.6,1116.7 1295.0,1123.5 1295.5,1121.3 1295.9,1123.5 1296.4,1120.7 1296.8,1124.1 1297.3,1123.4 1297.8,1123.9 1298.2,1119.6 1298.7,1120.9 1299.1,1124.7 1299.6,1125.4 1300.0,1122.9 1300.5,1119.1 1300.9,1125.1 1301.4,1117.9 1301.8,1125.8 1302.3,1124.4 1302.7,1123.6 1303.2,1123.0 1303.7,1120.3 1304.1,1114.4 1304.6,1125.8 1305.0,1121.7 1305.5,1119.6 1305.9,1116.8 1306.4,1124.5 1306.8,1120.8 1307.3,1115.5 1307.7,1122.0 1308.2,1115.9 1308.6,1122.4 1309.1,1114.5 1309.6,1116.1 1310.0,1121.2 1310.5,1115.4 1310.9,1115.0 1311.4,1117.9 1311.8,1116.5 1312.3,1122.0 1312.7,1118.8 1313.2,1118.9 1313.6,1123.7 1314.1,1120.0 1314.5,1123.9 1315.0,1121.0 1315.5,1120.6 1315.9,1117.8 1316.4,1119.9 1316.8,1320.0 1317.3,1322.8 1317.7,1323.5 1318.2,1325.0 1318.9,1326.8 1319.6,1327.5 1320.4,1328.9 1321.1,1330.3 1321.8,1331.4 1322.6,1331.3 1323.3,1331.3 1324.0,1332.7 1324.7,1332.6 1325.5,1334.5 1326.2,1334.6 1326.9,1334.0 1327.7,1334.9 1328.4,1335.0 1329.1,1334.3 1329.9,1335.8 1330.6,1335.5 1331.3,1335.6 1332.0,1336.0 1332.8,1334.8 1333.5,1336.3 1334.2,1336.5 1335.0,1336.4 1335.7,1335.1 1336.4,1336.2 1337.9,1335.5 1339.3,1335.6 1340.8,1336.3 1342.3,1336.5 1343.7,1335.8 1345.2,1337.0 1346.6,1336.6 1348.1,1337.2 1349.6,1336.6 1351.0,1335.9 1352.5,1336.3 1353.9,1335.9 1355.4,1336.6 1356.9,1336.4 1358.3,1336.0 1359.8,1336.4 1361.2,1336.9 1362.7,1336.2 1364.2,1336.8 1365.6,1335.6 1367.1,1335.8 1368.5,1118.0 1369.0,1126.7 1369.4,1122.3 1369.9,1126.3 1370.3,1121.1 1370.8,1127.4 1371.3,1121.2 1371.7,1123.4 1372.2,1123.0 1372.6,1123.2 1373.1,1119.1 1373.5,1120.4 1374.0,1118.6 1374.4,1120.1 1374.9,1125.0 1375.3,1121.7 1375.8,1116.7 1376.2,1116.8 1376.7,1123.6 1377.2,1124.9 1377.6,1119.5 1378.1,1116.3 1378.5,1122.4 1379.0,1121.4 1379.4,1118.5 1379.9,1118.8 1380.3,1124.6 1380.8,1121.6 1381.2,1120.2 1381.7,1124.6 1382.2,1119.6 1382.6,1118.1 1383.1,1119.0 1383.5,1121.3 1384.0,1122.9 1384.4,1122.6 1384.9,1118.9 1385.3,1124.2 1385.8,1114.6 1386.2,1123.0 1386.7,1120.8 1387.1,1116.8 1387.6,1122.3 1388.1,1125.0 1388.5,1119.8 1389.0,1125.9 1389.4,1124.3 1389.9,1124.0 1390.3,1118.4 1390.8,1120.1 1391.2,1125.6 1391.7,1124.3 1392.1,1126.4 1392.6,1122.2 1393.0,1123.7 1393.5,1116.9 1394.0,1120.9 1394.4,1120.8 1394.9,1123.2 1395.3,1119.5 1395.8,1124.6 1396.2,1122.7 1396.7,1124.3 1397.1,1120.9 1397.6,1116.4 1398.0,1123.5 1398.5,1116.6 1398.9,1123.6 1399.4,1121.5 1399.9,1119.3 1400.3,1123.6 1400.8,1122.4 1401.2,1126.0 1401.7,1125.7 1402.1,1121.0 1402.6,1119.5 1403.0,1121.8 1403.5,1124.0 1403.9,1122.0 1404.4,1117.9 1404.9,1119.9 1405.3,1123.1 1405.8,1118.3 1406.2,1117.2 1406.7,1116.9 1407.1,1117.9 1407.6,1120.3 1408.0,1124.2 1408.5,1123.4 1408.9,1119.1 1409.4,1121.3 1409.8,1120.9 1410.3,1119.2 1410.8,1118.7 1411.2,1116.1 1411.7,1123.5 1412.1,1119.8 1412.6,1122.9 1413.0,1121.5 1413.5,1118.3 1413.9,1321.4 1414.4,1322.5 1414.8,1323.9 1415.6,1325.7 1416.3,1326.8 1417.0,1328.8 1417.8,1329.4 1418.5,1329.4 1419.2,1331.8 1419.9,1332.4 1420.7,1332.6 1421.4,1332.8 1422.1,1332.8 1422.9,1334.5 1423.6,1334.9 1424.3,1334.7 1425.1,1334.0 1425.8,1335.7 1426.5,1335.2 1427.2,1334.6 1428.0,1335.0 1428.7,1336.3 1429.4,1336.0 1430.2,1334.9 1430.9,1335.9 1431.6,1334.7 1432.4,1336.6 1433.1,1336.4 1434.5,1338.0 1436.0,1335.8 1437.5,1336.7 1438.9,1337.0 1440.4,1336.4 1441.8,1336.0 1443.3,1336.9 1444.8,1335.5 1446.2,1336.2 1447.7,1335.3 1449.1,1335.9 1450.6,1337.1 1452.1,1336.4 1453.5,1335.7 1455.0,1336.7 1456.4,1335.7 1457.9,1335.9 1459.3,1336.1 1460.8,1335.7 1461.3,1336.9 1461.7,1120.2 1462.2,1117.8 1462.6,1121.7 1463.1,1117.3 1463.5,1122.1 1464.0,1119.2 1464.4,1123.6 1464.9,1121.0 1465.3,1115.5 1465.8,1121.6 1466.3,1116.2 1466.7,1117.7 1467.2,1120.0 1467.6,1118.7 1468.1,1116.8 1468.5,1120.4 1469.0,1116.8 1469.4,1115.5 1469.9,1116.5 1470.3,1119.5 1470.8,1114.7 1471.3,1114.3 1471.7,1118.4 1472.2,1120.9 1472.6,1123.9 1473.1,1120.4 1473.5,1122.9 1474.0,1118.6 1474.4,1116.0 1474.9,1114.8 1475.3,1122.5 1475.8,1115.6 1476.2,1122.0 1476.7,1116.7 1477.2,1113.7 1477.6,1120.3 1478.1,1119.6 1478.5,1117.8 1479.0,1115.9 1479.4,1123.6 1479.9,1122.3 1480.3,1122.4 1480.8,1119.5 1481.2,1121.0 1481.7,1117.3 1482.1,1119.7 1482.6,1115.2 1483.1,1122.7 1483.5,1112.4 1484.0,1118.6 1484.4,1117.3 1484.9,1118.3 1485.3,1120.7 1485.8,1117.6 1486.2,1120.4 1486.7,1121.7 1487.1,1122.5 1487.6,1120.6 1488.1,1118.3 1488.5,1120.7 1489.0,1116.6 1489.4,1120.1 1489.9,1122.8 1490.3,1120.4 1490.8,1116.7 1491.2,1120.3 1491.7,1121.9 1492.1,1122.6 1492.6,1122.1 1493.0,1120.9 1493.5,1123.3 1494.0,1119.5 1494.4,1118.8 1494.9,1122.1 1495.3,1124.5 1495.8,1122.3 1496.2,1122.7 1496.7,1121.3 1497.1,1120.4 1497.6,1122.8 1498.0,1119.4 1498.5,1123.9 1498.9,1124.3 1499.4,1115.4 1499.9,1118.6 1500.3,1120.5 1500.8,1124.7 1501.2,1121.6 1501.7,1119.4 1502.1,1121.6 1502.6,1116.5 1503.0,1125.7 1503.5,1122.6 1503.9,1118.6 1504.4,1119.1 1504.8,1119.4 1505.3,1116.3 1505.8,1117.3 1506.2,1122.6 1506.7,1115.8 1507.1,1115.6 1507.6,1115.5 1508.0,1114.4 1508.5,1319.8 1508.9,1321.7 1509.4,1323.9 1510.1,1326.5 1510.8,1326.9 1511.6,1329.0 1512.3,1330.0 1513.0,1330.9 1513.8,1330.6 1514.5,1332.2 1515.2,1333.2 1516.0,1332.7 1516.7,1333.1 1517.4,1333.3 1518.1,1333.8 1518.9,1333.4 1519.6,1335.4 1520.3,1335.3 1521.1,1334.5 1521.8,1334.9 1522.5,1335.4 1523.3,1335.2 1524.0,1335.3 1524.7,1336.6 1525.4,1335.6 1526.2,1336.1 1526.9,1336.0 1527.6,1335.0 1528.4,1336.2 1529.8,1335.6 1531.3,1336.1 1532.7,1336.4 1534.2,1336.5 1535.7,1337.1 1537.1,1336.3 1538.6,1336.4 1540.0,1336.2 1541.5,1336.8 1543.0,1336.4 1544.4,1336.8 1545.9,1336.2 1547.3,1336.1 1548.8,1335.3 1550.3,1335.9 1551.7,1336.0 1553.2,1336.5 1554.6,1335.0 1556.1,1123.7 1556.5,1126.6 1557.0,1124.9 1557.5,1123.1 1557.9,1118.2 1558.4,1120.0 1558.8,1120.0 1559.3,1126.7 1559.7,1122.2 1560.2,1125.9 1560.6,1125.7 1561.1,1124.0 1561.5,1127.6 1562.0,1123.7 1562.4,1128.5 1562.9,1127.3 1563.4,1119.0 1563.8,1122.2 1564.3,1120.4 1564.7,1116.3 1565.2,1115.9 1565.6,1114.7 1566.1,1123.1 1566.5,1122.8 1567.0,1119.0 1567.4,1120.3 1567.9,1121.1 1568.3,1116.0 1568.8,1120.0 1569.3,1123.8 1569.7,1119.8 1570.2,1117.4 1570.6,1122.5 1571.1,1125.5 1571.5,1122.9 1572.0,1119.1 1572.4,1121.2 1572.9,1120.3 1573.3,1119.0 1573.8,1120.9 1574.2,1123.6 1574.7,1122.7 1575.2,1124.5 1575.6,1120.1 1576.1,1124.1 1576.5,1121.8 1577.0,1117.0 1577.4,1120.4 1577.9,1117.2 1578.3,1122.0 1578.8,1117.6 1579.2,1125.2 1579.7,1122.6 1580.2,1120.8 1580.6,1124.6 1581.1,1126.4 1581.5,1123.4 1582.0,1120.0 1582.4,1125.0 1582.9,1122.0 1583.3,1125.8 1583.8,1127.3 1584.2,1126.7 1584.7,1126.5 1585.1,1124.5 1585.6,1120.9 1586.1,1125.8 1586.5,1120.2 1587.0,1122.8 1587.4,1126.6 1587.9,1126.5 1588.3,1115.8 1588.8,1123.6 1589.2,1125.2 1589.7,1120.1 1590.1,1117.8 1590.6,1121.8 1591.0,1119.9 1591.5,1122.9 1592.0,1119.1 1592.4,1120.4 1592.9,1118.6 1593.3,1125.3 1593.8,1123.8 1594.2,1118.2 1594.7,1120.3 1595.1,1121.7 1595.6,1121.1 1596.0,1121.5 1596.5,1120.9 1597.0,1120.5 1597.4,1115.7 1597.9,1120.5 1598.3,1119.5 1598.8,1117.6 1599.2,1126.7 1599.7,1120.5 1600.1,1120.7 1600.6,1122.6 1601.0,1120.7 1601.5,1125.1 1601.9,1124.7 1602.4,1320.8 1602.9,1322.2 1603.3,1322.6 1604.0,1325.6 1604.8,1326.9 1605.5,1328.2 1606.2,1329.4 1607.0,1331.2 1607.7,1331.3 1608.4,1332.5 1609.1,1333.3 1609.9,1332.2 1610.6,1333.2 1611.3,1334.1 1612.1,1334.9 1612.8,1335.3 1613.5,1335.4 1614.3,1335.7 1615.0,1334.5 1615.7,1335.5 1616.4,1334.9 1617.2,1336.4 1617.9,1335.4 1618.6,1336.3 1619.4,1335.6 1620.1,1334.9 1620.8,1336.3 1621.5,1335.4 1622.3,1334.6 1623.7,1336.0 1625.2,1336.4 1626.7,1336.3" fill="none" stroke="#00E600" stroke-width="4.0" stroke-linejoin="round" stroke-linecap="round"/>
<path d="M1044.1,1335.0 1045.6,1335.2 1047.0,1335.6 1048.5,1334.4 1049.9,1335.1 1051.4,1335.7 1052.9,1334.9 1054.3,1334.8 1055.8,1334.9 1057.2,1335.3 1058.7,1336.9 1060.2,1334.9 1061.6,1335.2 1063.1,1335.1 1064.5,1335.7 1066.0,1335.9 1067.4,1334.9 1068.9,1335.2 1070.4,1334.3 1071.8,1336.1 1073.3,1335.3 1074.7,1335.3 1076.2,1335.9 1077.7,1334.7 1079.1,1335.2 1080.6,1335.4 1082.0,1334.8 1083.5,1334.9 1084.0,1335.9 1084.4,1041.6 1084.9,1045.7 1085.3,1047.0 1085.8,1043.2 1086.2,1049.8 1086.7,1047.4 1087.1,1040.9 1087.6,1043.8 1088.0,1046.5 1088.5,1050.6 1089.0,1045.6 1089.4,1053.0 1089.9,1048.3 1090.3,1047.0 1090.8,1045.3 1091.2,1049.0 1091.7,1049.0 1092.1,1043.6 1092.6,1053.3 1093.0,1048.9 1093.5,1051.1 1093.9,1049.2 1094.4,1053.8 1094.9,1045.2 1095.3,1045.4 1095.8,1046.2 1096.2,1052.9 1096.7,1043.7 1097.1,1047.2 1097.6,1044.4 1098.0,1051.2 1098.5,1044.5 1098.9,1044.7 1099.4,1051.0 1099.8,1049.2 1100.3,1052.0 1100.8,1049.9 1101.2,1050.1 1101.7,1044.4 1102.1,1043.4 1102.6,1050.2 1103.0,1048.4 1103.5,1046.2 1103.9,1045.5 1104.4,1049.3 1104.8,1047.5 1105.3,1048.9 1105.7,1046.8 1106.2,1048.6 1106.7,1048.8 1107.1,1051.3 1107.6,1052.8 1108.0,1048.5 1108.5,1056.7 1108.9,1053.4 1109.4,1046.5 1109.8,1047.6 1110.3,1046.3 1110.7,1048.3 1111.2,1051.4 1111.7,1045.4 1112.1,1045.4 1112.6,1043.7 1113.0,1050.5 1113.5,1053.1 1113.9,1050.3 1114.4,1050.0 1114.8,1049.0 1115.3,1053.7 1115.7,1043.0 1116.2,1048.2 1116.6,1052.1 1117.1,1049.5 1117.6,1046.9 1118.0,1049.2 1118.5,1052.9 1118.9,1052.5 1119.4,1055.1 1119.8,1051.3 1120.3,1044.6 1120.7,1044.0 1121.2,1043.9 1121.6,1048.2 1122.1,1046.6 1122.5,1044.3 1123.0,1045.7 1123.5,1045.4 1123.9,1053.6 1124.4,1046.2 1124.8,1051.8 1125.3,1045.7 1125.7,1053.3 1126.2,1054.0 1126.6,1045.8 1127.1,1050.6 1127.5,1053.2 1128.0,1051.1 1128.5,1050.4 1128.9,1053.1 1129.4,1049.1 1129.8,1049.0 1130.3,1048.2 1130.7,1051.1 1131.2,1051.6 1131.6,1048.4 1132.1,1049.3 1132.5,1050.0 1133.0,1047.9 1133.4,1041.5 1133.9,1054.2 1134.4,1051.9 1134.8,1050.1 1135.3,1049.4 1135.7,1318.2 1136.2,1320.9 1136.6,1320.3 1137.4,1322.5 1138.1,1324.7 1138.8,1326.2 1139.5,1327.6 1140.3,1328.7 1141.0,1330.4 1141.7,1330.3 1142.5,1332.4 1143.2,1331.6 1143.9,1332.0 1144.6,1333.7 1145.4,1332.6 1146.1,1333.2 1146.8,1335.4 1147.6,1334.2 1148.3,1335.1 1149.0,1335.3 1149.8,1335.5 1150.5,1335.2 1151.2,1335.2 1151.9,1334.3 1152.7,1335.4 1153.4,1335.8 1154.1,1336.2 1154.9,1335.9 1155.6,1334.9 1157.1,1335.0 1158.5,1334.8 1160.0,1334.4 1161.4,1335.4 1162.9,1335.6 1164.4,1335.6 1165.8,1335.3 1167.3,1335.8 1168.7,1335.8 1170.2,1335.2 1171.6,1335.0 1173.1,1335.2 1174.6,1335.2 1176.0,1335.4 1177.5,1335.2 1178.9,1335.9 1180.4,1336.6 1181.9,1334.8 1183.3,1053.9 1183.8,1049.0 1184.2,1052.2 1184.7,1054.2 1185.1,1053.2 1185.6,1043.6 1186.0,1045.8 1186.5,1044.9 1187.0,1049.5 1187.4,1051.1 1187.9,1048.6 1188.3,1044.0 1188.8,1051.6 1189.2,1047.0 1189.7,1049.1 1190.1,1046.0 1190.6,1054.0 1191.0,1053.9 1191.5,1052.0 1191.9,1048.7 1192.4,1050.5 1192.9,1051.2 1193.3,1052.4 1193.8,1052.1 1194.2,1048.8 1194.7,1050.4 1195.1,1044.7 1195.6,1049.1 1196.0,1050.7 1196.5,1045.6 1196.9,1052.1 1197.4,1044.9 1197.9,1046.8 1198.3,1045.7 1198.8,1050.2 1199.2,1048.3 1199.7,1049.1 1200.1,1052.5 1200.6,1048.0 1201.0,1049.5 1201.5,1042.7 1201.9,1049.2 1202.4,1043.6 1202.8,1050.8 1203.3,1050.5 1203.8,1046.3 1204.2,1048.4 1204.7,1047.0 1205.1,1044.8 1205.6,1051.6 1206.0,1042.9 1206.5,1050.6 1206.9,1041.6 1207.4,1050.9 1207.8,1049.1 1208.3,1043.1 1208.7,1050.3 1209.2,1041.6 1209.7,1046.9 1210.1,1043.6 1210.6,1047.8 1211.0,1043.0 1211.5,1041.8 1211.9,1040.8 1212.4,1051.8 1212.8,1046.7 1213.3,1044.2 1213.7,1046.2 1214.2,1043.6 1214.6,1042.2 1215.1,1043.5 1215.6,1047.9 1216.0,1045.1 1216.5,1044.7 1216.9,1050.2 1217.4,1040.2 1217.8,1039.6 1218.3,1049.8 1218.7,1041.8 1219.2,1045.0 1219.6,1049.3 1220.1,1043.5 1220.6,1047.3 1221.0,1042.4 1221.5,1046.4 1221.9,1042.6 1222.4,1044.4 1222.8,1041.7 1223.3,1044.0 1223.7,1045.6 1224.2,1040.0 1224.6,1038.9 1225.1,1040.9 1225.5,1046.2 1226.0,1038.1 1226.5,1039.3 1226.9,1039.4 1227.4,1317.2 1227.8,1319.7 1228.3,1320.7 1228.7,1322.9 1229.5,1324.8 1230.2,1326.2 1230.9,1326.7 1231.6,1327.8 1232.4,1330.0 1233.1,1331.1 1233.8,1330.7 1234.6,1332.0 1235.3,1332.8 1236.0,1333.5 1236.8,1333.4 1237.5,1332.7 1238.2,1333.3 1238.9,1334.3 1239.7,1334.9 1240.4,1334.4 1241.1,1334.3 1241.9,1334.8 1242.6,1334.2 1243.3,1334.1 1244.0,1335.3 1244.8,1335.1 1245.5,1335.1 1246.2,1336.0 1247.0,1335.5 1248.4,1336.0 1249.9,1335.7 1251.3,1336.2 1252.8,1336.1 1254.3,1334.9 1255.7,1334.8 1257.2,1334.8 1258.6,1334.9 1260.1,1335.3 1261.6,1334.2 1263.0,1335.7 1264.5,1335.7 1265.9,1335.3 1267.4,1335.3 1268.9,1335.4 1270.3,1335.3 1271.8,1334.8 1273.2,1335.8 1273.7,1335.8 1274.1,1054.5 1274.6,1056.0 1275.1,1051.2 1275.5,1053.7 1276.0,1049.9 1276.4,1055.4 1276.9,1048.4 1277.3,1052.5 1277.8,1054.9 1278.2,1051.8 1278.7,1050.6 1279.1,1055.8 1279.6,1049.5 1280.0,1048.8 1280.5,1054.1 1281.0,1051.8 1281.4,1054.5 1281.9,1056.4 1282.3,1046.1 1282.8,1051.8 1283.2,1049.1 1283.7,1047.9 1284.1,1051.4 1284.6,1047.1 1285.0,1046.7 1285.5,1046.3 1285.9,1052.7 1286.4,1050.9 1286.9,1053.6 1287.3,1049.9 1287.8,1049.7 1288.2,1049.6 1288.7,1044.9 1289.1,1047.9 1289.6,1050.8 1290.0,1055.9 1290.5,1043.7 1290.9,1044.3 1291.4,1051.0 1291.8,1048.9 1292.3,1048.3 1292.8,1044.4 1293.2,1047.8 1293.7,1043.1 1294.1,1053.7 1294.6,1052.6 1295.0,1054.6 1295.5,1051.5 1295.9,1050.1 1296.4,1052.4 1296.8,1052.5 1297.3,1049.0 1297.8,1051.9 1298.2,1054.0 1298.7,1047.2 1299.1,1048.1 1299.6,1053.5 1300.0,1051.7 1300.5,1043.7 1300.9,1056.0 1301.4,1053.6 1301.8,1049.2 1302.3,1045.1 1302.7,1048.7 1303.2,1052.9 1303.7,1048.2 1304.1,1046.4 1304.6,1043.4 1305.0,1040.9 1305.5,1049.7 1305.9,1049.6 1306.4,1050.5 1306.8,1042.2 1307.3,1047.5 1307.7,1044.5 1308.2,1042.3 1308.6,1041.2 1309.1,1047.9 1309.6,1046.9 1310.0,1046.8 1310.5,1043.0 1310.9,1047.2 1311.4,1045.6 1311.8,1043.8 1312.3,1039.9 1312.7,1043.2 1313.2,1045.7 1313.6,1046.0 1314.1,1041.0 1314.5,1046.6 1315.0,1044.7 1315.5,1050.6 1315.9,1049.1 1316.4,1046.1 1316.8,1317.3 1317.3,1319.7 1317.7,1320.3 1318.2,1323.0 1318.9,1323.9 1319.6,1326.1 1320.4,1326.4 1321.1,1329.1 1321.8,1329.0 1322.6,1329.3 1323.3,1329.4 1324.0,1331.3 1324.7,1331.8 1325.5,1332.2 1326.2,1333.7 1326.9,1333.2 1327.7,1333.6 1328.4,1334.0 1329.1,1334.4 1329.9,1334.9 1330.6,1334.6 1331.3,1334.7 1332.0,1333.9 1332.8,1335.3 1333.5,1334.4 1334.2,1334.9 1335.0,1334.4 1335.7,1335.5 1336.4,1335.1 1337.9,1334.4 1339.3,1335.2 1340.8,1334.4 1342.3,1334.9 1343.7,1334.7 1345.2,1334.9 1346.6,1334.7 1348.1,1333.4 1349.6,1336.4 1351.0,1336.7 1352.5,1335.4 1353.9,1334.9 1355.4,1335.1 1356.9,1335.6 1358.3,1335.4 1359.8,1335.5 1361.2,1334.5 1362.7,1335.0 1364.2,1334.0 1365.6,1334.6 1367.1,1335.2 1368.5,1039.7 1369.0,1035.6 1369.4,1035.9 1369.9,1039.3 1370.3,1037.5 1370.8,1035.1 1371.3,1033.4 1371.7,1039.9 1372.2,1039.6 1372.6,1042.9 1373.1,1043.9 1373.5,1043.6 1374.0,1041.4 1374.4,1046.2 1374.9,1035.3 1375.3,1039.3 1375.8,1041.9 1376.2,1037.5 1376.7,1038.2 1377.2,1039.9 1377.6,1038.0 1378.1,1040.7 1378.5,1034.1 1379.0,1040.4 1379.4,1039.7 1379.9,1039.0 1380.3,1042.3 1380.8,1035.7 1381.2,1038.9 1381.7,1039.5 1382.2,1038.2 1382.6,1040.8 1383.1,1044.4 1383.5,1035.5 1384.0,1042.8 1384.4,1044.6 1384.9,1043.6 1385.3,1046.5 1385.8,1045.3 1386.2,1040.9 1386.7,1038.9 1387.1,1038.8 1387.6,1044.8 1388.1,1046.0 1388.5,1036.7 1389.0,1037.1 1389.4,1034.3 1389.9,1043.0 1390.3,1036.8 1390.8,1039.2 1391.2,1037.8 1391.7,1036.1 1392.1,1042.2 1392.6,1037.3 1393.0,1042.5 1393.5,1038.1 1394.0,1042.1 1394.4,1048.2 1394.9,1045.3 1395.3,1037.5 1395.8,1044.8 1396.2,1040.6 1396.7,1047.3 1397.1,1043.8 1397.6,1047.0 1398.0,1043.9 1398.5,1043.5 1398.9,1038.8 1399.4,1040.0 1399.9,1039.2 1400.3,1037.0 1400.8,1043.3 1401.2,1036.4 1401.7,1038.7 1402.1,1037.0 1402.6,1041.7 1403.0,1044.0 1403.5,1045.5 1403.9,1043.7 1404.4,1046.4 1404.9,1037.3 1405.3,1036.0 1405.8,1043.3 1406.2,1043.1 1406.7,1042.9 1407.1,1041.5 1407.6,1041.8 1408.0,1037.0 1408.5,1044.0 1408.9,1042.1 1409.4,1039.3 1409.8,1039.1 1410.3,1044.2 1410.8,1045.3 1411.2,1046.6 1411.7,1045.4 1412.1,1042.1 1412.6,1045.4 1413.0,1040.4 1413.5,1046.7 1413.9,1317.8 1414.4,1320.3 1414.8,1321.9 1415.6,1322.9 1416.3,1325.7 1417.0,1326.8 1417.8,1327.5 1418.5,1328.8 1419.2,1330.4 1419.9,1330.9 1420.7,1331.0 1421.4,1331.1 1422.1,1332.5 1422.9,1333.2 1423.6,1333.7 1424.3,1334.2 1425.1,1334.3 1425.8,1335.0 1426.5,1334.7 1427.2,1334.4 1428.0,1333.8 1428.7,1335.3 1429.4,1334.2 1430.2,1334.9 1430.9,1334.9 1431.6,1335.0 1432.4,1334.7 1433.1,1334.7 1434.5,1335.2 1436.0,1335.0 1437.5,1335.9 1438.9,1335.9 1440.4,1335.5 1441.8,1335.1 1443.3,1334.6 1444.8,1336.6 1446.2,1336.2 1447.7,1334.8 1449.1,1334.8 1450.6,1334.4 1452.1,1335.1 1453.5,1334.9 1455.0,1334.1 1456.4,1334.2 1457.9,1335.1 1459.3,1336.3 1460.8,1335.5 1461.3,1335.2 1461.7,1049.4 1462.2,1049.0 1462.6,1043.2 1463.1,1049.0 1463.5,1050.2 1464.0,1046.2 1464.4,1042.7 1464.9,1045.9 1465.3,1050.8 1465.8,1044.5 1466.3,1047.4 1466.7,1049.0 1467.2,1041.0 1467.6,1037.6 1468.1,1044.7 1468.5,1045.3 1469.0,1043.6 1469.4,1044.4 1469.9,1044.1 1470.3,1039.3 1470.8,1039.3 1471.3,1035.9 1471.7,1044.6 1472.2,1038.4 1472.6,1040.5 1473.1,1037.0 1473.5,1044.6 1474.0,1039.8 1474.4,1043.9 1474.9,1046.3 1475.3,1039.3 1475.8,1044.0 1476.2,1041.9 1476.7,1048.0 1477.2,1046.3 1477.6,1044.3 1478.1,1039.5 1478.5,1038.9 1479.0,1045.8 1479.4,1037.8 1479.9,1040.3 1480.3,1034.6 1480.8,1043.1 1481.2,1035.5 1481.7,1034.7 1482.1,1042.3 1482.6,1042.6 1483.1,1040.8 1483.5,1043.2 1484.0,1041.3 1484.4,1034.0 1484.9,1040.4 1485.3,1033.7 1485.8,1041.4 1486.2,1037.5 1486.7,1040.2 1487.1,1040.7 1487.6,1040.6 1488.1,1036.4 1488.5,1038.8 1489.0,1039.4 1489.4,1033.9 1489.9,1043.2 1490.3,1037.5 1490.8,1036.8 1491.2,1038.6 1491.7,1032.5 1492.1,1041.0 1492.6,1033.0 1493.0,1034.5 1493.5,1031.4 1494.0,1034.9 1494.4,1034.2 1494.9,1040.2 1495.3,1037.1 1495.8,1032.3 1496.2,1037.6 1496.7,1032.5 1497.1,1035.3 1497.6,1033.6 1498.0,1034.2 1498.5,1030.8 1498.9,1033.9 1499.4,1035.7 1499.9,1034.7 1500.3,1030.0 1500.8,1032.3 1501.2,1031.4 1501.7,1029.5 1502.1,1037.6 1502.6,1032.6 1503.0,1031.3 1503.5,1037.1 1503.9,1029.6 1504.4,1036.1 1504.8,1029.6 1505.3,1030.4 1505.8,1033.1 1506.2,1028.7 1506.7,1033.3 1507.1,1032.3 1507.6,1031.8 1508.0,1029.5 1508.5,1318.2 1508.9,1319.7 1509.4,1321.5 1510.1,1323.4 1510.8,1324.9 1511.6,1327.5 1512.3,1327.9 1513.0,1328.5 1513.8,1330.2 1514.5,1330.5 1515.2,1331.3 1516.0,1332.5 1516.7,1332.1 1517.4,1333.3 1518.1,1333.7 1518.9,1333.6 1519.6,1332.6 1520.3,1333.8 1521.1,1334.1 1521.8,1334.7 1522.5,1334.7 1523.3,1335.2 1524.0,1335.0 1524.7,1335.5 1525.4,1334.9 1526.2,1334.8 1526.9,1335.0 1527.6,1334.7 1528.4,1335.4 1529.8,1334.8 1531.3,1334.7 1532.7,1335.5 1534.2,1334.8 1535.7,1335.4 1537.1,1333.6 1538.6,1335.2 1540.0,1335.1 1541.5,1335.0 1543.0,1336.5 1544.4,1334.8 1545.9,1335.9 1547.3,1335.6 1548.8,1334.9 1550.3,1336.5 1551.7,1335.5 1553.2,1335.6 1554.6,1335.8 1556.1,1028.2 1556.5,1031.9 1557.0,1035.6 1557.5,1032.9 1557.9,1031.2 1558.4,1037.5 1558.8,1028.2 1559.3,1033.1 1559.7,1034.3 1560.2,1036.3 1560.6,1027.4 1561.1,1033.3 1561.5,1033.5 1562.0,1026.8 1562.4,1032.3 1562.9,1027.8 1563.4,1038.4 1563.8,1037.6 1564.3,1036.1 1564.7,1035.8 1565.2,1041.0 1565.6,1030.7 1566.1,1041.2 1566.5,1037.1 1567.0,1030.9 1567.4,1035.1 1567.9,1036.2 1568.3,1035.9 1568.8,1035.4 1569.3,1037.7 1569.7,1040.1 1570.2,1035.1 1570.6,1035.9 1571.1,1033.0 1571.5,1033.1 1572.0,1039.9 1572.4,1035.6 1572.9,1035.6 1573.3,1038.5 1573.8,1032.1 1574.2,1032.7 1574.7,1029.3 1575.2,1038.9 1575.6,1033.1 1576.1,1037.5 1576.5,1033.6 1577.0,1029.8 1577.4,1038.8 1577.9,1031.5 1578.3,1030.8 1578.8,1033.3 1579.2,1037.9 1579.7,1029.4 1580.2,1034.2 1580.6,1028.3 1581.1,1028.3 1581.5,1032.8 1582.0,1037.4 1582.4,1035.7 1582.9,1026.1 1583.3,1032.5 1583.8,1034.9 1584.2,1035.2 1584.7,1032.7 1585.1,1032.3 1585.6,1029.1 1586.1,1030.8 1586.5,1031.2 1587.0,1038.3 1587.4,1033.6 1587.9,1033.6 1588.3,1035.7 1588.8,1032.1 1589.2,1035.2 1589.7,1038.5 1590.1,1036.3 1590.6,1036.6 1591.0,1029.8 1591.5,1027.7 1592.0,1033.6 1592.4,1031.5 1592.9,1036.6 1593.3,1031.8 1593.8,1037.3 1594.2,1034.8 1594.7,1038.2 1595.1,1035.7 1595.6,1038.0 1596.0,1039.4 1596.5,1036.1 1597.0,1038.8 1597.4,1035.4 1597.9,1037.7 1598.3,1035.6 1598.8,1032.6 1599.2,1032.8 1599.7,1034.4 1600.1,1034.8 1600.6,1032.4 1601.0,1035.3 1601.5,1039.8 1601.9,1031.1 1602.4,1317.3 1602.9,1318.9 1603.3,1320.1 1604.0,1322.0 1604.8,1324.7 1605.5,1327.5 1606.2,1327.0 1607.0,1328.6 1607.7,1329.9 1608.4,1330.7 1609.1,1330.6 1609.9,1332.1 1610.6,1333.3 1611.3,1332.7 1612.1,1332.9 1612.8,1334.4 1613.5,1333.8 1614.3,1333.5 1615.0,1333.6 1615.7,1333.6 1616.4,1334.8 1617.2,1334.2 1617.9,1334.7 1618.6,1333.4 1619.4,1335.0 1620.1,1335.1 1620.8,1334.4 1621.5,1334.6 1622.3,1335.6 1623.7,1335.8 1625.2,1335.9 1626.7,1334.3 1628.1,1334.9 1629.6,1335.3 1631.0,1335.5" fill="none" stroke="#0000FF" stroke-width="4.0" stroke-linejoin="round" stroke-linecap="round"/>
<line x1="1133.6" y1="807.2" x2="1183.4" y2="807.2" stroke="#FF0000" stroke-width="4.2" stroke-linecap="butt"/>
<text x="1188.3" y="814.2" font-size="35" textLength="47.5" lengthAdjust="spacingAndGlyphs">7 V</text>
<line x1="1133.2" y1="850.1" x2="1184.5" y2="850.1" stroke="#0000FF" stroke-width="4.2" stroke-linecap="butt"/>
<text x="1188.5" y="857.4" font-size="35" textLength="51" lengthAdjust="spacingAndGlyphs">9 V</text>
<line x1="1130.8" y1="893.9" x2="1182.1" y2="893.9" stroke="#00E600" stroke-width="4.2" stroke-linecap="butt"/>
<text x="1187" y="901.6" font-size="35" textLength="69" lengthAdjust="spacingAndGlyphs">11 V</text>
<line x1="1133.2" y1="937.5" x2="1184.5" y2="937.5" stroke="#FF007F" stroke-width="4.2" stroke-linecap="butt"/>
<text x="1189.3" y="945.2" font-size="35" textLength="68" lengthAdjust="spacingAndGlyphs">13 V</text>
<text x="1065.5" y="836.5" font-size="33.5" textLength="21.5" lengthAdjust="spacingAndGlyphs" font-style="italic">V</text>
<text x="1085.5" y="852.5" font-size="20" textLength="15" lengthAdjust="spacingAndGlyphs">G</text>
<text x="1108.3" y="836.8" font-size="33.5" textLength="19" lengthAdjust="spacingAndGlyphs">=</text>
<text x="1306.7" y="834.1" font-size="35" textLength="305" lengthAdjust="spacingAndGlyphs">489 nm, 100 μW cm</text>
<text x="1611.3" y="811.5" font-size="18.5" textLength="17.5" lengthAdjust="spacingAndGlyphs">-2</text>
</svg>
</body></html>
